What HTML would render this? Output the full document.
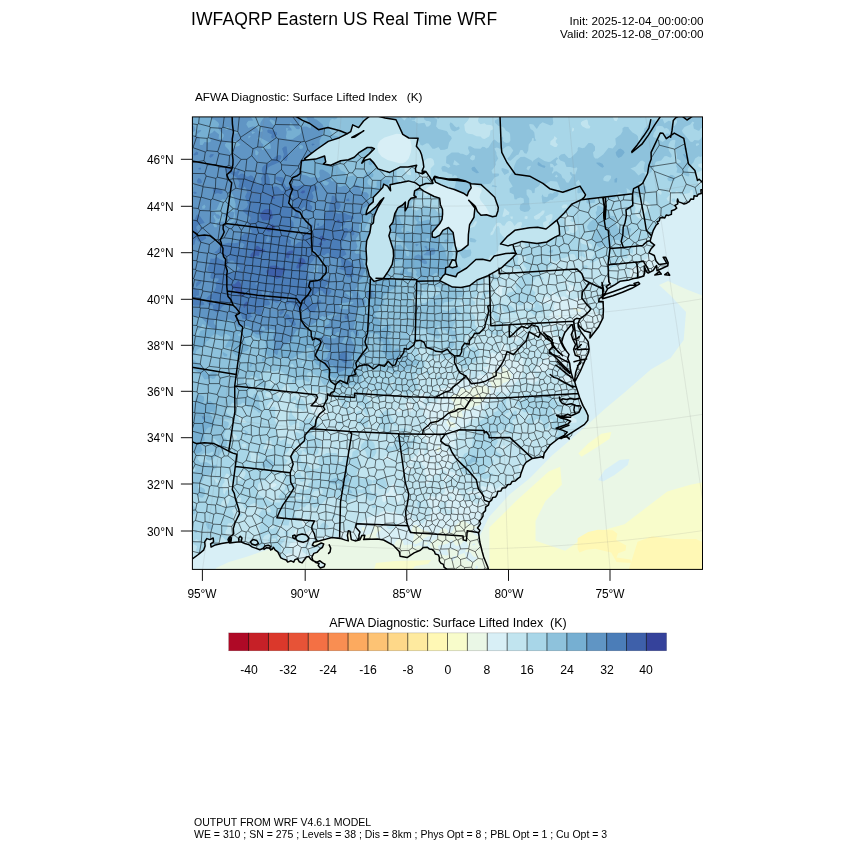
<!DOCTYPE html>
<html><head><meta charset="utf-8">
<style>
html,body{margin:0;padding:0;background:#fff;}
body{width:850px;height:850px;position:relative;overflow:hidden;font-family:"Liberation Sans",sans-serif;color:#000;}
.t{position:absolute;white-space:pre;line-height:1;}
.t,.yl,.xl,.cl{will-change:transform;}
#title{left:190.9px;top:10.5px;font-size:17.5px;letter-spacing:0.1px;}
#init{right:146.3px;top:13.6px;font-size:11.7px;text-align:right;line-height:13.3px;}
#sub{left:195.0px;top:91.1px;font-size:11.75px;}
#cbt{left:247.8px;width:400px;text-align:center;top:617px;font-size:12.45px;}
#foot{left:193.6px;top:816.1px;font-size:10.5px;line-height:12.4px;}
.yl{position:absolute;right:676.2px;font-size:11.9px;line-height:1;white-space:pre;}
.xl{position:absolute;width:60px;text-align:center;font-size:11.9px;line-height:1;top:588.9px;}
.cl{position:absolute;width:40px;text-align:center;font-size:12.2px;line-height:1;top:664.3px;}
svg{position:absolute;left:0;top:0;}
</style></head><body>
<div class="t" id="title">IWFAQRP Eastern US Real Time WRF</div>
<div class="t" id="init">Init: 2025-12-04_00:00:00
Valid: 2025-12-08_07:00:00</div>
<div class="t" id="sub">AFWA Diagnostic: Surface Lifted Index   (K)</div>
<div class="t" id="cbt">AFWA Diagnostic: Surface Lifted Index  (K)</div>
<div class="t" id="foot">OUTPUT FROM WRF V4.6.1 MODEL
WE = 310 ; SN = 275 ; Levels = 38 ; Dis = 8km ; Phys Opt = 8 ; PBL Opt = 1 ; Cu Opt = 3</div>

<div class="yl" style="top:154.8px">46°N</div>
<div class="yl" style="top:201.8px">44°N</div>
<div class="yl" style="top:248.2px">42°N</div>
<div class="yl" style="top:294.8px">40°N</div>
<div class="yl" style="top:340.8px">38°N</div>
<div class="yl" style="top:386.8px">36°N</div>
<div class="yl" style="top:433.2px">34°N</div>
<div class="yl" style="top:479.5px">32°N</div>
<div class="yl" style="top:526.5px">30°N</div>
<div class="xl" style="left:172.4px">95°W</div>
<div class="xl" style="left:275.2px">90°W</div>
<div class="xl" style="left:376.8px">85°W</div>
<div class="xl" style="left:478.5px">80°W</div>
<div class="xl" style="left:580.0px">75°W</div>
<div class="cl" style="left:228.6px">-40</div>
<div class="cl" style="left:268.4px">-32</div>
<div class="cl" style="left:308.2px">-24</div>
<div class="cl" style="left:347.9px">-16</div>
<div class="cl" style="left:387.7px">-8</div>
<div class="cl" style="left:427.5px">0</div>
<div class="cl" style="left:467.3px">8</div>
<div class="cl" style="left:507.1px">16</div>
<div class="cl" style="left:546.8px">24</div>
<div class="cl" style="left:586.6px">32</div>
<div class="cl" style="left:626.4px">40</div>
<svg width="850" height="850" viewBox="0 0 850 850">
<defs><clipPath id="fc"><rect x="192.4" y="116.9" width="510.1" height="452.5"/></clipPath></defs>
<g clip-path="url(#fc)">
<clipPath id="landc"><path d="M132.5,56.5L782.5,56.5L726.5,169.1L718.5,174.2L711.8,177.8L702.5,180.7L706.0,186.6L705.3,187.2L698.3,194.2L690.9,199.0L686.6,203.2L681.6,202.9L677.6,198.9L677.2,201.3L674.4,209.8L668.6,215.4L662.3,217.5L657.1,221.7L658.2,223.4L656.0,225.3L653.3,230.3L651.6,235.9L650.2,240.7L650.8,242.2L654.6,245.1L650.9,249.1L648.9,252.8L654.3,255.5L656.0,261.0L659.0,264.5L666.6,263.4L665.4,260.8L663.1,257.2L665.7,257.3L668.2,262.7L667.8,265.8L657.0,270.8L656.6,265.5L653.0,270.6L649.5,272.3L648.2,273.1L646.3,271.6L644.2,266.1L644.7,272.9L643.8,276.0L637.5,278.0L633.4,278.5L629.2,279.9L619.9,281.3L615.1,284.6L607.6,288.8L604.9,293.7L602.7,295.1L602.7,289.3L602.0,282.5L603.5,289.3L603.0,292.7L601.8,297.4L599.3,298.4L598.7,301.6L603.1,301.4L603.4,309.9L603.0,317.9L598.3,327.3L589.9,338.0L590.3,332.4L584.8,331.1L579.1,325.9L578.0,323.7L578.3,327.1L581.4,332.5L585.4,337.9L588.1,341.6L589.1,349.0L588.5,352.5L584.0,362.8L580.2,371.5L575.2,381.1L575.0,385.0L575.6,385.7L578.0,393.5L580.8,400.1L585.1,407.8L587.4,414.5L586.8,423.0L578.3,427.4L569.2,438.9L566.8,436.8L558.4,438.5L550.3,444.8L544.2,453.2L543.3,458.0L542.5,456.7L532.3,458.4L526.0,462.4L523.8,465.7L520.8,473.9L517.7,478.6L512.0,481.6L507.7,484.7L505.5,487.8L497.8,491.3L497.0,494.7L492.7,497.4L489.4,501.8L485.6,507.2L483.1,513.0L481.3,518.9L479.1,525.8L478.6,532.8L479.8,542.0L482.1,551.2L483.7,557.0L487.9,567.3L489.0,571.9L494.4,583.4L454.6,584.0L452.5,574.7L446.4,568.9L439.3,560.8L439.3,557.3L434.4,551.5L427.4,547.3L423.4,547.4L420.3,550.2L414.1,552.9L407.1,557.6L400.1,556.2L399.2,551.4L393.4,545.4L383.6,540.0L377.6,539.1L363.6,539.6L364.0,538.9L364.8,535.3L361.8,535.6L360.0,539.7L357.2,540.5L355.1,540.9L351.3,539.6L350.8,536.5L350.0,531.2L348.3,530.8L347.4,535.4L348.3,540.9L345.5,540.1L340.2,538.4L331.8,537.5L324.4,539.6L319.1,540.9L313.8,542.2L312.3,545.2L314.8,546.4L318.2,544.7L321.2,543.0L323.7,543.9L322.5,547.3L319.5,549.4L316.9,552.4L313.8,553.4L311.9,557.0L312.7,560.0L315.7,562.5L319.1,563.4L318.2,565.5L320.3,568.0L324.1,566.8L325.0,564.2L322.5,562.9L319.9,560.8L316.9,562.1L313.1,560.8L310.6,559.1L308.9,556.6L306.4,557.0L304.2,560.0L302.1,562.9L299.2,561.7L297.5,558.7L294.9,559.6L293.7,562.1L291.1,560.8L287.7,562.1L286.2,560.0L283.5,559.1L280.9,557.9L279.3,554.9L277.8,551.9L275.0,549.8L273.5,547.3L272.1,549.4L269.3,548.5L270.8,546.4L268.2,545.2L265.1,546.0L262.9,548.5L259.8,549.8L255.5,548.1L252.4,547.1L249.2,544.9L244.9,543.5L240.7,541.8L235.4,542.2L229.7,543.0L229.1,542.2L221.6,543.5L215.3,544.9L211.1,547.1L210.6,543.9L213.6,541.8L213.2,538.0L210.0,539.6L206.8,538.6L204.7,541.8L205.1,546.0L203.6,550.2L198.4,554.5L192.0,559.1L180.0,566.0L150.0,590.0L132.5,629.0Z"/></clipPath>
<clipPath id="lakec"><path d="M374.1,281.4L369.3,276.0L368.2,271.3L366.2,264.2L366.7,259.2L366.0,248.8L366.7,240.7L369.9,232.6L371.1,224.9L373.4,223.0L374.0,216.6L375.3,213.5L377.7,207.9L383.0,199.0L383.8,197.8L380.5,200.7L376.2,206.6L371.1,211.0L366.0,214.6L366.7,210.7L368.9,205.6L373.2,201.9L373.4,197.3L378.5,191.9L382.7,187.5L383.7,184.1L387.6,186.1L390.6,190.8L390.0,184.8L395.6,183.4L401.2,182.5L408.4,180.9L415.5,182.9L419.8,186.0L419.7,188.0L414.6,190.9L414.0,195.4L416.3,197.1L411.0,198.3L408.7,201.0L407.7,206.7L405.2,210.8L405.4,202.1L402.6,205.0L398.0,207.6L394.8,213.6L392.9,222.2L389.6,226.4L390.6,230.1L388.9,235.8L391.9,245.5L393.2,249.4L393.6,256.0L392.2,264.4L388.5,270.9L383.7,278.0L381.0,279.5L374.1,281.4Z M419.7,188.0L423.8,191.1L434.2,196.5L439.6,198.1L440.4,204.7L442.5,209.5L442.6,214.1L442.0,219.4L440.0,223.2L435.9,228.0L432.2,232.3L432.2,236.9L435.0,237.6L439.9,235.1L442.9,230.3L448.5,227.4L453.1,232.4L455.2,245.6L457.0,251.7L461.5,250.1L468.1,244.8L468.4,234.5L469.6,224.7L473.9,217.3L474.9,208.1L470.7,202.5L468.7,200.2L474.8,205.8L475.6,207.0L477.4,211.5L481.0,215.3L486.4,214.7L492.6,216.8L496.2,216.0L497.9,210.9L498.3,207.5L494.7,197.3L488.9,191.8L484.8,188.0L480.8,184.4L471.2,183.7L464.8,180.8L457.6,179.1L448.0,179.1L438.6,177.5L434.7,176.3L432.3,180.9L433.0,183.4L425.9,183.5L419.8,186.0L419.7,188.0Z M304.7,158.7L306.1,160.0L315.7,159.1L324.6,156.0L325.7,161.9L323.4,164.0L330.9,165.3L340.7,160.8L348.4,159.8L354.3,157.2L359.4,152.3L367.3,147.5L371.6,147.5L374.4,148.8L369.4,153.6L364.5,157.9L361.8,163.2L365.1,160.2L369.9,158.9L373.3,162.3L378.0,168.9L386.6,171.6L389.7,172.4L400.5,166.9L408.0,167.1L416.7,165.3L415.4,168.5L415.8,171.9L422.5,173.9L426.0,171.6L422.1,170.9L423.8,167.0L423.1,161.7L421.6,154.8L420.1,150.9L416.4,146.2L418.1,138.2L408.8,138.0L402.8,134.4L398.5,125.0L396.0,119.8L385.1,118.0L371.6,114.5L363.6,121.0L358.6,127.6L352.7,124.9L350.7,131.6L347.4,133.7L339.4,137.7L328.2,141.4L316.6,149.5L309.8,154.6L304.7,158.7Z M439.7,280.7L445.7,283.7L452.5,287.1L461.0,287.5L469.5,285.8L477.1,280.0L488.0,275.6L496.4,270.8L502.0,267.4L512.7,257.6L516.4,253.6L513.3,253.0L505.8,253.6L494.2,256.0L490.2,260.9L482.6,259.3L475.9,259.5L466.7,268.0L457.5,273.4L455.8,276.8L449.0,275.0L445.2,273.9L443.1,275.7L439.7,280.7Z M449.0,266.6L452.4,259.7L455.7,260.9L457.0,266.5L452.4,267.7L449.0,266.6Z M500.5,243.9L506.8,236.9L514.8,230.3L529.5,227.8L537.7,227.3L546.0,229.0L549.1,226.5L553.8,222.7L556.9,220.2L559.0,225.8L559.7,234.9L554.9,237.1L546.9,242.0L537.0,243.5L521.9,241.4L512.9,244.4L508.0,245.9L500.5,243.9Z M602.8,197.6L604.3,206.6L603.7,214.7L604.0,219.3L605.2,219.2L605.5,213.4L606.1,206.4L605.4,197.3L602.8,197.6Z M295.8,537.1L297.9,535.0L302.1,534.1L306.4,535.0L308.9,538.0L307.4,540.9L303.2,542.2L298.9,541.3L296.2,539.6L295.8,537.1Z M571.3,324.7L568.3,328.3L564.7,332.9L563.1,337.1L561.7,342.0L563.9,347.0L566.4,351.1L569.0,354.4L567.7,358.5L569.7,363.4L570.3,368.4L571.3,373.3L572.9,378.3L574.9,382.4L575.9,386.0L577.2,390.0L574.6,380.2L575.7,372.5L577.9,365.9L580.5,361.0L579.5,356.8L575.3,355.2L573.6,349.4L575.6,344.5L572.9,339.5L571.3,334.6L573.3,329.7L572.3,324.7Z M578.9,398.2L580.5,406.1L581.2,407.4L581.2,407.4L578.9,412.4L575.3,414.0L571.3,415.7L567.7,414.3L564.4,415.7L560.4,416.3L556.5,415.3L560.8,418.0L566.0,419.3L570.6,421.3L568.0,423.9L564.4,425.2L560.8,426.5L556.1,428.2L562.4,430.1L567.3,432.1L564.7,435.1L559.8,437.7L561.1,438.7L566.4,435.9L572.9,431.8L579.5,427.7L584.5,424.4L587.8,420.3L588.1,415.7L586.1,411.2L582.8,405.4L579.5,397.2L577.2,390.0Z M433.8,177.2L441.2,178.3L449.4,180.1L457.7,180.5L465.9,181.6L470.0,182.9L471.2,187.9L468.4,192.0L467.2,195.8L463.4,193.2L454.4,189.5L447.8,187.6L441.2,184.9L435.4,182.1L433.8,177.2Z M351.8,137.5L363.0,131.3L363.8,130.7L354.9,137.0L351.8,137.5Z" clip-rule="evenodd"/></clipPath>
<rect x="190.5" y="114.5" width="514.0" height="456.5" fill="#d8eff6"/>
<path d="M470.0,575.0L470.0,536.0L479.5,536.5L489.0,517.0L509.5,494.5L529.5,478.5L552.0,455.5L572.5,438.0L585.5,426.5L604.7,409.1L624.5,392.6L650.8,369.5L670.6,358.0L683.7,339.9L686.0,312.0L670.0,295.0L659.0,285.0L668.0,281.0L688.0,290.0L706.0,297.0L706.0,575.0Z" fill="#eaf7e6"/>
<path d="M269.0,520.0L269.0,549.0L246.0,557.0L229.0,562.0L216.0,568.0L214.0,575.0L472.0,575.0L472.0,520.0Z" fill="#eaf7e6"/>
<path d="M485.0,575.0L489.4,567.8L489.4,527.6L515.8,501.3L548.7,471.6L560.2,466.7L561.9,484.8L545.4,501.3L535.5,521.0L535.5,540.8L565.2,550.7L588.2,534.2L624.5,524.3L667.3,491.4L690.3,484.8L706.0,481.5L706.0,575.0Z" fill="#f8fccb"/>
<path d="M627.0,575.0L637.6,541.8L651.8,536.5L674.7,539.1L695.9,539.1L706.0,543.5L706.0,575.0Z" fill="#fff8b5"/>
<path d="M577.6,538.2L588.2,532.1L597.9,529.8L612.9,530.3L617.4,533.8L616.1,540.0L626.2,545.6L625.6,550.6L618.2,553.2L616.5,557.6L630.6,559.4L631.5,562.9L616.5,562.1L611.2,552.4L595.3,548.8L586.5,549.7L579.4,552.4L577.6,548.8Z" fill="#fff8b5"/>
<path d="M374.0,570.0L376.0,563.0L395.0,561.0L420.0,560.5L431.0,560.0L428.0,564.0L415.0,566.0L412.0,570.0Z" fill="#f8fccb"/>
<path d="M598.1,479.9L604.7,470.0L619.5,460.1L629.4,459.1L627.7,465.0L614.6,474.9L603.0,481.5Z" fill="#d8eff6"/>
<path d="M578.3,453.5L588.2,443.6L601.4,433.8L611.3,432.1L609.6,438.7L594.8,448.6L581.6,456.8Z" fill="#f8fccb"/>
<g clip-path="url(#landc)">
<rect x="190.5" y="114.5" width="514.0" height="456.5" fill="#f8fccb"/>
<path d="M186.5,110.5L708.5,110.5L708.5,573.9L707.9,574.5L604.2,574.5L603.8,572.5L601.2,570.5L600.5,566.4L598.5,566.4L596.5,568.9L593.8,570.5L595,574.5L536.7,574.5L536,572.5L532.5,570.6L528.5,566.1L525.9,566.5L523.5,568.5L522.2,570.5L522.8,574.5L186.5,574.5Z M476.2,394.5L475.2,396.5L476.5,397.9L478.5,397.4L478.5,395.6Z M526.6,522.5L526.1,526.5L527.2,528.5L528.5,529.6L532.5,528.4L533.9,526.5L528.5,521.9Z M698.2,528.5L694.2,532.5L693.8,534.5L694.4,536.5L693.3,540.5L697.1,542.5L698.5,544.4L703.6,536.5L704,534.5L703.2,532.5Z M576.5,536.2L572.5,537.2L571.3,538.5L572.4,544.5L571.3,546.5L571.2,550.5L569.8,552.5L571,556.5L572.5,558.9L575,560.5L576.5,564L580.2,562.5L581.8,560.5L578.6,558.5L578,556.5L582.5,555.6L584.3,548.5L586.5,549.3L587.2,548.5L587.2,546.5L582.5,541.6L581.2,538.5Z M631.8,546.5L631.6,548.5L634.5,550.1L636.5,552.8L640.2,550.5L640.5,548.2L636.5,545.4L634.5,544.7Z M694.2,548.5L691.5,550.5L692.6,554.5L694.5,556.5L698.8,554.5L699.9,552.5L700,550.5Z M395.6,562.5L395.6,566.5L396.5,568L398.5,568.3L400.5,566.5L398.8,562.5L396.5,561.4Z M410.5,563.4L410.5,565.3L412.5,565.6L413.1,564.5L412.5,562.6Z M680.5,566L676.5,568.8L675.7,570.5L676.5,571.8L678.5,572.3L683.2,570.5L683.9,568.5L683,566.5Z" fill="#eaf7e6" fill-rule="evenodd"/>
<path d="M186.5,110.5L708.5,110.5L708.5,285.4L706.5,285.6L704.7,288.5L705.9,296.5L706.5,297.9L708.5,298.8L708.5,327.7L707.6,328.5L706.5,331.7L704.5,332.9L702.5,331.9L700.5,332L698.7,334.5L700.5,336.7L704.5,335.9L708.5,337.4L708.5,341.8L706.5,341.5L705.9,346.5L706.6,350.5L708.5,351.7L708.5,406.4L705.9,408.5L706,410.5L708.5,409.9L708.5,469L704.3,474.5L706.5,476.2L708.5,476.7L708.5,487.6L704.7,492.5L706.1,498.5L705.1,500.5L702.5,500.5L700.5,499.5L699.8,496.5L696.5,495.2L692.5,495.5L691,496.5L690.3,498.5L688.5,500.6L686.5,501L680.7,498.5L678.5,495.8L676.5,496.9L674.5,499.9L668.5,502.8L666.7,506.5L662.5,507.7L660.5,507.4L656.3,504.5L654.8,502.5L655,500.5L657,498.5L656.5,497.8L652.5,498.7L651.9,494.5L650.5,493L648.5,492.6L646.5,493.1L643.7,496.5L646.5,501.4L652.4,504.5L653.3,506.5L652.5,507.7L648.5,507.6L646.9,508.5L646.6,510.5L648.5,512.5L650.5,512.1L654.5,509.8L656.5,511.6L659.4,516.5L658.3,522.5L654.5,524.1L652,526.5L650.7,530.5L648.5,530.9L647.2,530.5L646.8,526.5L644.5,523.1L642.5,521.6L641.1,522.5L641.3,526.5L636.5,527.7L634.9,530.5L638.5,537.6L642,538.5L640.5,540.4L634.5,537.8L632.5,537.9L629.4,540.5L628.5,543.6L622.5,542.3L620.5,542.8L612.5,551.8L610.5,552.9L606.5,552L604.5,548.8L602.5,547.3L600.5,548.4L601.1,550.5L600.8,556.5L596.1,560.5L594.5,564.9L593.1,564.5L592.2,562.5L593.2,560.5L592.8,558.5L594.8,554.5L596.5,546.5L594.5,542.7L591.1,540.5L593.6,536.5L593.7,530.5L592.5,528.5L590.5,528.5L587.5,530.5L585.4,530.5L583.5,528.5L583.5,526.5L582.5,525.1L578.5,522.4L576.5,523.2L574.5,527L572.5,528.2L568.5,527.9L564.5,529.1L562.6,530.5L560.5,534.9L556.5,535.5L554.5,535L548.5,530.6L546.5,528.3L545.7,526.5L547.6,522.5L542.2,516.5L540.5,511.4L538.5,510.7L534.5,513.5L533.3,510.5L530.5,509.7L528.7,510.5L531.3,512.5L530.5,513.6L528.5,514L527.5,512.5L528.3,510.5L526.5,509.9L524.5,511.4L523.9,514.5L522.5,515.9L517.7,516.5L522.5,517.8L522.5,521.2L520.5,522.1L518.5,521.3L514.5,522.4L512.5,521.6L511.2,522.5L512.5,523.1L514.5,522.6L515.8,526.5L515.7,528.5L514.5,532.3L512.5,532.8L510.5,536.6L506.5,536L504.6,534.5L502.5,531.1L500.5,530.2L499,530.5L499.4,532.5L498.5,534.2L495.7,534.5L495.3,532.5L496.5,530.5L498.5,530.3L499.3,528.5L498.5,526.4L492.5,521.8L488.5,523.6L486.5,522.9L484.5,520.5L480.5,522.5L478.5,526.4L476.5,526.4L468.5,523.8L462.5,520L460.5,520.9L454.5,526.4L453.1,530.5L450.5,532.9L448.5,533.3L447.7,532.5L447.7,530.5L445.3,528.5L442.2,528.5L440,530.5L436.5,539.2L432.7,540.5L431.6,542.5L429.2,544.5L430.5,547.3L436.5,552L438.5,552.7L439,550.5L438,546.5L438.5,545.5L442.5,545.1L448.5,543.3L450.2,540.5L452.5,539.4L454.6,544.5L456.5,546.1L461,544.5L462.5,542.6L466.5,539.6L466.7,542.5L468.8,546.5L465.2,550.5L465.4,552.5L468.5,551.6L470.5,552.5L472.5,555.6L474.5,557.2L476.7,556.5L477,558.5L475,560.5L474.5,562.4L466.8,560.5L464.5,552.8L458.5,555.3L457.7,554.5L458.6,550.5L456.5,548.7L452.5,549.7L448.5,548.1L447,550.5L448.9,554.5L446.5,555.8L440.5,554.3L434.5,555L431.7,552.5L424.5,549.8L422.5,550.5L422.5,555.2L420.5,557.1L419.6,552.5L420,550.5L422.1,548.5L421.4,546.5L418.5,545.3L414.5,547.3L412.5,544.7L410.5,544.2L404.5,545.2L403.6,544.5L402.5,540.6L400.5,538.3L396.5,540.5L395,542.5L393.3,548.5L390.4,552.5L388.5,554L384.5,555.4L378.5,555.1L376.5,554L375.7,550.5L380.5,549.1L383.3,544.5L383.1,542.5L381.6,540.5L376.3,536.5L376.1,534.5L377.1,532.5L380.6,530.5L381.1,528.5L378,526.5L376.5,524.4L373.5,526.5L373.9,530.5L372.6,532.5L370.5,534.1L366.5,534.9L362.2,538.5L361.9,540.5L362.5,542.4L366.5,541.8L370.5,546.5L364.5,552.6L363.9,554.5L364.6,556.5L364.5,558.8L362.5,560.1L360.5,560.2L358.5,561.7L353.8,568.5L354.5,570.3L358.5,573.2L370.7,560.5L372.5,559.6L374.5,561.1L378.5,567.9L382.5,569.4L383.1,570.5L382.6,574.5L345.6,574.5L343.1,572.5L343.7,568.5L343.1,566.5L332.5,564L328.5,565.4L324.5,564.2L323.9,570.5L322.7,574.5L317.9,574.5L316.5,571.7L313.4,572.5L312.6,574.5L186.5,574.5Z M700.5,303.6L699.3,306.5L698.5,307L696.5,306.7L694.5,308.3L696.5,312.6L699.3,312.5L700.5,308.3L703.8,306.5L702.5,303.9Z M650.5,306.5L650.4,308.5L651.2,310.5L654.5,311.8L656.5,311.9L657.5,310.5L657.2,308.5L654.5,305.5L652.5,305.2Z M572.6,308.5L578.5,312L580.5,312.1L581.2,310.5L580.5,309.3L576.5,309.1L574.5,307.5Z M558.4,314.5L558.8,316.5L560.5,317L561,316.5L560.5,315Z M640.1,316.5L639.2,318.5L640.5,320.2L642.5,318.7L643.9,318.5L642.5,318.3L641.7,316.5Z M687.9,318.5L684.5,320.6L682.5,319.9L681.1,320.5L681,322.5L682.1,328.5L686.5,331.7L688.5,332.1L690.5,329.1L692.5,328.5L693.4,326.5L694.5,325.9L696.5,326.7L698.5,326L699.6,320.5L698.5,319.5L694.5,319L692.5,317.6Z M638,326.5L635.4,330.5L635.1,332.5L636.5,334.2L640.5,335L642.5,333.6L643.8,328.5L643.3,326.5L642.5,325.1L640.5,325.1Z M688.5,333.3L686.5,336.8L681.3,338.5L681.1,340.5L682.5,341.9L686.5,342.3L691.9,336.5L690.5,334Z M575.6,354.5L575.6,356.5L576.5,357.3L578.5,357L578.5,353.6L576.5,352.6Z M633.4,360.5L632.6,362.5L634.5,363.5L636.5,363.4L637,362.5L636.5,360.5L634.5,360Z M501.6,368.5L502.5,370.5L501.8,372.5L498.5,372.6L494.5,371.3L492.5,372.4L491.4,378.5L488.8,382.5L490.5,383.1L492.5,387.7L494.4,388.5L498.5,387.4L500.5,386.1L502.5,383.5L508.5,381.3L511.6,376.5L511.5,374.5L506,368.5L504.5,367.3L502.5,367Z M476.1,384.5L472.5,387.2L470.5,387.8L468.5,390.5L462.5,388L461,388.5L459,392.5L456.5,394.2L452.5,395.2L451.4,396.5L450.8,398.5L451.7,400.5L454.3,402.5L454.5,404.5L453.3,408.5L448.5,410.5L447.5,412.5L450.5,414.9L451.1,416.5L455.3,418.5L456.2,420.5L456.8,418.5L456.3,416.5L460.5,417.3L462.5,417.3L463.1,416.5L461.7,412.5L462.1,410.5L468.5,410.6L470.5,407.8L480.4,404.5L481.2,402.5L485.1,398.5L486,396.5L490.5,392.5L490.3,390.5L488.8,388.5L484.5,385L480.5,385.9L478.5,384.8Z M668.5,405.8L661.8,408.5L660.9,410.5L661.8,412.5L664.5,414.5L666.5,414.3L670.5,417.3L672.5,416.9L673.7,414.5L673.2,412.5L671.5,410.5L671.2,408.5L672.2,406.5Z M694.2,416.5L694.5,419L695.6,420.5L696.5,421.3L698.5,421.6L699.1,418.5L698.5,415.5L696.5,414.8Z M434.1,420.5L433.9,422.5L434.5,423.2L436.5,423.4L437.4,422.5L437.2,420.5L436.5,420Z M448.5,419.3L446.1,422.5L448,424.5L448.5,426.6L452.5,427.8L455.7,426.5L454.5,423L450.5,421.7Z M438.4,446.5L436.3,450.5L436.5,451.5L438.5,451.9L440.8,448.5L440.5,447.4Z M689.9,448.5L686.1,450.5L688.5,451.3L690.5,453.1L692.5,452.6L693.5,450.5L692.8,448.5Z M651.4,460.5L652.3,464.5L651.7,466.5L648.4,470.5L650.5,472.1L652.8,470.5L656.5,469.4L657.2,468.5L654.9,464.5L654.5,461.3Z M636.6,466.5L631.6,470.5L631.9,472.5L634.1,474.5L636.3,482.5L639,484.5L639.5,486.5L636,490.5L636.5,491.5L638.5,492L640.5,489.4L643.5,488.5L644.9,486.5L644.6,484.5L642.6,482.5L639.9,476.5L640.5,474.1L643.3,472.5L644.4,470.5L644.4,468.5L644.2,466.5L642.5,465.8Z M652.5,473.2L649.6,476.5L648.6,478.5L650.5,479.2L652.5,478.5L653.1,476.5Z M698.4,476.5L700.5,480.5L702.5,480.3L703.5,476.5L700.5,475.5Z M614.4,482.5L610.5,484.5L610.9,488.5L608.5,492.6L614.5,493.7L617.4,492.5L618.3,488.5L617.2,482.5Z M693.8,484.5L694.5,487.7L696.5,489.7L698.5,489.9L702.5,486.6L704.5,486.2L705.4,484.5L702.5,482.6L698.5,483.6L696.5,482.9L694.5,483.2Z M620.8,490.5L618.5,494.5L620.5,497L622.5,496.5L624.5,495L626.5,495.1L628.5,496.2L630,494.5L628.5,490.5L624.5,489.5Z M614.4,498.5L613.1,502.5L610.9,504.5L610.6,508.5L602.5,515.9L596.5,515.4L594.9,516.5L594,518.5L594.5,522.4L596.5,523.1L597.9,522.5L600.5,517.5L602.5,517L604.5,517.5L608.5,520.1L616.5,519.6L622.9,522.5L624.5,525.3L626.5,525.3L627.5,524.5L628.7,522.5L624,516.5L624.3,514.5L626.5,514.6L628.5,516.2L629.8,514.5L630,512.5L633.6,508.5L634.1,502.5L632.5,500.1L626.5,503.2L624.5,502.7L622.5,499.6L618.5,500.5L616.5,498.3Z M547.7,504.5L548.5,507L550.6,506.5L551.1,504.5L550.5,503.6L548.5,503.4Z M504.5,513.8L502.6,518.5L504.5,520.7L505.9,518.5Z M564.4,514.5L562.5,516.2L562.5,516.8L564.5,517.4L566,516.5L566.9,514.5Z M490.1,516.5L489.2,518.5L490.5,520.2L492.5,519.9L495.4,516.5L494.5,515L492.5,515.1Z M550.3,516.5L550.5,518.5L552.5,518L553.6,516.5L552.5,515.7Z M412.7,526.5L411.4,530.5L411.6,532.5L414.4,534.5L412.7,540.5L413,542.5L414.5,544L416.5,544L420.5,541.9L422.5,540.5L423.8,538.5L428.5,536L430,536.5L430.5,537.4L431,536.5L428.5,531.3L424.5,530.5L420.5,528.5L416.5,525.1L414.5,524.8Z M607.7,526.5L608.5,528.6L610.7,526.5L608.5,525.7Z M361.6,528.5L362.5,530.8L364.5,531.1L365.4,530.5L365.4,528.5L364.5,527.5L362.5,526.7Z M608.5,539L607.4,542.5L608.5,543.2L609.5,540.5Z M424.1,542.5L424.5,544.7L427.4,544.5L427.4,542.5Z M302,560.5L300.5,563L297.2,564.5L298.5,567.5L300.5,566.9L305.1,562.5L304.9,560.5Z M702.5,504.3L703.8,506.5L702.5,507.4L701.2,506.5Z M686.5,509.4L688.5,509.3L692.5,515.7L698.5,516.3L700.9,518.5L700.5,519.7L687.1,528.5L688.5,532.5L683.2,538.5L682.5,541.9L680.5,542.1L676.5,540.1L674.5,539.8L673.2,540.5L675.3,542.5L674.9,544.5L670.6,546.5L670.1,550.5L670.5,554.7L666.5,556.7L665.7,560.5L664.5,561.7L662.5,561.9L660.1,560.5L658.5,558.5L652.6,546.5L652.8,544.5L655.6,540.5L654.4,536.5L652.1,532.5L658,526.5L660,522.5L662.5,521.7L667.2,516.5L670.5,514.9L671.5,516.5L671.5,520.5L674.5,520.7L678.5,518.4L680.5,518.7L684.5,521L687.7,518.5L688.3,516.5L685.4,512.5L684.8,510.5Z M665.7,524.5L666.5,526.6L668,524.5L666.5,522.5Z M474.5,528.3L476.5,527.5L476.8,528.5L480.5,530.9L481.7,532.5L482.6,536.5L487.8,542.5L488.8,546.5L490.5,548.2L493.4,548.5L494.5,550.5L490.5,552.4L488.5,549.2L485.2,546.5L480.5,545.4L478.5,543.2L478.4,536.5L474.3,534.5L472.9,532.5L472.7,530.5Z M472.5,544.1L474.5,543.4L475.8,544.5L472.5,545.4Z M538.5,544.4L540.9,546.5L541.2,548.5L540.5,548.9L537.1,546.5Z M682.5,542.7L684.5,542.6L686.5,544L687,546.5L686.5,547.3L682.5,548.5L680.5,551.2L678.5,552.2L676.5,552.1L674.9,550.5L676.7,548.5L680.5,547.7Z M524.5,548.9L526,552.5L528.5,555.3L531,560.5L530.5,560.9L528.5,561.2L524.3,558.5L521.3,554.5L524.2,550.5Z M549.3,550.5L556.5,548.8L559.9,552.5L560.5,554.5L558.5,555.4L556.5,555.7L554.5,554.5L552.5,551.7L550.2,554.5L554.5,561.8L556.5,562.5L552.5,562.7L550.5,565.8L541.6,564.5L539,560.5L536.4,558.5L535.1,556.5L536.1,554.5L542.5,555.8L544.5,555.3Z M452.5,556.8L456.5,555.8L457.2,556.5L452.5,561.4L451.6,560.5L451.5,558.5Z M564.5,555.5L566.8,556.5L566.5,558.8L564.1,558.5L563.2,556.5Z M614.5,555.2L616.5,555.8L617,556.5L616.5,558.1L614.5,557.7L613.3,556.5Z M618.5,560L620.6,562.5L620.5,564.8L618.5,563.8Z M632.5,560.9L638.5,561.7L639.4,562.5L640.1,566.5L642.5,568.5L646.5,569.2L647.2,570.5L646.1,574.5L617.9,574.5L617.8,572.5L620.7,570.5L621.5,566.5L622.5,565.5L628.5,565.6Z M566.5,564.5L568.9,566.5L570.8,570.5L574.5,572.4L575.6,574.5L555.6,574.5L556.5,572.3L560.5,573.1L561.8,568.5L566,566.5Z M476.5,565.5L478.1,566.5L476.8,570.5L476.8,572.5L478.5,573.9L480.7,574.5L472.1,574.5L472.6,572.5L475.3,568.5L475.6,566.5Z M496.5,568.8L498.5,568.5L500.5,572.8L504.5,570.2L506.5,569.9L507.3,570.5L507,572.5L506,574.5L496.9,574.5L495.8,570.5Z M690.5,572L692.5,572.1L695.5,574.5L689.4,574.5Z" fill="#d8eff6" fill-rule="evenodd"/>
<path d="M186.5,110.5L708.5,110.5L708.5,177.8L707.1,178.5L706.9,180.5L708.5,181.5L708.5,212.3L707.4,214.5L708.5,217.2L708.5,230.1L706.5,229.3L705.8,230.5L706.5,233.5L708.5,236.1L708.5,277L706.5,275.9L704.1,272.5L703.8,268.5L701.9,264.5L702.1,262.5L701.4,260.5L699.2,258.5L697.7,254.5L692.5,251.3L688.5,250.2L686.5,250.8L685,252.5L684.5,256.6L680.5,255.4L676.5,256.4L674.5,255.9L670.9,252.5L668.5,252.3L669.4,254.5L671.6,256.5L672.1,258.5L668.5,263.6L660.5,264.8L658.1,260.5L653,256.5L652.2,254.5L652.5,251.9L650.5,250.1L648.5,251.8L648.2,256.5L647,258.5L643,260.5L641.5,262.5L642.5,265.8L644.5,267.3L644.5,269L642.5,269.4L640.9,266.5L638.5,266.1L636.5,266.2L630.5,268.5L629.6,274.5L630.4,278.5L633.8,280.5L636,284.5L635.7,286.5L630.3,288.5L631.3,290.5L633.7,292.5L633.8,294.5L632.5,295.5L630.5,295.4L627.7,292.5L620.5,289.8L616.5,286.7L611.7,286.5L610.4,284.5L613.2,282.5L608.5,277.7L606.5,277.9L604.3,280.5L606.5,282.9L608.4,288.5L607.2,290.5L604.5,292.5L604.4,294.5L606.5,296.3L608.7,296.5L606.5,296.6L605.2,298.5L605.4,304.5L604.5,305L602.5,304.1L600.5,304.3L599,306.5L602.5,309.1L604.8,312.5L600.5,314.8L598.5,314.4L594.5,310.6L588.4,308.5L589.3,304.5L584.5,303.2L581.4,298.5L578.5,297.4L570.5,300.5L564.5,296.3L558.5,297.2L554.9,294.5L552.5,290.9L552,292.5L552.4,294.5L550.5,298.4L548.5,298.3L547.5,296.5L546.5,296.3L542.9,298.5L542.2,300.5L544.5,302.4L546.5,302.6L548.5,304L550.5,302.9L552.5,300.6L555,300.5L555.7,302.5L553.1,306.5L554.2,308.5L554.2,310.5L549.4,314.5L549.2,316.5L550,318.5L553.4,320.5L548.7,326.5L546.5,327.1L542.5,326.1L539.9,328.5L534.5,331.1L529.8,332.5L529.3,334.5L532.5,337.4L536.5,338L538.5,337.4L542,340.5L548.5,341L550.2,342.5L546.5,345.8L545.4,348.5L548.5,349.5L550.5,349.2L552.5,347.7L554.5,347.6L557.9,350.5L558.4,352.5L556.5,355.5L554.5,356.4L548.5,356.1L545.4,358.5L544.3,360.5L539.5,362.5L535.9,368.5L535.5,370.5L536.5,371.6L540.5,371.5L552.1,368.5L553.8,366.5L548,362.5L548.4,360.5L550.5,360L556.5,361.2L558.5,360.3L560.5,361.7L563.6,366.5L560.7,370.5L562.5,371.5L567.8,370.5L568.5,369.4L568.5,368L565.5,364.5L570.5,363.3L577.2,364.5L578.3,366.5L578.2,368.5L576.5,371.4L572.5,370.6L570.5,370.9L566.5,376.1L562.5,377.2L561.7,378.5L561.5,380.5L562.5,381.7L566.5,382.4L568.5,383.5L572.5,383.6L578.5,381.6L579.6,380.5L579.4,374.5L580.5,373.8L584.5,374.1L586.5,373.3L588.6,370.5L591.5,368.5L592.9,366.5L594.3,360.5L596.1,358.5L602.5,355.4L604.5,358.8L606.5,358.9L608.6,358.5L610,356.5L610.5,353.9L612.5,353L616.2,354.5L616.1,356.5L611.2,360.5L610.5,365.8L608.5,365L606.9,366.5L607.8,368.5L609.9,370.5L610.8,374.5L610.4,376.5L608.7,378.5L609,380.5L611.2,384.5L609.4,388.5L611.4,392.5L610.5,394.3L606.1,396.5L606.5,397.3L608.5,397.8L610.3,396.5L610.5,395.5L612.5,394.6L618.5,392.5L620.5,393.5L623.6,396.5L624.5,401.6L626.7,402.5L627.7,406.5L632.5,411.1L636.3,406.5L636.1,404.5L633.9,400.5L633.8,398.5L635.1,396.5L632.7,392.5L632.5,389.4L630.5,389.5L626.5,387.1L624.5,387.7L622.5,390.6L620.5,391.6L619.7,390.5L619.6,386.5L621.3,382.5L619.9,376.5L620.5,372.3L622.5,371.5L625.9,372.5L625.1,374.5L625.4,376.5L626.5,377.7L628.5,377.2L630.5,374.9L632.5,374.6L636.5,375.7L644.5,373.4L648.5,374.6L650.5,374L651.6,372.5L652.6,368.5L650.5,369.1L648.2,368.5L650.5,366.4L650.8,364.5L650.1,362.5L653.8,358.5L656.5,357.9L660.5,361.5L662.5,362.5L665.2,362.5L668,358.5L668.5,356.5L668,354.5L665.2,352.5L664.5,351L664.5,350.3L666.5,348.8L668.5,349.9L670.5,352.3L676.9,354.5L678.5,356.2L680.7,356.5L681.1,358.5L680.5,359.1L678.5,356.8L676.5,356.9L674.4,360.5L673.8,362.5L674.5,368.5L675.8,370.5L681.7,372.5L683.9,374.5L684.4,376.5L686.7,378.5L686.4,382.5L684.5,383.8L682.5,383.3L680.5,378.9L678.5,379L671.7,382.5L672.3,386.5L670.5,388.1L667.6,384.5L668.2,382.5L667,380.5L664.5,380.1L656.5,376L656,378.5L653.6,382.5L654,384.5L652.5,385.7L648.5,385.2L646.7,386.5L647.9,388.5L646.5,393.7L642.5,397.1L639.3,398.5L639.3,400.5L640.5,401.5L646.5,403.5L647.6,404.5L646.5,407.2L645,408.5L645.1,410.5L648.5,411.3L649.6,412.5L649.5,414.5L646.2,416.5L646.9,422.5L644.6,430.5L645.2,434.5L644.5,435.4L640.5,434.5L642.5,431.6L644.3,430.5L640.5,426.4L638.5,426.2L636.2,430.5L632.5,432.6L631.1,434.5L627.9,440.5L626.5,445.2L622.5,442.7L620.3,442.5L619.2,446.5L620.5,448.9L623.3,450.5L623.9,452.5L623.1,454.5L620.1,456.5L619.9,458.5L623.2,464.5L622.1,468.5L622.8,472.5L622.5,473.4L620.5,474.4L612.5,473L610.5,474.5L610.2,476.5L602.5,478.5L600.5,480.4L596.5,479.9L590.5,475.9L590,474.5L590.5,473.5L592.5,472.3L596.5,476.7L598.5,477.2L600.5,476.6L600.6,474.5L597.8,470.5L598.9,466.5L598.8,464.5L597.6,462.5L597.6,460.5L604.5,456.5L603.7,452.5L606.2,448.5L605.8,446.5L604.5,445.9L604,444.5L606.5,442.6L608.5,439.3L610.5,438.4L612.2,436.5L612.2,432.5L609.8,428.5L604.5,425.4L600.5,425L598.6,428.5L599,434.5L596.5,437.4L594.5,437.6L593.9,436.5L590.5,435.6L586.5,436.4L585.8,434.5L582.1,432.5L580.5,430L579.2,430.5L578.8,432.5L579.3,436.5L580.5,438.3L584.4,440.5L586.5,444.5L586.1,446.5L584.5,449.6L580.5,450.9L575.2,458.5L570.5,461L568.9,460.5L567.8,456.5L568.2,452.5L566.5,450.9L563.6,452.5L564.3,456.5L560.5,457.2L556.5,456.7L554.5,455.6L550.5,451.4L548.5,451.3L544.5,453L542.5,452.2L540.8,458.5L538.5,462.5L542.5,462.4L543.7,464.5L539.6,468.5L540.2,470.5L539.4,474.5L540.4,478.5L537.1,480.5L536.5,482.6L534.5,483.2L532.5,481.9L530.5,481.6L524.5,483.4L520.5,487.5L516.5,488.5L512.5,487.4L508.5,485L504.5,486.7L500.5,485.8L497.1,488.5L494.5,489.2L492.5,485.6L490.5,484.2L486.5,487.2L482.5,485.9L481.1,486.5L480.7,488.5L484.5,490.6L485.3,492.5L484.5,493.7L482.5,493.5L480.5,490.9L478.5,490.1L472.5,491.8L470.5,490.9L467.2,492.5L468.8,494.5L470.5,495.4L472.5,495.3L474.5,493.8L476.5,493.9L480.5,498.1L480.5,501.2L476.5,504.3L474.5,502.6L470.5,501L466.5,501.2L465,500.5L458.5,490.2L456.5,488.6L450.5,490.2L447.9,488.5L445,484.5L444.5,482.7L443.9,486.5L445.1,490.5L444.5,492.6L442.5,494.2L438.5,494.4L436.5,497L430.5,496.1L428,496.5L427.5,500.5L430.6,506.5L433.2,508.5L433.1,510.5L430.3,512.5L430.5,516.5L428.9,518.5L425.2,520.5L422.5,524.3L418.5,521.5L411.7,518.5L410.5,516.5L410.5,512.3L408.5,511.7L404.5,515.6L402.5,516.3L398.5,514.8L394.5,511.3L390.5,512.6L386.5,510.7L384.5,510.5L380.5,512.8L378.5,515L368.5,517L364.7,520.5L360.6,522.5L356.5,527.2L352.6,528.5L352.2,530.5L350.5,533L342.5,530.1L339.2,530.5L338,536.5L338.7,538.5L338.5,540.5L336.5,541.9L332.5,541.5L331.9,542.5L332.2,546.5L328.5,548.5L326.5,550.7L324.5,551L320.5,547.9L318.5,547.7L317.9,550.5L318.8,552.5L318.5,554.5L316.5,554L314.5,552.2L312.5,553L311.3,554.5L308.5,555.2L306.5,554.6L302.5,551.7L301.9,550.5L302.5,546.8L305.6,544.5L306.5,541.8L308.5,541.6L310,542.5L310.5,544.5L307.5,546.5L307.6,548.5L308.5,549.7L310.5,549.8L311,546.5L312.8,544.5L312.4,540.5L315,536.5L313,532.5L313.5,530.5L312.5,529.7L308.5,531.3L306.7,532.5L304.5,536.3L302.5,537.4L297.9,534.5L297.9,530.5L296.5,529.9L295.3,530.5L294.4,532.5L294.5,534.5L296.8,536.5L296.2,540.5L294.5,542.1L290.5,543.2L288.5,546.5L293.3,550.5L292.5,553.9L288.5,553.3L286.5,554L284.5,561.8L278.5,561.7L276.7,562.5L275.1,570.5L272.1,572.5L271.3,574.5L251.7,574.5L251.2,572.5L249.4,570.5L252.5,568.2L252.9,566.5L254.5,564.9L258.5,563.3L258.8,562.5L258.3,560.5L256.5,559.2L254.5,559.1L250.5,559.9L248.5,565.2L246.5,563.9L244.5,563.8L239.9,566.5L237.6,568.5L237.4,570.5L233.8,574.5L186.5,574.5L186.5,565.3L188.1,564.5L188.6,560.5L190.6,558.5L190.7,556.5L188.5,556.2L186.5,557.4Z M563.6,282.5L568.5,285.1L569,286.5L568.5,288.5L565.9,292.5L566.5,294.4L568.5,295.2L575.3,288.5L575.3,286.5L568.9,284.5L568.2,282.5L566.5,281.4L564.5,281.4Z M497.9,286.5L497.7,288.5L495.6,292.5L500.5,296L502.1,294.5L501.9,288.5L504.2,286.5L502.5,285.4Z M519.1,324.5L520.5,327.9L524.5,332.3L526.5,331.7L527.8,326.5L526.5,324.4L524.5,322.6Z M517.1,330.5L518,332.5L517.6,334.5L514.5,334.7L512.5,333.9L511.6,334.5L512.5,338.5L514.5,341.5L516.5,341.1L518.4,338.5L519.5,334.5L521.3,332.5L518.5,330.1Z M502.5,342.8L499.6,352.5L498.5,354.2L496.5,354.6L492.5,352.1L490.5,353.8L490.1,356.5L485.4,360.5L485.8,362.5L488.5,364L488.5,365.2L486.5,366.9L484.5,367.2L482.5,365.3L482.1,366.5L482.9,368.5L484.5,369.1L488.1,372.5L486.5,374.7L484.5,375.3L481.2,374.5L480.5,371.7L478.5,372.1L478.5,373L480,374.5L474.5,380.1L472.5,380.2L470.5,378.5L471,374.5L470.5,373.7L468.5,373.6L467.1,376.5L462.5,381L458.5,380.1L454.5,381L452.8,380.5L451.8,378.5L450.5,378.2L449.9,380.5L450.5,382.5L448.5,384.2L448,386.5L446.5,387.7L442.5,388.7L438.5,387.4L437.5,388.5L437.7,390.5L439.9,392.5L437.7,398.5L437.2,402.5L434.9,402.5L432.5,401.4L430.3,402.5L430.5,404.8L428.5,405.6L424.5,406.2L423,402.5L423.3,400.5L425.3,398.5L425.7,396.5L424.7,392.5L420.1,394.5L419.5,398.5L417.5,400.5L417.2,402.5L420.5,406.2L422.5,406.8L424.3,408.5L422.9,412.5L426.5,416.5L427.6,422.5L427,424.5L425.2,426.5L424.5,431.9L420.8,436.5L422.5,438.7L426.5,438.9L426.9,444.5L428.8,448.5L428.8,450.5L424.5,457.2L424,454.5L424.7,450.5L422.5,449.1L420.5,449.3L419,450.5L417.8,454.5L414.5,456L412.5,458.7L410.5,458.5L409,460.5L410.5,463.1L412.5,462.9L414.5,459.9L416.5,460.8L420.5,461.1L422,462.5L421.7,464.5L424.7,466.5L425.4,468.5L424.1,472.5L427.3,476.5L427.5,478.5L424.8,482.5L426.5,483.7L428.5,483.6L431,478.5L434.5,475.2L438.5,474.2L440.1,472.5L440.5,470.3L442.5,469.2L447,472.5L446.5,475.8L442.7,476.5L442.8,478.5L444.5,482.5L446.5,480.5L448.5,476.5L452.5,474.7L454.5,478.3L456.5,476.9L456.5,473.5L447.8,470.5L452.5,461.7L454.2,460.5L454.4,458.5L453.4,454.5L450.1,452.5L447.4,448.5L447.4,446.5L448.5,445L450.5,445L452.5,447.8L454.5,448.3L456,446.5L454.9,440.5L453.7,438.5L456.5,438.1L458.7,436.5L458.5,430L460.5,428.2L461.7,428.5L462.7,430.5L463.7,426.5L468.5,423.7L470.5,419.6L474.5,418.8L480.5,415.4L482.2,410.5L484.2,408.5L485.4,404.5L489.3,402.5L490.5,399.5L494.5,400L495.8,398.5L496.8,396.5L495.5,392.5L498.5,391.8L504.5,394L506.5,393.8L508.7,392.5L509.7,388.5L512.5,385.6L518.5,380L520.5,379.5L522,376.5L522.3,372.5L524.1,370.5L524.6,368.5L523.3,364.5L523.1,358.5L522.5,357.8L520.5,358L518.5,361.1L516.5,361.7L515.1,360.5L512.3,354.5L514.5,350L517,352.5L518.5,352.8L520.1,350.5L514.5,346.7L508.5,351L506.6,350.5L506.4,346.5L505.4,344.5Z M529.9,372.5L528.5,373.9L526.5,378.5L529.1,382.5L534.5,384.5L534.4,382.5L538.3,380.5L537.9,378.5L535.7,376.5L534.5,372.8Z M605.1,384.5L601.2,386.5L601,388.5L602.5,390L604.5,390.7L607.5,388.5L607.5,386.5Z M558.5,387.5L558.5,389.9L560.5,390.5L562.4,388.5L560.5,386.6Z M590.5,395.8L588.2,398.5L589.1,400.5L590.5,401.6L592.5,401.4L593.4,400.5L593.7,398.5L592.6,396.5Z M312.1,398.5L312.9,402.5L310.5,403L310.1,404.5L310.2,406.5L312.5,411.7L316.5,413.6L318.5,417.4L320.5,417.8L322.5,417.2L326.5,414.6L327.7,412.5L326.1,410.5L324.8,406.5L321.8,402.5L322.5,398.2L320.5,396.7L318.5,397.8L314.5,397.6Z M408.1,400.5L406.2,402.5L404.3,406.5L406.5,407.9L408.5,411.3L410.5,411.7L412.5,410.4L413.8,406.5L410,400.5Z M619.5,404.5L620.5,407.5L624.5,410.7L626.5,410.9L624.1,404.5L622.5,402.9L620.5,403Z M396.9,408.5L396.2,410.5L398.5,412.3L401.7,410.5L401.7,408.5L400.5,408L398.5,407.4Z M608.5,407.7L600.2,414.5L600.2,416.5L601.4,418.5L602.5,419.2L608.5,419L608,414.5L608.5,413.6L609.6,414.5L609.3,416.5L612.5,419.1L612.5,421.2L610.1,422.5L610.8,424.5L614.5,429.4L616.5,429L618.5,427.5L622.5,427.6L628.5,426.3L629,426.5L627.8,430.5L628.5,431L629.9,430.5L633.2,424.5L633.2,422.5L630.5,421.7L629,420.5L628.2,418.5L628.3,416.5L630.5,412.3L628.5,411.9L627.2,412.5L626.4,414.5L624.5,416.3L622.5,417.6L620.5,417.5L616.1,414.5L614.5,412.6L612.5,412.1L611.1,410.5L610.5,408.5Z M528.8,440.5L530.5,443L532.5,442.4L532.5,440.2L530.5,439.6Z M502,446.5L502.5,448.5L504.5,448.7L505.9,446.5L504.5,444.9Z M553.5,446.5L554.8,448.5L556.5,449.1L557.4,448.5L557.4,446.5L556.5,445.1L554.5,445.4Z M384.7,456.5L384.5,458.6L390.7,460.5L390.6,458.5L389.3,456.5L386.5,456Z M410.5,465L404.5,467.7L403.9,468.5L403.4,470.5L404.5,472.4L406.5,472L412.7,468.5L412.5,465.8Z M518.8,466.5L519.2,468.5L520.5,469.4L524.5,469.5L525.7,468.5L524.2,466.5L520.5,464.9Z M512.5,474.5L513.5,476.5L514.5,477.9L515.9,474.5L514.5,473.8Z M270.2,484.5L269.2,486.5L270.5,487.6L272.5,487.6L275.4,486.5L276.8,484.5L274.5,483.1Z M392,484.5L388.5,492.5L382.5,494.9L381.9,496.5L382.5,501L384.2,502.5L386.4,500.5L388.5,495.9L390.5,494.4L394.5,496.9L395.7,498.5L396.5,502.3L398.5,502.5L400.1,500.5L400.9,498.5L400.5,495.4L393.9,492.5L393.4,490.5L395.9,488.5L395,484.5L394.5,483.8Z M302.1,518.5L301.6,520.5L302.5,524.5L303.8,526.5L304.5,526.6L305.7,524.5L304.8,518.5L304.5,517.8Z M312.8,520.5L314.5,523.4L316.5,525L317.7,522.5L316.5,520.5L314.5,519Z M324.5,535.6L318.5,540L318.5,541L320.5,542.3L322.5,541.6L325.7,536.5Z M255.9,550.5L256.5,551.7L258.5,553.1L258.5,550.2L256.5,549.4Z M231.9,554.5L232.5,556.9L234.5,557.7L235.7,556.5L234.5,554.1L232.5,553.8Z M252.8,570.5L254.5,571.7L255.9,570.5L254.5,568.7Z M674.5,262.4L676.5,260.9L678.5,261.3L679.1,262.5L676.5,264.6Z M654.5,271.9L656.5,272.5L658.5,276.6L661,278.5L661.9,280.5L661.6,284.5L664.5,287L666.5,290.6L668.5,290.7L670.5,289.6L672.5,285.8L676.5,283.3L680.8,284.5L681.6,286.5L679,288.5L681.5,292.5L680.5,294.7L677.5,296.5L676.5,298.1L674.5,298.6L670.5,298.3L668.5,300.1L666.5,299.2L664.5,292.2L660.5,294.1L658.5,292.8L656.5,290L654.5,289.5L650.5,289.2L648.3,292.5L646.5,293.7L642.5,295.5L641.3,294.5L640.5,289.3L637.6,284.5L638.2,282.5L638.5,282.1L642.5,284.1L644.5,284.2L651.5,276.5L652.5,273.1Z M636.5,274.4L638.5,274.2L639,276.5L638.5,277.7L636.5,279.1L634.9,276.5Z M616.5,298.2L618.5,297.6L620.5,298.2L622.4,302.5L622.5,304.9L620.5,306.6L616.5,305.2L614.5,305.1L612.5,307.3L609.7,306.5L614,302.5Z M662.5,306.4L664.5,305.3L666.8,306.5L665.4,308.5L665.2,310.5L666.5,313.3L670.5,311.6L674.5,312.9L676.3,314.5L677.1,320.5L676.5,321.6L673.5,322.5L673.3,324.5L675,326.5L672.5,327.8L668.5,327.4L667.7,328.5L667.8,330.5L666.5,332L664.6,336.5L660.5,335.4L656.5,337.2L654.5,337.3L653.1,334.5L653,330.5L652,328.5L652.5,326.8L654.5,325.9L658.5,327.8L660.5,326.8L663,324.5L665.7,318.5L665,314.5L661.8,312.5L661.1,310.5L661,308.5Z M622.5,314.2L623.5,316.5L622.5,317L620.5,316.6L621.4,314.5Z M568.5,316.4L570.5,315.1L572.2,316.5L571.4,318.5L570.5,319.1L568.5,318.5Z M554.5,325.2L556.5,324.8L562.5,328.9L563.7,330.5L563.4,334.5L564.5,335.4L568.5,335.6L569.7,336.5L570.4,340.5L568.5,344.7L567.2,342.5L562.5,341.7L560.6,340.5L560.3,338.5L558.5,337L552.7,334.5L552.8,326.5Z M582.5,327.9L584.6,328.5L584.7,330.5L582.5,332.3L581.5,334.5L578.5,336.1L576.6,334.5L576.5,330.5L578.5,330.2Z M604.5,327.5L606.2,328.5L604.5,330.9L603.8,328.5Z M612.5,338.3L615,342.5L614.5,343.6L612.5,344.6L610.5,344L609.5,342.5L610.5,338.8Z M620.5,337.9L624.5,338.3L623.1,342.5L620.3,342.5L618.5,340.5L619.4,338.5Z M578.5,343.8L580.1,344.5L579.1,346.5L576.5,346.8Z M634.4,350.5L640.5,347.2L646.5,350.2L650.5,348.9L651.1,354.5L650.5,355.3L648.5,355.4L646.5,353.8L644.5,353.3L640.5,354.4L636,352.5Z M694.5,349L700.5,348.2L702.7,350.5L701.9,356.5L698.7,360.5L698.7,362.5L700.5,364.3L704.5,364.2L708.5,367.8L708.5,387.8L706.5,387.4L703.8,384.5L704.2,380.5L703.3,378.5L700.8,376.5L700.5,372.5L698.5,367.2L696.5,366.4L694.5,367.6L688.5,373.6L686.2,372.5L686,368.5L684.3,366.5L683.8,364.5L684.5,363.7L688.5,361.8L692.5,358.7L694.9,358.5L692.5,357.8L691.5,354.5L692.2,352.5Z M604.5,349.5L606.2,350.5L606,352.5L604.5,354.2L603.1,352.5L602.6,350.5Z M632.5,368.3L634.5,368.3L636.5,369.6L637,370.5L636.5,372.1L634.5,372.2Z M662.5,389.9L664.5,390.1L669.8,392.5L667.1,394.5L673,398.5L672.3,400.5L670.5,402.2L668.5,402.1L665.3,400.5L663.4,398.5L664.5,396.9L666.5,396.5L660.5,395.7L659.5,394.5L659.2,392.5L660.5,390.9Z M676.5,393.8L678.9,394.5L680.5,397.4L684.5,395.6L686.5,395.8L687.2,396.5L688.8,402.5L687.8,404.5L686.5,411.7L684.5,411.1L680.5,411.3L680,410.5L680.5,406.5L678.4,402.5L679,398.5L675.4,396.5L675.4,394.5Z M678.5,413.3L680.5,413.4L688.5,421.4L689.3,424.5L688.5,427.3L682.5,428.3L676.9,426.5L677.2,424.5L680.6,420.5L677.1,416.5Z M686.5,413.9L688.5,414.2L689.9,416.5L688.5,417.8L686.1,416.5Z M654.5,422L656.5,422.2L656.5,423L652.5,428.5L652.2,426.5Z M666.5,424.2L668.8,424.5L670.5,426.7L672.5,427L674.5,426L675.9,426.5L673.2,430.5L670.2,432.5L669.7,434.5L670.5,435.5L672.5,436.5L680.7,436.5L680.6,438.5L679.1,440.5L678.5,446.5L681.8,452.5L681.4,454.5L680.5,455.2L678.5,455.4L676.9,454.5L676.7,450.5L674.5,448.5L668.5,446.3L666.9,444.5L666.4,440.5L665.1,438.5L662.5,438.1L661.5,440.5L662.5,444.2L663.1,444.5L662.4,446.5L668.5,446.9L671.1,454.5L669.7,458.5L670.3,462.5L672.5,463.8L675.6,464.5L676.5,465.8L676.6,466.5L674.5,468.9L672.5,468.4L671.5,466.5L668.5,463.7L663.5,462.5L660.5,457.6L656.2,456.5L653.9,452.5L650.5,449.3L646.5,449.2L641.5,446.5L642.5,444.4L644.5,445.5L646.5,445.4L647.5,444.5L649.2,442.5L649.6,440.5L649.1,438.5L651.9,436.5L654.5,433L656.5,434.1L660.5,433.1L662.2,430.5L662.1,426.5Z M432.5,427.5L436.5,429.6L437,430.5L436,432.5L432.1,432.5Z M598.5,444.3L600.5,446.2L602.5,447L603.3,448.5L603.1,450.5L602.5,450.8L600.5,449.6L598.5,447.1L598,446.5Z M584.5,451.9L586.5,451.3L588.9,452.5L588.5,454.5L586.5,456.5L584.5,457.3L582.7,456.5L581.6,454.5Z M638.5,452.2L640.5,454.9L638.5,455.9L637.3,458.5L634,460.5L630.5,463.9L628.5,463.8L626.6,460.5L630.5,458.5L632.5,456.1L636.5,455.5L638.1,454.5Z M706.5,452.2L708.5,451.9L708.5,456.1L706.5,455.4L705.9,454.5Z M432.5,456L432.5,458.9L430.5,458.8L430.7,456.5Z M436.5,462.3L438.9,462.5L439.3,464.5L438.5,466L436.4,464.5Z M700.5,463.5L702,464.5L701.4,466.5L700.5,466.8L699.1,464.5Z M541.8,472.5L544.5,471.9L545.4,474.5L544.5,475.1L543.2,474.5Z M552.5,477.1L555.5,484.5L554.5,485.4L550.5,485.9L550,488.5L546.5,492.4L544.5,492.1L543.2,488.5L539.8,484.5L544.5,481.6L548.5,480.4Z M586.5,478.3L588.5,478L596.5,484.2L598.7,488.5L594.5,491.5L592.5,490.8L589,492.5L589.3,494.5L590.5,495.6L594.5,492.8L595.6,494.5L595.5,496.5L594.5,497.7L592.5,499.7L590.5,500.4L588.5,495.9L582,492.5L583.9,486.5L586.5,484.5Z M626.5,476.6L629.4,480.5L629.8,482.5L628.5,483.8L626.3,482.5Z M662.5,488.5L664.1,490.5L662.5,492.8L660.1,490.5L660.5,489.1Z M552.5,490.4L560.5,492.9L562,494.5L560.9,496.5L559.4,496.5L556.5,493.2L554.5,496.5L554.5,498.6L552.5,499.8L545.7,496.5L545.2,494.5L546.5,492.6L548.5,493.3L550.5,492.8Z M508.5,492.6L509.5,494.5L509.2,496.5L508.5,498.5L506.5,498.8L506.5,496.4Z M450.5,495.7L452.4,498.5L450.5,500.1L448.2,500.5L448.5,497.4Z M502.5,499.8L503.7,500.5L502.5,504.8L501,504.5L500.2,502.5L500.6,500.5Z M440.5,502.5L442.5,501.4L446.5,500.9L447.4,502.5L446.4,506.5L446.8,508.5L448.5,510.1L452.5,509.2L454.1,510.5L453.5,512.5L448.5,515.7L438.5,511.2L437.7,510.5L437.9,508.5Z M457.6,504.5L460.5,502.9L461.2,504.5L458.5,505.2Z M576.5,511.1L580.5,511.1L582.3,512.5L582.9,514.5L582.5,516.7L578.5,518.3L575.6,514.5L575.2,512.5Z M386.5,526.4L396.5,521.5L397.1,522.5L395.5,526.5L394.5,527.5L390.5,529.6L387.7,528.5Z M672.5,528.8L674.5,528.9L678.3,532.5L677.7,534.5L676.5,535.2L672.7,534.5L670.7,532.5Z M336.5,549.9L338.2,550.5L338.5,552.5L336.5,554.3L334.1,552.5L334.5,551Z M314.5,555.4L316.4,556.5L314.5,558.9L313.6,558.5L313.2,556.5Z M325.9,556.5L328.5,555.5L329.3,556.5L328.5,557.8L326.5,557.4Z M282.5,565.3L284.5,565.8L284.8,566.5L283.8,568.5L282.5,569.2L281,568.5L280.9,566.5Z M246.5,568.3L246.5,570.5L244.5,571.1L243.5,570.5L244.5,569Z" fill="#c1e4ef" fill-rule="evenodd"/>
<path d="M186.5,110.5L447.5,110.5L450.5,113.1L453.3,112.5L454.3,110.5L456.6,110.5L457.1,112.5L462.5,115.3L468.5,114L469.7,112.5L470.2,110.5L590.4,110.5L594.5,113.4L598.5,114L600.5,116L604.5,113.6L608.5,114.7L610.5,114.5L612.5,116.5L614.5,120.7L616.5,121.2L618,118.5L618,116.5L616.5,114.3L612.5,114.4L611.8,110.5L623.8,110.5L624.5,111.3L626.5,111.8L627.1,110.5L654.7,110.5L660.5,113.4L666.5,111.6L667.2,110.5L708.5,110.5L708.5,163.1L704.5,163.7L700.5,163.4L698.1,164.5L698.5,166.5L702.4,168.5L701.8,170.5L696.5,173.1L695,176.5L697.6,182.5L700.6,186.5L699.8,188.5L700,190.5L702.5,191.6L704.5,191.5L705.4,192.5L703.9,196.5L706.5,197.2L708.5,196.5L708.5,200.7L704.5,203.4L700.5,201.7L696.5,202.3L694.4,200.5L693.8,198.5L692.5,189.8L690.5,190.2L689.9,192.5L688.5,193.3L680.5,194.4L678.5,191.9L676.5,191L674.5,193.2L672.5,193.5L671,192.5L671.3,190.5L668.5,189.4L667.6,190.5L670.2,194.5L666.5,198.5L667.6,200.5L670.6,202.5L672.5,205.8L674.8,206.5L672.5,207.7L670.5,210.5L674.5,213.1L674.8,214.5L672.8,216.5L670.5,221.2L666.5,218.8L665.6,220.5L664.5,224.5L666.5,224.8L667.7,226.5L667.6,228.5L662.9,230.5L663.1,234.5L661.7,238.5L659.1,240.5L657,240.5L654.7,238.5L649.7,236.5L646.5,238.8L640.5,241L636.5,245.5L632.5,245L631.5,246.5L633.2,250.5L632.5,254L628.5,252L627.2,254.5L627.7,256.5L627.1,258.5L622.5,257.3L618.5,261.8L617.9,264.5L616.5,266.4L612.5,266.9L608.5,270.5L606.5,268.5L610.2,266.5L610.5,263.8L606.5,259.2L602.5,257.5L600.5,257.5L598.5,259.5L592.5,262.4L589.3,262.5L594.2,254.5L594.5,252.5L592.5,251.4L586.5,251.1L584.5,251.6L583.3,252.5L585.1,254.5L585.7,256.5L584.5,258.1L582.5,256.3L580.5,255.9L578.5,259.2L576.5,258.9L574.5,254.5L572.5,253.9L570.5,254.2L568.5,256.2L564.5,257.9L560.2,258.5L556.5,261.8L554.5,261.6L552.5,260.4L550.5,257L548.5,258.8L548.9,260.5L551.5,262.5L552.3,264.5L544.5,270.4L543.5,272.5L540.8,274.5L540.9,276.5L543.9,278.5L542.5,279.9L536.1,276.5L535.4,278.5L530,286.5L532.5,290.1L535.6,292.5L534.5,294.5L535.1,298.5L538.5,302.5L539.3,304.5L542.4,306.5L543,308.5L542.5,314.1L538.5,311.2L537.4,312.5L536.5,315.5L534.5,315.4L530.5,311.7L525.5,310.5L525.2,308.5L526.5,307.8L528.5,309.2L534.5,307.4L535.2,306.5L533.8,302.5L532.5,301.4L528.5,302.3L524.5,302.1L522.5,304.9L520.5,305.6L518.5,305.4L514.5,303.5L512.5,300.4L508.5,299.8L506.8,296.5L506.6,294.5L508.5,292.7L515.7,290.5L516.6,288.5L515.3,286.5L515.8,284.5L518.5,282.2L518.2,276.5L522.5,276.1L524,274.5L523.6,272.5L526.6,268.5L524.5,266.5L522.5,262.5L525.2,260.5L526.2,258.5L525.1,256.5L520.5,256.3L518.5,254.1L517.3,254.5L518.5,258.5L517.3,262.5L519.5,266.5L521.4,268.5L520.5,269.3L516.5,268.9L512.5,266.6L506.5,268.6L502.7,262.5L509.8,254.5L512.5,248.1L514.5,250.6L518.5,249.6L520.5,250.2L524.8,248.5L525.8,246.5L524.6,244.5L524.5,242.5L528.5,237.3L531.3,236.5L530.6,234.5L533.3,230.5L526.9,228.5L526.5,226.5L524.5,226.3L523.6,228.5L522.5,229L520.8,226.5L522,224.5L521.9,222.5L520.5,221.8L517.8,222.5L514.5,226L512.4,222.5L510.5,221.1L508.5,220.9L506.5,222.4L504.5,225.8L502.5,225.4L500.5,223L498.5,222.6L496.5,223.3L493,228.5L492.7,230.5L490.5,232.9L490.5,235.4L493,234.5L496.5,226.5L498.5,226L499.7,228.5L499.9,232.5L502.5,235.9L506.2,238.5L506.1,240.5L499.6,244.5L498.5,246.5L498.3,250.5L494.5,255.1L490.5,255.2L488.5,258.7L482.8,260.5L482.5,261.3L482.5,262.8L485.1,264.5L485.9,266.5L485.4,268.5L479.8,274.5L479.4,276.5L480.5,277L482.5,276.5L484.5,277.3L484.5,280.5L482.5,285.3L477.9,286.5L476.9,288.5L478.7,292.5L477.7,294.5L474.5,297.5L472.1,298.5L472.8,300.5L474.5,301.3L475.1,302.5L474.9,304.5L470.5,305.8L469.5,308.5L470.1,310.5L474.9,316.5L475.3,318.5L474.6,324.5L476.5,326.8L478.9,332.5L478.9,334.5L472.5,333.9L470.5,334.5L470.5,336.9L469.5,336.5L470.4,334.5L468.5,334.3L466.5,335.5L464.7,338.5L464.6,340.5L466.5,341.6L468.3,344.5L468.5,346.6L465.5,350.5L466.5,351.5L468.7,350.5L472.5,346.5L474.5,347L475.2,348.5L478.5,350.6L479.8,352.5L476.5,361.2L474.5,362.6L470.5,363.7L469.6,364.5L468.5,367.8L466.5,368.8L462.5,368.5L456.5,359.4L452.5,360.6L450.5,358.2L448.5,357.5L444.5,358.9L441.3,358.5L439.9,354.5L440.5,352.4L438.5,351.1L435.5,354.5L437.3,358.5L436.5,359.1L432.5,356.3L430.5,356.7L428.5,358.7L428.1,356.5L431.1,350.5L430.6,348.5L428.5,349L424.5,348L422.5,349L418.5,349.6L417.6,350.5L417.3,352.5L418.5,355.1L425.5,362.5L421.9,372.5L420.5,373.6L416.4,374.5L414.5,376.5L416,378.5L418.6,386.5L417.8,388.5L408.8,394.5L406.5,394.8L396.5,390.2L390.9,394.5L386.5,394.1L382.5,396.6L380.5,396.6L378.5,399L376.1,398.5L376.3,394.5L374.5,394.1L370.5,388.9L368.2,388.5L366.4,390.5L366,396.5L368.2,400.5L370.9,402.5L370.6,404.5L368.4,406.5L367.8,408.5L368.5,412.5L368.1,414.5L366.5,415.5L363.2,410.5L362.5,405.7L358.5,405.4L354.5,398L352.5,399L350.5,401.9L348.2,402.5L346.9,404.5L347,408.5L348.5,410.3L350.5,411.1L351.3,412.5L348.5,413.7L345.5,408.5L342.4,406.5L341.3,402.5L338.5,398.7L334.5,397.5L332.5,394.1L328.5,391.9L324.5,392.1L320.5,391.3L314.5,392.7L312.5,389.5L308.5,390.9L304.5,387.7L302.5,388.8L300.5,391.1L298.5,391.7L294.5,391.5L292.5,392.6L290.5,391.5L290.1,388.5L286.5,383L280.5,391.2L276.5,390.4L275.2,392.5L281.1,400.5L280.5,401.5L278.5,402L272.5,400.6L269.4,402.5L266.5,406.5L268.5,408L274.5,406.5L275.6,408.5L275,412.5L275.5,416.5L274.6,420.5L277.6,424.5L275.9,430.5L279.8,440.5L280.5,440.9L285.7,438.5L286.5,432.5L287.4,436.5L286.5,442.9L288.5,443.9L292.5,444.5L294.7,446.5L294.5,448L290.5,447.2L289.2,448.5L288.5,450.7L284.8,454.5L284.5,458.5L287.8,460.5L283,468.5L279.6,472.5L280.5,474.2L282.5,474.5L286.5,472.7L290.5,476.7L300.5,471.4L300.7,474.5L301.7,476.5L304.5,477L306.3,478.5L305.4,480.5L302.5,481.7L300.5,481.8L298.5,478.4L296.5,478.9L294.7,480.5L294.6,482.5L296.3,484.5L296.6,486.5L294.5,489.2L292.5,489.9L292.3,488.5L290.5,487.3L289.6,488.5L290.5,490.3L292.5,490.8L292.9,492.5L294.5,494.3L298.5,492.7L300.5,489.1L304.5,490.2L309.1,488.5L307.9,484.5L310.5,482.3L311.3,480.5L307.2,476.5L304.5,471.3L301.4,470.5L300.5,467.5L296.5,463.4L294.5,459.2L289.4,458.5L290.5,455.8L292.5,454.4L297.2,454.5L296.5,450.3L302.5,450.5L307,446.5L304.5,442.5L300.5,443.4L296.5,442.2L295.2,440.5L296.6,436.5L294.2,432.5L296.5,431.9L300.5,433.7L301.9,432.5L298.7,430.5L299.6,426.5L299.2,422.5L312.5,416.8L312.8,422.5L314.5,423.3L318.5,423.2L319.5,426.5L318.8,428.5L313.7,430.5L311.9,432.5L311.5,434.5L319.3,438.5L321.8,442.5L322.1,444.5L321.1,446.5L318.5,447.7L318.4,452.5L316.6,454.5L314.5,455.6L310.5,454.1L308.5,456.2L304.5,451.4L302.5,450.5L300.5,456.5L300.9,460.5L302.5,462.3L306.5,462.7L310.5,468.4L312.5,469.2L314.5,469L318.5,468.2L319.7,466.5L318,460.5L320.5,455.6L324.5,454.6L326.5,453.1L336.5,453.1L338.2,456.5L338.1,458.5L337.1,460.5L338.5,461.9L340.5,462.1L342.5,460.9L342.6,458.5L344.5,456.5L346.5,456.3L350.5,457.6L352.1,456.5L352.5,452L354.5,450.4L358.5,449.5L360.1,450.5L358,454.5L357.5,458.5L360.5,462L360.6,464.5L359.3,468.5L356.9,472.5L356.5,474.5L357.1,476.5L358.5,477.7L362.5,478.9L366.5,478L368.5,478.4L372,480.5L372.4,482.5L370,486.5L369.7,490.5L372.5,493.2L376.5,493.1L377.1,494.5L376.8,496.5L372.5,500.6L370.5,501.3L366.5,498.1L364.5,494.1L362.5,493.1L358.5,493.3L356.5,497.6L355.4,498.5L350.5,499.2L348.5,501.4L346.5,501.9L342.5,499.4L337.2,498.5L334.5,495.8L328.5,497.6L324.5,500.7L320.5,505.5L316.5,507L314.5,508.6L310.5,504.8L308.5,504.1L306.5,504.9L304.5,507.5L300.5,506.2L299.8,508.5L296.5,510.2L294.6,512.5L294.5,514.5L297,518.5L296.6,520.5L290.5,519.7L289.6,520.5L288.5,525.5L282.5,525.2L280.5,524L277.6,526.5L277.8,528.5L279.5,532.5L276.8,538.5L278.5,539.5L284.5,538.4L284.9,540.5L281,544.5L281.3,550.5L280.2,552.5L278.5,553.7L276.5,553.1L274.5,551.3L271.5,550.5L270.5,543.7L268,540.5L270.2,536.5L269.9,534.5L268.5,533.7L264.5,535.8L262.7,538.5L262.7,540.5L263.7,542.5L267.1,546.5L267.5,548.5L266.6,550.5L264.5,551.1L262.7,550.5L260.7,546.5L257.2,544.5L260.4,536.5L259.2,534.5L259,532.5L260.3,530.5L260,528.5L258.5,526.4L261,524.5L261.6,522.5L259.3,518.5L258.7,514.5L261.7,510.5L261.6,508.5L258.5,507L256.5,503.4L254.5,503.1L250.5,504.5L249.2,506.5L249.2,508.5L246.5,509L244.5,507.6L242.5,504.2L240.5,502.8L238.6,504.5L238.7,506.5L240.2,508.5L239.4,510.5L238.5,510.7L234.5,508.3L231.9,510.5L234,514.5L232.9,516.5L233.9,522.5L232.5,523.3L228.5,523.3L227.3,524.5L227.4,528.5L225.9,530.5L225.4,532.5L225.7,534.5L232,538.5L231.8,540.5L230.5,541L225.9,540.5L222.5,536.8L220.5,537.8L217.9,540.5L216,548.5L216.5,550.1L218.5,550.3L220.5,548.9L221,550.5L220.5,552.5L219.1,554.5L212.5,559L210.5,561.2L208.5,561.3L206.8,560.5L206.5,559.1L202.5,558.3L198.5,554.3L195.9,550.5L197.1,546.5L196.5,545.8L192.5,543.8L186.5,542.5Z M470.5,115.3L467.9,120.5L464.2,124.5L465,130.5L466.5,132.8L468.5,133.7L472.5,134.3L476.5,136.2L480.5,136.6L482.5,138.5L484.5,139L489.1,136.5L490,134.5L490.4,130.5L492.5,129.7L493.3,128.5L492.5,126.1L490.5,125L486.5,124.8L484.5,123.2L480.5,124.2L478.7,122.5L477.9,120.5L479.1,116.5L478.5,115L476.5,114.5Z M586.5,119.6L582.5,120.9L580.9,122.5L580.9,124.5L582.6,126.5L586.5,128.6L589.5,128.5L590.4,126.5L588.3,124.5L587.7,120.5Z M572.5,127.6L571.9,130.5L572.5,131.8L573.8,130.5L574.1,128.5Z M554.5,136.1L553.7,138.5L550.5,141.3L550.1,144.5L554.5,147L556.5,147.1L557.9,144.5L555.9,142.5L555.7,140.5L557.3,138.5Z M403.5,158.5L403.7,160.5L404.5,161.2L406.6,158.5L404.5,157.3Z M427.3,158.5L424.5,160.5L423.1,162.5L424.4,164.5L424.5,166.5L422.5,168.9L419.9,174.5L421.1,178.5L422.5,179L428.5,177.6L430,176.5L430.6,174.5L430.6,168.5L434.4,164.5L433.7,160.5L432.5,158.8L430.5,158Z M406.5,165.8L404.4,168.5L404.7,170.5L407.4,174.5L410.5,175.2L411.1,174.5L410.8,172.5L408.5,165.7Z M430.3,182.5L425.5,186.5L424.7,190.5L423.3,192.5L424.5,196.1L426.5,196.5L428.5,193.3L436.5,194.3L438.5,193.5L439.2,192.5L439.6,190.5L438.5,187.3L436.5,187.4L432.5,189.4L431.7,188.5L432.5,184.4L434.5,183.9L436.5,184.5L437.1,182.5L432.5,181.7Z M657.5,190.5L658.5,192.9L660.5,194.8L661.2,194.5L661.8,192.5L660.5,190.5L658.5,189.8Z M635.7,202.5L634.4,204.5L635.7,208.5L634.6,212.5L635.1,214.5L638.5,218.2L641.2,218.5L643.9,216.5L643.8,214.5L650.6,206.5L650.5,204.5L647.6,202.5L646.5,201L642.5,202.1Z M563.6,204.5L561.5,206.5L562.3,208.5L566.5,207.7L567.4,206.5L567.2,204.5Z M504.5,208.1L502.5,215.6L502.5,216.8L504.5,216.7L506.5,215.1L508.5,214.9L509.5,212.5Z M542.4,210.5L540.5,212.6L533.8,216.5L534.5,219L536.5,219.7L539.6,218.5L540.6,216.5L543.3,214.5L544.4,212.5L544.7,210.5Z M628.5,209.6L626.6,212.5L626.9,214.5L628.5,215.7L630.3,214.5L630.3,212.5L629.9,210.5Z M550.5,213.9L545.3,216.5L546.7,220.5L543.1,222.5L543,224.5L544.1,228.5L543.5,232.5L544.5,233.9L546.5,232.9L547.2,230.5L549.2,228.5L550,226.5L548.7,224.5L548.9,222.5L551.3,220.5L552.5,217.1L552.5,214.5Z M566.5,212.5L562.9,216.5L562.1,218.5L564.6,220.5L565.1,224.5L566.5,226.5L568.5,226.9L569.4,228.5L568.5,231.1L566.5,231.4L565.9,232.5L566.2,234.5L569.2,234.5L570.5,232.3L572.5,233.2L574.5,232.8L576.9,230.5L577.6,228.5L575.3,222.5L574.5,221.7L572.5,222.1L569.9,220.5L571.9,218.5L568.5,213.8Z M510.2,216.5L510.8,218.5L512.5,219.3L512.8,216.5Z M524.8,216.5L524.5,218.6L526.5,219.2L527.5,218.5L527.7,216.5L526.5,216Z M476.2,220.5L474.5,222L472.5,225.4L467,226.5L466.3,228.5L468.5,228.6L474.7,226.5L476.9,222.5Z M582.1,238.5L580.1,240.5L580.6,242.5L582.5,243.9L586.5,244.7L590.5,248.2L592.5,247.3L591.6,244.5L588.5,243.1L586.5,239.9L584.5,238.6Z M610.3,254.5L612.2,256.5L614.5,258.4L615.3,256.5L614.5,255.6L612.5,254.4Z M472.6,268.5L472.5,270.7L474.5,272.9L475.5,270.5L474.8,268.5Z M459.6,302.5L462.5,307L464.5,306.5L465.1,304.5L464.5,303.9L462.4,302.5L460.5,302Z M378.6,378.5L377.4,380.5L378.5,380.9L380.5,379.9L381.4,378.5Z M270.5,381.4L269.8,384.5L270.5,385.9L275.3,382.5L274.5,381.2L272.5,380.5Z M390.7,382.5L389.6,384.5L390.5,387.2L392.5,386.5L393.5,382.5L392.5,381.6Z M266.3,392.5L265.1,394.5L265.8,396.5L270.5,397.8L272.5,397.3L272.5,394.5L268.5,392.1Z M238.1,416.5L239.2,420.5L240.5,422.1L244.5,422.9L246.9,422.5L242.5,418L238.5,415.7Z M231.7,434.5L232.5,439.4L234.5,439.5L236.8,438.5L237,436.5L234.5,434L232.5,433.6Z M266.3,440.5L266.3,444.5L263.8,446.5L263.1,448.5L264.5,449.5L272.6,448.5L271.1,440.5Z M241.5,444.5L242.5,447.4L244.5,447.6L246.5,446.5L246.2,444.5L244.5,443.3Z M250.1,452.5L250.8,458.5L250.1,460.5L251.5,462.5L254.5,462.4L259.2,458.5L259.5,456.5L258.5,455.4L255.9,454.5L254.5,452.2L252.5,451.3L250.5,451.8Z M240.2,472.5L236.6,478.5L237.2,480.5L238.5,481.4L243.2,478.5L245.4,474.5L245.6,472.5L244.5,470.8Z M226.5,473.3L223.6,478.5L224.8,480.5L224.3,482.5L222.5,484.5L222.1,486.5L223.3,488.5L223.2,492.5L224.5,494.8L226,490.5L232.5,489.4L233.6,488.5L233.6,486.5L232.5,483.3L230.1,480.5L229.1,474.5Z M272.5,473.6L268.5,477.6L266.9,480.5L262.5,480.7L259.7,482.5L258.1,484.5L257,492.5L260.5,496.2L266.5,498.8L271.3,502.5L280.5,502.6L280.8,500.5L278.4,496.5L282.5,491L284.5,490L285,488.5L285.7,484.5L284.4,482.5L284.5,477.2L282.5,474.5L276.5,474.6Z M213.7,478.5L216.5,482.9L218.5,482.4L218.8,480.5L216,478.5L214.5,477.9Z M357.2,488.5L358.5,489.5L362.5,489.4L363.5,488.5L362.5,487.7L360.5,487.5Z M285.5,490.5L285,492.5L286.4,494.5L288.5,493.8L289.9,490.5Z M318.4,490.5L314.5,490.8L311.5,494.5L314.5,499.8L319.7,496.5L322.8,492.5L322.5,490.1L320.5,488.9Z M230.3,494.5L226.5,497.2L224.5,499.8L222.5,500.7L221.5,502.5L220.5,507.5L226.5,505.9L228.9,502.5L229.6,498.5L230.5,497.3L232.9,496.5L233.5,494.5L232.5,493.8Z M302.5,495.4L298.5,497.5L294.5,496.7L293.1,498.5L294.5,499.6L300.5,499.2L304.5,500L305.8,498.5L304.5,496.4Z M236.2,498.5L236.5,501L238.5,502.2L240.5,502L241.3,498.5L240.5,497.8L238.5,497.3Z M264.1,506.5L263.4,508.5L265,510.5L268.5,512.4L270.8,512.5L271.2,510.5L268.5,506.3L266.5,505.5Z M278.4,516.5L280.5,519.9L282.5,520.3L283.7,518.5L282.5,516.2L280.5,515.3Z M271.4,524.5L268.7,526.5L269,528.5L272.5,528.9L275.7,526.5L273.2,524.5Z M212.4,536.5L209.9,538.5L209.6,540.5L210.5,541.6L212.7,538.5Z M271.9,538.5L271.5,540.5L272.5,541.7L274.5,541.7L276.2,540.5L275.9,538.5Z M193.8,540.5L196.5,541.6L198.5,541.2L198.9,540.5L196.5,539.2Z M672.5,198.5L674.9,198.5L675.6,200.5L674.5,201.9L672.5,201.8L671.4,200.5Z M678,208.5L680.5,207.6L682.5,208.8L683.3,210.5L682.5,212L680.5,212L678.5,210.5Z M638.5,210.4L640.5,211.1L641.8,212.5L640.5,214.1L638.5,213.8L637.8,212.5Z M698.5,211.8L699.4,212.5L699.8,214.5L698.5,215.2L697.8,214.5L697.7,212.5Z M676.5,220.5L678.5,218.5L680,220.5L678.5,221.9Z M524.5,229L526.5,229.2L526.8,230.5L526.5,233.5L524.5,235.1L522.3,234.5Z M582.5,265.6L586.5,265.3L587.7,266.5L586.5,270.5L582.5,269.8L581.7,268.5L581.8,266.5Z M491.2,274.5L494.5,274.5L498.5,277.3L500.5,277.2L500.8,280.5L493.7,280.5L490.6,276.5Z M484.5,289.2L486.5,291L490.3,292.5L486.5,294.6L484.5,298.8L481.7,300.5L480.5,302.6L479.5,300.5L481.2,298.5Z M486.5,301.7L488.8,302.5L488.5,304.3L486.5,303.5Z M494.5,304.4L500.5,303.2L510.5,305.5L513.9,308.5L516.3,312.5L514.5,313.3L504.5,312L503,310.5L502,306.5L500.5,304.9L498.1,306.5L496.3,310.5L496.5,312.9L502.5,321.1L507,322.5L500.2,326.5L503.4,330.5L503.6,332.5L498.5,335L496.5,335.1L490.5,333.7L488,330.5L489.1,328.5L494.5,324.7L496.5,325.3L498.5,325.2L499,324.5L495.3,320.5L492.1,312.5L491.9,308.5Z M493.3,330.5L494.5,332.7L496.1,330.5L494.5,328.5Z M484.5,316.1L486.5,315.3L488.5,316.5L488.5,318.5L486.5,319.3Z M428.5,370.4L429.4,370.5L430.2,372.5L428.5,374.3L426.5,374.5L426,372.5Z M556.5,374.4L556.8,376.5L554.5,376.7L554.5,376Z M437.4,376.5L441,376.5L440.4,378.5L438.5,380.6L437,378.5Z M526.5,394.3L536.5,396.2L542.5,393.2L546.5,395.7L548.5,395.2L550.5,395.6L554.5,397.5L555.3,400.5L558.5,402.3L562,406.5L563,408.5L562.8,410.5L560.5,412.8L556.5,409.5L552.5,408.9L551.7,410.5L552.5,412.5L554.5,414.3L554.9,416.5L556.5,418.3L560.5,418.3L562.5,419.1L567.5,418.5L568.4,420.5L565.4,422.5L562.7,426.5L566.5,432.5L569.6,434.5L566.5,436.8L562.5,435.7L558.5,439.1L556.5,439.5L555.3,438.5L555.7,436.5L558.3,434.5L558.6,432.5L556.5,430.2L552.5,430.1L551.7,428.5L552.2,426.5L550.9,424.5L553.3,420.5L552.5,419.5L550.5,419.2L548.1,420.5L548.1,422.5L549.4,424.5L548.7,426.5L546.5,428.9L544.5,428.4L542.8,426.5L542.9,422.5L541.2,420.5L538.5,419.1L536.5,419L534.5,420.5L532.5,424.8L530.5,424.5L526.8,422.5L526.3,420.5L530.5,417.5L531.5,414.5L529.7,412.5L524.5,412.3L521.8,410.5L519.3,406.5L516.5,404.5L516.6,402.5L520.5,400.8L523.6,400.5L523.6,396.5L524.5,395.1Z M294.5,396L296.3,396.5L296.5,400.3L298.5,398.9L300.5,398.6L302.5,399.3L304.5,402.1L306.4,406.5L304.5,410.8L302.5,410.7L300.5,408.9L296.5,408.1L294.8,406.5L296.4,400.5L294.5,399.9L290.5,403.4L289.8,402.5L288.8,400.5Z M501.6,398.5L504.5,397L506.7,398.5L505.6,404.5L509,410.5L508.8,412.5L506.5,412.9L505,414.5L505.4,416.5L506.5,417.6L508.5,418L510.5,414.1L513.2,412.5L514.5,410.6L516.5,410.8L517.2,414.5L516.5,417.4L515.6,418.5L511.7,420.5L512.7,422.5L513.3,426.5L514.8,428.5L513.7,432.5L512.5,433.5L508.5,433.6L506.5,434.6L504.5,432.7L504.5,432.2L508.5,431.9L510.5,426.8L511.2,426.5L508.5,424.1L508.2,426.5L504.5,430L502.5,429.9L498.5,431.2L494.9,436.5L497.9,440.5L497.5,442.5L495,446.5L494.9,448.5L497.6,452.5L501.4,454.5L501.9,456.5L500.5,458.1L498.5,458.2L495,456.5L494.5,455.2L492.5,454.8L490.5,455.7L490.5,457.1L493.9,460.5L493.5,462.5L490.5,465.3L486.5,467.6L484.4,472.5L486.5,474.3L490.5,472.9L492.5,472.9L492.9,474.5L487.2,478.5L484.5,479.4L480.5,476.5L475.9,476.5L476.1,474.5L477.2,472.5L476.5,470.3L474.5,470.6L472.5,472.5L472.1,474.5L470.5,475.4L466.5,475.1L462.9,472.5L460.5,469.7L459.5,468.5L459.3,466.5L461.4,458.5L464.5,453.8L467.3,452.5L469.4,450.5L471.8,446.5L473.1,438.5L472.2,436.5L473.2,432.5L474.5,430.9L478.5,429L478.9,428.5L477.6,426.5L478.7,422.5L480.6,420.5L484.4,418.5L486.5,414.5L488.5,415.1L490.5,418.5L492.8,416.5L493.8,412.5L498.2,410.5L496.9,406.5L497.5,404.5L501.2,402.5Z M290.5,408.7L291.7,410.5L292.3,414.5L296,418.5L297.8,422.5L290.5,426.1L289.3,424.5L288.3,418.5Z M386.5,409.7L389.1,410.5L390.5,416.5L392.2,418.5L392.8,420.5L397,424.5L396.5,425.6L394.5,425.5L392.5,423.3L390.5,423.4L389.6,424.5L389.1,428.5L392.5,432.5L392.5,434.6L390.5,433.3L388.3,434.5L385.9,434.5L384,432.5L383.8,430.5L382.5,429.1L379.9,428.5L378.8,426.5L380.6,420.5L379,416.5L380.2,414.5Z M356.5,412.2L358.5,410.9L360.5,410.9L361.5,412.5L359.6,414.5L356.5,415.4L355.8,414.5Z M366.5,417.4L368.6,418.5L367.8,426.5L366.5,427.3L358.5,424.4L357.3,420.5L358.5,418.6L364.5,418.7Z M338.5,421.2L340.5,421L342.3,422.5L340.5,424.2L338.5,424L337.5,422.5Z M399.8,428.5L406.8,428.5L406.7,430.5L405.5,432.5L409.6,436.5L409,438.5L406.6,440.5L408.5,441.9L410.5,441.5L412.5,438.9L414.5,438L416.5,440.7L414.8,442.5L412.5,443.6L409,450.5L406.5,453.1L403.2,452.5L400.5,449.7L394.5,450.2L389.2,452.5L386.5,452L385.2,450.5L386.5,446.9L388.5,445.7L392.5,447.1L394.6,442.5L394.9,438.5L396.5,437.2L402.9,434.5L402,432.5L399.6,430.5Z M574.5,437.5L578.2,444.5L577.7,446.5L574.5,449.3L570.5,446.4L566.5,446.5L570.4,442.5L573.6,440.5Z M366.5,439.6L368.5,439.2L370.5,439.8L373.6,442.5L374.6,444.5L375,448.5L376.4,450.5L376.4,452.5L374.5,456.1L370.5,459.3L368.5,459.3L367.8,458.5L365.2,450.5L360.6,448.5L361.5,444.5Z M334.5,446.5L336.5,447.5L336.5,449.2L334.5,449.4L334,448.5Z M518.5,454.2L520.5,452.6L522.6,454.5L520.5,456.6L518.5,455.1Z M372.8,480.5L382.5,477.4L384.4,478.5L387.3,484.5L386.5,487.2L384.5,488.8L380.5,489.1L378.9,488.5L377.4,484.5L372.6,482.5Z M418.5,501.4L420.5,501.7L421.2,502.5L420.5,508.8L418.5,508L417.2,504.5L417.4,502.5Z M372.5,504.3L375.6,504.5L376.5,506.7L374.5,508.2L372.5,508L371.6,506.5Z M240.5,514L242.5,513.9L242.8,514.5L241.3,516.5L238.5,517.1L237.1,516.5Z M334.5,513.6L335.7,514.5L335.2,516.5L332.5,518.1L332.1,516.5Z M324.5,522.1L328.9,526.5L324.5,529.6L320.5,529.2L319.5,528.5L320.5,525.1L322.5,522.9Z M286.5,530.4L288.5,532.5L288.4,534.5L286.5,536.4L284.3,532.5L284.5,531.7Z M250.5,550L251.2,550.5L250.5,553.4L249.2,554.5L247.2,554.5Z" fill="#a8d6e8" fill-rule="evenodd"/>
<path d="M186.5,110.5L397.3,110.5L398.2,114.5L404.5,120.6L406.5,118L408.5,116.9L410.5,118.7L411.1,116.5L414.5,113.3L415,110.5L432.4,110.5L436.6,114.5L434.2,116.5L434.5,117.9L436.5,118.8L437.2,120.5L436.1,126.5L438.5,129L446.5,131.1L447.9,132.5L448.5,134.5L451.1,136.5L451.8,138.5L449.1,142.5L447.8,148.5L444.5,149.8L440.5,149.9L438.5,147L434.5,148.8L432.5,148.8L428.5,143.4L426.5,143.3L422.5,145.4L420.5,145.1L419.7,142.5L418.5,141.1L414.5,140.6L410.6,142.5L409.5,146.5L408.5,147.7L404.6,150.5L399.5,152.5L396.1,160.5L390.5,162L386.5,161.8L384.6,162.5L382.7,164.5L383,166.5L384.5,166.6L386.5,165.3L388.5,165.1L390.5,167.1L396.5,168.3L396.7,178.5L397.3,180.5L399.1,182.5L400.5,183.7L404.5,184.7L406.5,187.5L414.5,187.8L417.7,190.5L418.3,192.5L417.9,194.5L414.5,198L411.8,202.5L411.5,206.5L412.5,209.6L416.5,210.7L424.5,206.1L426.5,205.7L430.5,208.3L434.5,208.7L438.5,213.3L440.5,213.2L444.5,210.9L448.1,214.5L449,216.5L447.7,220.5L447.8,222.5L454.2,224.5L455.4,230.5L455.4,238.5L451.2,250.5L453.8,254.5L452.5,255.8L451.5,258.5L453.8,262.5L453.7,264.5L454.5,266L458.9,266.5L461.2,268.5L460.3,270.5L452.5,279.4L448.6,280.5L447.7,282.5L448.5,283.7L452.5,283.7L454.5,288.3L462.5,290.8L463.9,292.5L464,294.5L463.2,296.5L458.5,297.5L450.5,301.8L444.5,302.3L442.5,304.8L441.3,308.5L442.5,309.8L448.5,311.4L452.5,308L456.5,308.1L458.5,311.4L460.7,312.5L460.8,314.5L458.5,316.2L456.5,313L452,314.5L451.2,318.5L452.5,319.7L456.5,317L456.9,318.5L452,328.5L452.5,330.7L456.8,330.5L455.2,332.5L455.5,334.5L457.6,336.5L456.5,338.5L452.5,340L450,334.5L447,332.5L445.8,330.5L444.5,330L442.5,330.5L438.5,325.6L437.1,326.5L437.2,328.5L437.7,330.5L440.2,334.5L440.4,336.5L438.5,339L436.5,338.6L434.1,336.5L429.2,334.5L426.5,329L418.5,329.7L414.5,331.6L410.1,332.5L409.6,336.5L412.4,340.5L412,344.5L411.7,346.5L407.8,350.5L407.4,352.5L411.4,360.5L414.5,359.8L416.4,360.5L418.4,362.5L419.1,364.5L418.5,365.2L414.5,364.7L408.5,370.6L406.5,370.8L404.5,369.4L400.5,371.3L398.6,370.5L396.5,367.5L394.5,367.5L392.9,368.5L394.5,369.2L397.6,372.5L397.6,374.5L396.5,374.7L390.5,370.1L382.5,371.2L376.5,369.4L372.5,369.8L370.5,368.6L368.5,368.4L368.3,370.5L366.5,372.2L362.5,368.9L361.9,370.5L362.6,374.5L360.5,383.3L354.5,385.8L348.5,385L344.5,386.7L338.5,385.3L335.7,382.5L332.5,381.8L324.5,385.2L322.5,383.2L318.6,376.5L314.1,374.5L310.5,371.7L308.2,372.5L306.8,374.5L307,376.5L309.5,378.5L310.1,380.5L308.5,381.9L302.5,379.5L295.7,380.5L294.5,382.6L292.5,382.7L291.9,380.5L294.4,378.5L292.5,377.1L290.5,378.3L288.5,377.6L284.5,373.5L278.5,370L274.5,371.6L272.5,371.5L270.5,370.1L268.5,369.6L260,374.5L259.7,376.5L260.5,377.8L264.5,381.1L266.5,384.4L265.9,386.5L264.5,386.9L258.5,386L257.9,384.5L259.4,382.5L259.3,380.5L257.6,378.5L252.5,375.8L250.7,376.5L248.5,378.9L246.5,378L244.5,378.5L243.7,380.5L244.2,382.5L248.5,383.2L250.2,384.5L250.8,386.5L250.3,388.5L247.1,392.5L247.1,394.5L250.5,397.6L252.5,397L254.5,393.8L256.5,393.6L258.5,396L259.5,398.5L259.7,400.5L258.9,402.5L260.7,410.5L260.5,412.7L258.5,412.8L256.5,410.6L254.5,409.8L253,408.5L252.5,405.9L248.5,407.2L246.8,406.5L244.5,403.2L242.5,402.4L240.5,404.5L238.5,405L232.5,402.6L230.8,404.5L230.3,406.5L226.5,409.5L225.9,410.5L226.5,413.2L231.3,416.5L230.5,419.6L224.5,418.4L223.8,420.5L228.5,422.2L229,424.5L223.7,434.5L224.5,437.8L226.5,438.5L227.4,442.5L227.1,444.5L225.1,448.5L221.1,452.5L218.5,456.6L214.5,456.9L212.5,459.4L210.5,460.3L208.5,460.4L206.5,459.5L206,458.5L206.5,455.4L212.5,454.8L213.5,452.5L212.5,451.4L208.5,453.7L204.5,453.3L202.5,453.9L198.7,456.5L197.2,458.5L200.5,462.7L206.5,462L212.5,465.7L216.5,464.4L217.7,466.5L213.2,470.5L212.5,472.6L210.5,474.2L208.5,475.3L204.5,475.9L202.5,481L198.5,484.4L198,486.5L198.5,488.9L200.5,486.7L204,488.5L205.2,490.5L204.5,495.3L202.5,497.7L200.5,497.4L194.5,493.7L192.5,493.8L191.9,494.5L191.9,496.5L193.1,498.5L192.6,500.5L191.1,502.5L195.3,508.5L195.9,510.5L195.4,512.5L194.5,514.6L190.5,514.6L186.5,516.7Z M420.1,114.5L415.3,118.5L414.5,120.1L412.5,119.8L411.3,120.5L414.5,120.7L416,122.5L418.5,123.6L424.5,122.7L426.5,126.7L428.5,126.4L430.5,124.8L431,122.5L430.5,121.7L428.5,120.9L426.5,121.1L424.5,119.7L422.5,114Z M366.8,120.5L363.1,126.5L362.6,128.5L363.1,132.5L364.5,133.7L366.5,133.8L370.5,131.7L372.5,132L374.5,130.2L378.8,128.5L378.4,126.5L375.2,124.5L377,120.5L376.5,119.6L374.5,118.7L368.5,119.3Z M352.3,128.5L355.7,130.5L355.7,134.5L354,138.5L353.9,142.5L352.5,144.8L350.5,140.9L348.5,140.4L346.4,146.5L347.1,152.5L350.5,155.6L354.5,153L356.5,149.3L357.6,148.5L357.6,144.5L359.5,142.5L359.5,140.5L357.7,138.5L358,136.5L361.3,134.5L361.9,132.5L360.4,130.5L356.5,128.4L354.5,127.7Z M365.9,140.5L368.5,142.3L370.5,140.5L368.5,138.6Z M382.8,172.5L384.5,175.6L386.5,176.4L389.6,174.5L388.5,173.1L384.5,171.5Z M428.3,286.5L426.5,289.8L424.5,290.3L422.5,288.3L420.5,288.4L422.9,294.5L422.5,295.5L420.5,295.6L418.5,294.2L416.5,295.3L414.5,297.9L412.5,297.6L411.1,298.5L412.5,301.6L418.5,304.7L422.5,303.2L424.5,303.2L428.5,301.1L430.5,297.8L432.5,296.5L436.5,295.2L441.2,292.5L439.8,288.5L438.5,286.9L434.5,286.8L430.5,285.4Z M302.5,361.7L301.3,364.5L302.5,364.6L305.2,362.5Z M290.6,364.5L290.5,366.5L292.5,367.3L294.5,366.5L292.5,363.9Z M233.9,380.5L235,382.5L238.5,383.1L239,382.5L236.5,379.9L234.5,379.9Z M212.4,438.5L216.3,444.5L218.5,445.2L219.7,444.5L214.5,438.5Z M189.9,468.5L190.5,470.6L194.5,471.2L195.4,470.5L195.4,468.5L194.5,467.4L192.5,466.8Z M400.9,110.5L404.5,110.5L406.7,110.5L405.8,112.5L404.5,113.5L402.5,113Z M497.6,110.5L547.3,110.5L547.1,112.5L548.5,113.6L552.5,113.7L553.4,114.5L552.7,118.5L553.3,122.5L552.8,124.5L550.5,125.5L542.5,122.3L539.6,124.5L537.2,128.5L536.5,128.7L533.3,124.5L530.5,123.9L529,124.5L530.5,129.1L532.9,130.5L534.3,132.5L535,138.5L536.2,140.5L534.5,141L533.5,140.5L534.1,138.5L532.5,138L532,138.5L531.8,140.5L528.7,144.5L528.2,150.5L526.5,153.7L524.5,153.3L522.5,149.9L520.5,150L518.5,154.4L516.5,155.2L510.5,160.7L508.5,160.2L507.2,158.5L509.5,156.5L513.3,150.5L510.5,146.7L508.5,146L506.5,146.6L502.5,149.3L500.5,149.3L498.5,147.9L496.5,147.6L494.4,148.5L496.4,152.5L496.4,154.5L498.2,158.5L495.6,162.5L495.9,164.5L494.5,167.2L491.5,170.5L492.5,173.4L498.5,173.6L499.2,174.5L498.5,176.1L494.5,177.4L490.5,183.4L488.5,184.1L479.8,184.5L476.8,186.5L476.7,190.5L475.6,192.5L475.1,196.5L470.5,200.5L467.4,206.5L469.4,208.5L473,214.5L470.5,216.8L468.5,217.1L460.5,213.9L459.6,214.5L458.5,218.4L456.5,219.6L454.5,215.5L451.6,212.5L450.5,210.1L448.5,208.9L446.5,209L445.9,206.5L449,200.5L450.5,199L453,198.5L454.5,197.4L458.5,192.5L454.9,190.5L454.3,188.5L456.3,180.5L457.9,178.5L456.5,175.7L454.5,174.9L452.5,177L452.3,174.5L448.5,173.6L446.5,172.1L442.5,171.4L441.3,168.5L441.9,166.5L444.5,165.8L448.5,167.9L450.4,166.5L449.2,164.5L446.5,163.4L446,162.5L446.4,156.5L451.7,152.5L458.5,152.5L460.5,153.8L462.5,153.7L466.5,155.4L468.3,154.5L469.7,152.5L468,148.5L468.5,146.2L470.5,146.3L474.6,148.5L480.5,148.7L482.5,146.8L484.5,147L486.5,148.6L488.5,147.6L492.5,141.1L494.5,139.5L498.5,142.8L499.8,142.5L502,140.5L500.5,139.8L499.8,138.5L502.5,136.4L503.2,138.5L502.7,140.5L504.5,142.3L506.5,142.9L509.1,142.5L510.4,140.5L510.1,134.5L509.3,132.5L505.7,130.5L504.5,128.3L502.5,126.7L498.5,126.1L494.9,122.5L494.9,120.5L498.4,118.5L499.2,116.5L498.6,112.5Z M470.8,156.5L470,158.5L470.5,159.3L472.5,160.6L474.5,159.4L475.2,156.5L474.5,155.6L472.5,154.9Z M454.5,160L453,164.5L456.5,165.4L459.8,164.5Z M632,110.5L635.2,110.5L638.5,112.2L640.5,112L641.4,110.5L646.5,110.5L643,114.5L643.1,116.5L640.5,117.5L635.1,114.5Z M674.9,116.5L677,110.5L708.5,110.5L708.5,151.4L704.5,151.3L702.5,156.1L700.5,157L698.5,156.2L695.1,158.5L693.4,162.5L687.9,168.5L687.6,170.5L689.6,174.5L688.8,176.5L686.5,176.1L682.5,173.8L676.4,172.5L677.4,168.5L676.3,166.5L676.5,163.6L680.9,162.5L680.5,160.5L676.6,158.5L676.8,154.5L674.5,146.5L675.5,140.5L674.5,139.8L672.5,140L670.5,140.9L668.5,144.5L668.8,150.5L671.4,154.5L671.7,156.5L670.5,157.7L666.5,156.1L664.5,156.2L661.2,160.5L656.5,161.4L655.4,162.5L654.4,166.5L651,172.5L648.5,172.8L644.5,171.8L643.7,168.5L645,162.5L642.5,160.5L640.5,161L635.7,166.5L630.4,168.5L634.5,171L638.5,175.4L642.5,172.8L644.5,173.3L645,174.5L645.1,176.5L643.8,180.5L638.2,182.5L640.5,185.1L646.1,186.5L646.3,192.5L644.5,193.3L638.5,191.8L637.2,192.5L640.5,196L640.5,196.7L638.5,197.4L636.8,196.5L636.5,195.1L632.5,194.1L630.7,192.5L630,190.5L626.5,187.9L627.1,192.5L626.5,193.8L624.5,194.2L618.5,192.2L614.5,198.7L606.5,199.5L600.5,197.5L596.5,198.5L595,200.5L594.5,203L592.5,202.8L588.5,204L586.4,202.5L586.9,194.5L582.5,192.4L580.5,192.4L578.5,193.5L577.3,192.5L577.6,188.5L576.5,186.7L574.5,185.9L573.6,186.5L573.3,188.5L571.3,190.5L566.5,193.1L564.5,191.4L560.5,190L557.5,182.5L556.5,181.5L550.5,181.1L544.5,184.4L542.5,182.5L540.5,181.9L539.8,184.5L538.5,186.2L535,188.5L534.5,192.9L532.5,193.2L531.4,190.5L530.5,190.1L528.5,189.3L526.5,189.7L526.6,194.5L529.2,198.5L529.3,204.5L530.6,208.5L528.5,211.3L524.5,212.1L520.5,210.5L519.6,208.5L520.3,204.5L524,202.5L523.6,198.5L520.5,197.6L517.2,198.5L516.5,199.4L514.5,199.3L513.7,194.5L509.7,192.5L509.6,188.5L512.8,186.5L509.1,180.5L508.6,178.5L509.1,176.5L513.3,170.5L514.5,165.2L516.6,160.5L520.5,157L524.5,156.8L526.5,157.7L531.6,160.5L532.5,162L533.4,160.5L538.5,157.3L544.5,161L548.5,161.9L550.5,161.7L556.5,157.2L558.2,158.5L556.1,160.5L555.8,162.5L557.6,164.5L554.5,166.6L552.5,164.1L550.5,163.5L550,164.5L550.5,167.6L552.5,167.1L553.4,168.5L553.1,170.5L551.8,172.5L552.5,173.8L554.5,171.6L556.5,171.3L561.2,174.5L562.5,178L564.5,178.9L566.5,182.4L568.5,182.8L572.1,176.5L570.3,174.5L569.8,172.5L570.5,172L571.8,172.5L572.5,174.1L575.3,174.5L577.4,168.5L576.5,167.3L574.5,168.3L570.5,167L566.5,167.1L564.5,161.9L560.4,160.5L558.8,158.5L558.9,156.5L561,154.5L564.5,153.7L568.5,158.1L570.5,158.1L576.4,152.5L577.7,150.5L577.6,148.5L578.5,147.1L582.5,148.2L584.5,147.8L588.5,142.9L590.5,143.1L592.5,143.6L595,146.5L595,150.5L593,152.5L593.7,156.5L595.1,158.5L597.8,158.5L603.2,154.5L608.5,147.8L612.7,148.5L616,144.5L615.3,138.5L620.7,134.5L622.5,131.5L622.5,128.2L624.5,126.8L628.5,127.1L628.9,128.5L632.5,132.6L636.5,134.8L638,136.5L638.5,142.1L640.5,139.7L640.8,136.5L643.4,132.5L644.4,128.5L647,126.5L648.5,123.5L652.5,120L654.5,120L656.5,121.4L658.5,119.9L662.5,118.7L664.5,123.6L668.5,120.7L670.5,121.1L672.5,125.3L674.5,126.3L677,122.5L677,120.5L675.3,118.5Z M692.5,121.4L690.3,124.5L684.5,127.1L681.9,130.5L682.7,132.5L690.5,141.7L692.5,142.1L694.5,140.1L698.5,140.4L700.5,139.1L702.5,136L708.5,134.5L706.5,133.1L704.3,130.5L703.8,128.5L702.5,127.8L700.5,128.5L699.5,130.5L698.5,130.8L694.5,129.1L693.8,128.5L693.1,124.5L694.3,122.5Z M656.4,126.5L655.7,130.5L654,132.5L652.9,136.5L654.5,137.7L656.5,137.7L662.5,141.9L664.7,140.5L665.2,134.5L666.5,133.6L668.5,133.6L670.5,134.7L670.2,132.5L668.5,129.2L666.5,128.1L664.5,128.4L662.5,126.2L658.5,125.7Z M695.8,144.5L696.5,146.2L699.3,144.5L698.5,143.2L696.5,143.6Z M527.6,166.5L526.5,169L528.5,170.5L530.9,166.5L530.5,165.7Z M554.7,176.5L556.5,177.6L557.9,176.5L556.5,174.6Z M604.5,176.5L603.3,178.5L603.4,180.5L606.5,181.6L608.5,181.5L610.8,178.5L611.2,176.5L610.5,175.5L608.5,175.2L606.5,175.3Z M578.5,179.7L575.9,182.5L576.5,185.3L578.5,185.8L580.5,185.3L580.9,184.5L579.1,180.5Z M438.5,115.7L440.4,116.5L438.5,118.7L437.3,118.5L437.1,116.5Z M450.5,122.3L452.5,123.4L454.5,126.1L456.5,127.4L459,126.5L459.7,128.5L458.5,129.8L454.5,131.5L452,130.5L450.5,128.5L449.5,124.5Z M502.5,167.9L508.5,169.9L509,172.5L504.5,175.1L501.6,170.5L501.5,168.5Z M670.5,174.8L672.5,174.9L674.5,176.2L675.3,178.5L674.4,180.5L670.5,181.4L668,180.5L667.2,178.5Z M492.5,184.9L496.5,186L497,186.5L496.5,187.2L491.6,186.5Z M486.5,189.5L488.5,189.5L489.7,190.5L490.3,192.5L488.5,195.3L486.5,195.7L484.7,192.5L485.3,190.5Z M554.5,191.7L558.5,192.1L558.5,194.5L557.3,196.5L554.5,197.8L552.5,200L550.5,199.8L544.5,203.6L542.5,203.2L541.6,196.5L542.5,194.3L543.6,196.5L546.5,197.2L547.8,196.5L548.5,194L550.5,193.2L552.5,193.7Z M478.5,200.4L480.5,198.8L482.5,200.5L483.1,202.5L481,204.5L479.2,204.5L478.2,202.5Z M598.5,205.5L608.5,210.4L610,212.5L610.5,216.1L612.5,215.7L615.1,216.5L615.4,218.5L614.5,220L612.2,220.5L614.5,221.3L618.5,228.8L622.5,229.1L626.5,227L631.2,228.5L631,230.5L628.5,235.2L626.5,235.3L622.5,242.8L620.5,242L618.5,239.8L612.5,240.2L611.7,244.5L608.5,248.1L604.5,245.6L602.5,245.8L600.5,247.9L598.5,247.1L596.5,245L596.2,242.5L594.5,241L592.2,240.5L592.2,238.5L595.2,232.5L595.5,230.5L594.5,230L592.5,232L590.5,231.9L587.5,228.5L587.1,226.5L589.4,222.5L592.5,220L595.8,218.5L596.6,216.5L595.6,212.5L596.9,210.5L597,206.5Z M596.5,226L595.6,228.5L596.5,229.9L599.4,228.5L599.2,226.5L598.5,226Z M470.5,237.7L474.5,238.8L476.6,240.5L475.2,242.5L470.5,241.9L469.5,240.5L469.6,238.5Z M542.5,237.8L543.7,238.5L543.7,240.5L538.5,247.5L538.5,244.5L539.8,240.5L541.1,238.5Z M462.5,247.9L466.5,250.1L470.5,249.2L471.4,252.5L470.5,256L464.5,258.4L462.5,257.9L459,252.5L459.4,250.5Z M549.3,250.5L552.5,249.5L553.2,250.5L552.5,252.8L548.7,252.5Z M460.5,282.6L463.5,284.5L464.5,286.5L462.5,288.7L460.5,287.8L458.7,284.5Z M414.5,338L416.9,340.5L414.5,342.1L412.6,340.5L413.3,338.5Z M448.5,341.3L452.5,341.1L453.7,342.5L454.6,344.5L452.5,347.8L448.5,347.7L447.1,346.5Z M242.5,430.2L244.5,429.8L248.4,432.5L244.5,436.7L245.1,432.5L244.5,431.1L242.5,430.9Z M234.5,449.2L235.7,450.5L235.5,452.5L234.5,453.3L233.5,450.5Z M472.5,455.1L474.5,455L478.7,462.5L474.5,461.8L472.5,462.3L467.8,466.5L466.5,468.9L466,466.5L467.2,462.5L468.4,460.5L470.5,459.3Z M266.5,458.3L270.5,459.5L273.7,462.5L274.6,464.5L273.4,466.5L268.5,468.1L262.5,466.5L261.4,464.5L263.5,462.5L264.5,459.6Z M346.5,472.2L350.4,480.5L347.6,482.5L346.8,484.5L346.4,488.5L340.5,490.1L337.8,488.5L340,484.5L338.5,483.3L334.5,484.4L328.5,482.4L327.9,480.5L328.5,480.1L330.5,480L334.5,478.2L336.5,477.8L340.5,479.7L342.5,479.2L344.5,472.6Z M348.5,488.6L351.2,490.5L352.5,492.8L350.5,493.2L349,492.5L347.6,490.5Z M206.5,522.6L212.5,525.2L213.1,526.5L212.5,529L210.5,530.3L207.7,528.5L205.8,524.5Z M194.5,530.3L197.1,530.5L197.1,532.5L196.5,533L194.5,532.6Z" fill="#8ec2dc" fill-rule="evenodd"/>
<path d="M186.5,110.5L342.5,110.5L344,114.5L342.9,116.5L338.5,115.9L336.5,118.8L334.5,119.4L332.5,118.8L330.5,119.8L329.4,122.5L329,124.5L329.7,130.5L331.6,132.5L331.9,134.5L332.5,135.3L340.5,136.8L341.7,138.5L341.9,140.5L339.6,144.5L330.5,153.8L327.1,160.5L328.5,161.9L334.5,162.4L336.5,163.8L340.9,170.5L345.6,172.5L345.7,176.5L346.5,177.2L352.5,175.6L354.5,175.8L357.8,178.5L362.5,178.6L366.5,172.6L368.5,171.5L372.5,172.3L373.5,174.5L373.2,176.5L368.5,179.3L367.6,180.5L367.4,182.5L368.4,184.5L372.5,187.2L374.5,187.5L376.7,186.5L376.5,182.4L377.5,180.5L378.5,180.1L388.5,179.8L390.4,180.5L388.5,183.8L387.9,186.5L390.5,190.5L389.6,192.5L386.5,194.7L384.5,197.3L382.5,198.2L380.5,196.3L377.7,196.5L376,202.5L378.5,206.7L380.5,208.4L381.7,206.5L382.5,203L384.5,202.1L386.5,202.5L386.4,204.5L382.4,212.5L384.5,213.2L386.8,212.5L387.1,210.5L388.8,208.5L390.2,204.5L392.5,205.4L393.7,210.5L395.8,214.5L399.4,216.5L400.9,222.5L404.4,226.5L401.6,228.5L401.3,230.5L404.5,235.1L406.5,231.1L408.5,230.9L410.5,232.4L412.5,232.5L414.4,230.5L414.5,227L417.7,222.5L414.7,218.5L414.8,216.5L416.5,215.2L418.5,215.1L419.6,216.5L418.5,220.5L420.5,221.7L428.5,219.6L430,220.5L432.5,224.4L434.5,225L436.5,224.7L438.5,221.8L440.5,221.5L441.4,222.5L437.6,226.5L436.5,229L434.5,230.5L434.7,232.5L436.7,234.5L438.5,240.4L444.6,248.5L447.5,260.5L447.5,262.5L446,266.5L447.2,272.5L442.5,276L440.5,276.4L436.5,272.8L434.5,273.5L432.5,275.8L428.5,277.1L421.5,282.5L418.5,283.3L416.4,282.5L416.8,280.5L418.5,278.9L420.6,278.5L417.1,276.5L415.8,274.5L416.9,272.5L416.1,270.5L412.5,268L410.5,267.6L408,268.5L407.2,270.5L408.5,272.2L410.5,271.9L411.8,272.5L413.5,274.5L412.5,276.5L410.5,277.5L408.5,277.3L406,274.5L404.5,274.1L402.5,276L400.5,276.5L399.8,272.5L403.4,268.5L402.4,264.5L403.8,262.5L403.4,260.5L400.5,259.8L391.8,262.5L390.5,260.5L390.4,256.5L393.9,252.5L394.4,250.5L393.9,248.5L392.5,246.6L390.5,247.3L386.5,250.9L379.4,248.5L379.2,244.5L380.5,243.3L382.5,237.7L383.8,236.5L383.6,234.5L386.5,232.6L388.1,234.5L387.6,236.5L392.5,246.1L400.5,244.6L405.2,250.5L406.5,255.8L408.5,256.6L409.4,254.5L409.5,252.5L408.6,250.5L403.1,242.5L402.5,240.2L398.5,237.6L392.5,231.6L388.5,230.1L387.4,228.5L386.5,220L386,220.5L386.4,224.5L384.5,225.5L382.5,224.6L380.5,221.8L377.4,220.5L374.5,217.4L370.5,217.3L364.9,228.5L365.4,230.5L366.5,231.3L370.5,231.1L372.5,229.9L373.2,230.5L373.1,232.5L371.2,236.5L366.5,238.5L365.9,240.5L366.3,242.5L368.5,244L370.5,243.5L374.8,240.5L376.1,242.5L376.5,247.9L378.5,249.4L380.5,253.8L382.1,254.5L383,258.5L384.5,260.5L383.7,262.5L379.4,266.5L378.4,268.5L381,274.5L380.3,278.5L386.5,277.5L395,280.5L397.2,282.5L396.5,287L384.9,294.5L383.2,296.5L382.6,298.5L384.3,300.5L383,304.5L379.7,306.5L378.3,310.5L375.9,312.5L374.8,314.5L381.1,322.5L379.5,326.5L379.6,328.5L380.5,329.9L385.6,326.5L386.5,324.5L391.1,326.5L390.5,328.6L388,330.5L390.5,331.6L391.1,334.5L387,336.5L389.3,340.5L391.5,346.5L391.9,350.5L391.2,352.5L391.8,354.5L392.9,354.5L393.1,350.5L396.5,348.5L398.8,348.5L400,354.5L399.7,356.5L397,358.5L397.1,360.5L392.5,361.8L390.5,361.6L388.8,360.5L385,354.5L382.8,352.5L382.5,348.5L383.8,344.5L382.5,341.6L380.5,341.6L378.4,340.5L377.9,338.5L379.5,336.5L378.2,334.5L370.5,332.8L369.3,336.5L366.1,340.5L366.5,345.1L365.2,346.5L361.2,348.5L360.8,350.5L362.5,352L365.6,352.5L367,354.5L364.9,356.5L360.5,357.4L359.6,358.5L355.4,368.5L355.1,370.5L356.3,372.5L355.5,376.5L352.5,377.4L348.5,376.2L346.5,376.4L342.5,378.2L338.5,377.2L334.5,378.1L330.5,376.2L328.5,373.5L323.6,372.5L322.4,368.5L320.5,366.7L316.5,364.4L312.5,359.4L308.5,357.9L307.3,356.5L308.5,353.8L312.8,352.5L312.8,350.5L310.5,348L306.5,348.1L305.7,350.5L304.5,351.6L300.5,354L298.5,354.3L292.5,358.7L286.5,358.8L282.5,356.6L276.5,359L272.5,357.2L268.5,357.2L264.9,352.5L264.5,350.5L266.1,344.5L264.5,340.4L262.5,338.7L256.5,338.2L252.5,335.4L250.5,335L248.5,337.7L244.5,337.7L244.1,338.5L246.5,345L248.2,346.5L249.1,348.5L247.3,350.5L242.5,352.7L240.5,355.8L238.5,356.7L236.5,356.1L232.7,352.5L232.5,347.2L230.5,346.7L226.5,348L225,346.5L229.9,338.5L230.1,336.5L226.5,334L224.5,333.9L222.5,336.7L220.5,336.4L217.6,334.5L214.5,334L210.5,337.3L208.5,340.2L206.5,341.2L204.5,346.6L202.5,347.6L200.5,347.4L196.3,350.5L195.2,354.5L192.5,355.6L191.9,356.5L192.1,358.5L196.5,362.2L200.5,363.3L202.5,367.3L205.6,370.5L206.5,373.4L208.5,374.4L214.5,370.2L216.5,371.2L216.8,374.5L214.8,378.5L212.5,378.9L210.5,377.7L208.5,378.9L204.5,379.4L201.4,374.5L194.5,369.8L192.5,369.9L190.5,371.3L186.5,369.4L186.5,365.7L187.9,364.5L186.5,363.6L186.5,355.7L191,352.5L190.5,350.7L186.5,352Z M375.5,212.5L375.1,214.5L376.5,216.3L378.5,215.7L379.4,214.5L378.5,213.3L377.4,212.5Z M387.9,214.5L390.5,215.3L391.2,214.5L390.5,212.7L388.5,212.7Z M426.3,238.5L426.1,240.5L428.5,241L428.5,238.3Z M368.1,308.5L366.5,311.6L364.2,312.5L364.5,312.9L366.5,313.1L370.6,310.5L370.5,307.9Z M202.5,324.1L200.4,328.5L198.5,330.1L196.5,330.6L195.2,332.5L196.5,335.2L198.5,335.6L200.5,330.7L204.5,329.7L205.3,328.5L204.5,324.9Z M237.6,334.5L238.5,335.8L240.4,336.5L242.7,336.5L242.8,334.5L240.5,333.2Z M362.5,115.6L363.3,116.5L362.5,119.3L361.1,116.5Z M392.5,132.3L394.5,132L394.9,132.5L395.4,134.5L394.5,135.5L389.8,138.5L386.5,138.6L386.5,134.4L388.5,133.1L390.5,133.7Z M376.5,148.5L381.4,148.5L383.6,150.5L383.7,152.5L382.6,154.5L376.5,154.3L375.2,152.5Z M684.5,147.2L687,148.5L686.5,149.4L684.5,149.8L683.3,148.5Z M618.5,149.2L620.5,148.6L623.5,150.5L624.7,152.5L621.7,156.5L618.5,158L616.5,155.8L615.6,152.5Z M684.5,153.7L688.5,157.3L688.5,159.6L686.5,159.8L682.8,154.5Z M370.5,156.4L373.5,156.5L374.7,158.5L373.9,162.5L370.5,165.4L368.9,164.5L368.5,162.5Z M538.5,161.9L542.5,165.2L544.5,165.5L545.5,166.5L544.5,167.9L538.5,165.8L537.5,164.5L537.8,162.5Z M596.5,162.4L599.3,162.5L602.5,163.8L604,166.5L602.5,167.7L600.5,166.8L596.5,163.4Z M472.5,167.1L474.5,166.7L478.9,172.5L478.5,173.1L476.5,173.2L472.1,170.5L471.4,168.5Z M616.5,177.7L617.3,178.5L616.8,182.5L614.5,182.6L614.5,179.2Z M392.5,198.3L394.5,197.5L395.8,200.5L398.4,202.5L396.6,204.5L393.2,202.5L392.3,200.5Z M444,240.5L446.5,239L448.7,240.5L446.1,242.5L444.5,241.7Z M434.5,301.8L436.6,302.5L436.5,304.1L434.5,304.2L433.8,302.5Z M222.5,351.7L227.5,354.5L226.7,356.5L224.3,356.5L222.9,354.5Z M262.5,357.5L264.5,357.6L265.1,358.5L264.5,361.5L262.5,361.6L261.8,360.5Z M250.5,361.9L252.7,364.5L250.5,367.4L249.7,366.5Z M186.5,394.3L189.1,394.5L189,396.5L186.5,398.1Z M196.5,395.3L200.5,395L203.9,396.5L204.3,400.5L202.7,402.5L204.5,404.1L206.5,402L210.5,401L216.4,406.5L215.3,408.5L214.7,410.5L215.2,412.5L214.5,413.3L212.5,411.6L210.5,411.8L210,412.5L210.1,414.5L211.9,416.5L212.1,418.5L214.3,422.5L214.1,424.5L212.5,426.8L208.5,427.6L206.5,429.2L203.8,434.5L204.8,440.5L202.5,441.5L201.3,444.5L201.2,446.5L202.3,450.5L200.1,452.5L196.5,453.8L192.8,450.5L189.7,446.5L186.5,445.2L186.5,401.7L189.6,402.5L190.5,404.1L192.5,404.4L194.5,401.9Z" fill="#76afd2" fill-rule="evenodd"/>
<path d="M188.5,111.7L189,110.5L234.1,110.5L238.5,111.4L242.4,114.5L244.5,117.3L248.5,115.3L250.5,116.4L253.2,120.5L248.5,120.7L247,122.5L246.3,124.5L248.5,128.1L252.3,126.5L254.5,126.6L257.5,128.5L258.1,130.5L260.5,132.1L262.5,131.6L262.6,130.5L260.1,124.5L260.6,122.5L263.1,118.5L264.5,117.4L268.5,117.9L272.1,110.5L303.1,110.5L304.5,111.7L305.3,110.5L309.8,110.5L308.3,112.5L308.5,113.8L312.5,114.6L314.5,118.9L316.5,119.6L322.6,124.5L323.4,126.5L323.5,130.5L322.5,134.5L319.6,140.5L319.7,146.5L316.7,150.5L316.9,156.5L315.4,160.5L312.5,160.1L311.2,158.5L310.5,154.3L308.5,155.2L302.7,162.5L300.1,168.5L301.7,174.5L306.5,175.6L310.5,177.7L314.5,177L318.5,178.3L320.1,176.5L319.2,172.5L319.7,170.5L320.5,169.5L322.5,169.5L327.9,172.5L330.1,174.5L331,180.5L332.5,181.6L334.5,181.2L336.3,182.5L338.5,186.8L340.5,187.1L344.5,185.4L346.5,185.9L348.5,189L350.5,190.3L352.5,189L352.6,186.5L354.5,184.9L356.5,184.5L359.4,186.5L361.1,190.5L362.5,191.9L366.5,192.2L368.5,194.2L368.8,196.5L367.6,198.5L367.7,200.5L370,202.5L369.5,204.5L362.7,208.5L362.4,210.5L363.8,214.5L362,218.5L361.9,220.5L359.2,224.5L359,234.5L356.1,238.5L355.6,240.5L357.5,246.5L354.5,252.5L356.5,253.9L358.5,253.5L360.7,254.5L365.5,270.5L363.1,274.5L362.5,277.2L357.3,282.5L357.5,286.5L355.7,288.5L355.1,290.5L358.5,292.7L360.5,297.5L364.5,299.2L365.6,300.5L365.6,302.5L364.5,305L362.5,306.1L356.4,306.5L357.2,310.5L354.9,318.5L354.7,320.5L355.5,322.5L353.7,326.5L353.9,328.5L354.5,329.7L356.9,330.5L358.5,331.9L358.9,334.5L358.5,335.7L356.5,336.8L352.5,331.1L350.5,332.5L351.5,340.5L354,344.5L355.6,350.5L355.4,352.5L351.5,356.5L351.3,360.5L353.1,364.5L350.5,367.7L338.5,372.7L336.5,372.5L335.6,368.5L332.5,365.2L330.5,365.6L328.5,367.3L326.5,367.2L324.1,364.5L323.3,362.5L323.5,360.5L324.5,358.9L326.5,358L327.6,356.5L327.5,354.5L329.8,350.5L325.2,348.5L325,344.5L320.5,344.4L316.5,338.5L324.5,335.2L328.5,337.9L334.5,338.6L340,334.5L339.7,332.5L338.5,331.8L336.5,332.5L334.5,335.4L332.5,335.3L331.3,334.5L331,332.5L331.7,330.5L330.5,329L326.5,330.1L324.1,328.5L323.8,326.5L328.5,324.2L329.7,322.5L328.9,320.5L332.5,317.1L336.5,314.8L336.5,313.1L328.5,315.5L326.5,317L324.5,317.3L322.5,315.8L320.5,317.2L316.5,321.7L310.5,325.4L308.5,325.2L304.5,329.2L300.5,328.9L296.4,330.5L292.8,336.5L292.5,340.5L287.8,342.5L286.5,344.5L284.5,344.5L281.3,348.5L278.3,350.5L277.6,354.5L276.5,355L273.5,352.5L273.2,350.5L274.4,346.5L273,336.5L275.6,330.5L270.5,329L266.5,330.6L264.5,330.6L261.1,334.5L256.5,334.5L250.8,330.5L250.6,328.5L248.5,326.5L244.5,325.9L238.5,327.1L237.4,326.5L235.1,322.5L230.5,319.5L224.5,320L220.5,321.1L216.5,319.8L214.5,320.1L213.8,322.5L214.5,324.5L216.5,325.6L217.2,328.5L216.5,329.3L214.5,329.5L208.5,326.2L206.3,322.5L200.5,316.8L194.5,316.9L192.8,314.5L190.5,314L186.5,315.8L186.5,192.4L188.5,191.6L193.7,186.5L193.7,184.5L192.5,181L190.5,182.6L188.1,186.5L186.5,187.3L186.5,138.6L191.2,138.5L196.2,134.5L196.1,132.5L197.5,130.5L200.5,130L201.2,130.5L200.5,131.4L196.7,134.5L199.9,138.5L199.7,144.5L200.5,145.1L202.5,144.9L204.5,142L208.5,142.4L210.5,141.8L210.9,140.5L208.7,134.5L212.5,132.5L214.3,130.5L219.1,134.5L218.5,138.6L220.5,139.2L222.5,138.7L223.7,136.5L223.8,134.5L220.5,131.5L218.5,128.5L218.3,126.5L219.1,124.5L218.3,122.5L214.5,119.6L212.5,119.6L210.5,116L208.5,114.4L202.5,115.1L198.5,114L196.5,114.5L194.5,116.1L191.7,116.5L190.5,117.4L189.6,120.5L186.5,125.6L186.5,112.6Z M299.5,116.5L299,118.5L299.9,120.5L299.4,124.5L300,128.5L298.5,129.3L296.5,129.1L290.5,122.3L289.3,126.5L291.2,128.5L291.8,130.5L287,130.5L288.6,128.5L286.5,127.9L285.9,128.5L286.7,132.5L286,136.5L286.5,139.2L292.5,139.2L299.8,134.5L301,132.5L301.1,128.5L303,126.5L306.5,126.5L310.5,128.5L311.1,126.5L306.5,117.5L300.5,115.6Z M269.5,120.5L272.7,124.5L274.5,125.3L275.9,124.5L275.6,122.5L273.9,120.5L270.5,119.2Z M224,128.5L226.5,129.9L229.4,128.5L228.5,127.2L226.5,126.9Z M236,130.5L233.9,132.5L234.5,133.4L236.5,133.6L238.3,132.5L237.6,130.5Z M251.4,132.5L252.5,134.1L255.2,132.5L252.5,131.2Z M248.5,135.8L248.5,138.7L250.6,136.5L250.5,135.7Z M257.4,138.5L260.3,140.5L261,142.5L263.4,144.5L263.2,146.5L261.3,148.5L262.5,149.9L266,148.5L268.5,149.1L271,148.5L270.4,144.5L269.2,142.5L258.5,136.7Z M226.5,142.5L224.8,144.5L225.4,146.5L228.5,149.4L230.5,153.3L232.5,155L234.5,154.9L233.1,152.5L233.5,148.5L234.5,146.8L238.5,146.2L240.5,144.5L236.5,141.3L234.5,140.9L230.5,142.3Z M299,146.5L299.5,148.5L300.5,149L302.7,148.5L303.1,146.5L302.5,145.5L300.5,144.7Z M255.2,150.5L255.3,154.5L256.5,155.6L257.9,154.5L258.7,152.5L256.5,149.9Z M322.2,180.5L322.1,182.5L324.5,185.3L326.5,185.5L328.1,184.5L329,182.5L324.5,180Z M230.5,192.3L228.5,193.1L227,198.5L224.5,199.8L222.5,199.3L220.6,200.5L216.5,209.5L211.4,210.5L212.5,211.4L214.5,211.5L216.5,214.2L218.5,214.6L220.4,216.5L219.5,218.5L218.5,219.1L216.5,217.9L214.5,214.6L213.3,216.5L215.5,220.5L215.1,222.5L213,224.5L214.5,227.3L216.5,227.2L217,226.5L216.5,223.2L218.5,221.9L224.5,221.4L226.5,222.5L228.5,225.4L230.3,224.5L231.7,222.5L234.5,221.3L235.5,216.5L234.6,212.5L235.7,204.5L233.7,196.5L232.5,194.4Z M204.5,204.5L202,206.5L202.5,208.9L204.8,208.5L205.6,206.5Z M322.5,260L319.1,264.5L320.5,265.1L322.7,264.5L323.9,262.5L323.3,260.5Z M314,266.5L315.3,268.5L313.6,270.5L313.5,272.5L314.5,273.5L318.2,272.5L317.3,268.5L318.7,266.5L318.5,265.7L316.5,264.5L314.5,265.2Z M345.1,292.5L350.5,297.2L352.3,296.5L352.5,294.1L350.5,292.2L346.5,291.5Z M352.5,301.8L340.5,303.2L339,304.5L340.5,309.1L348.5,309.3L348.9,306.5L350.2,304.5L352.5,303.6L353.5,302.5Z M267.7,324.5L268.5,325.9L270.5,325.4L270.9,324.5L270.5,323.8L268.5,323.6Z M262.1,326.5L261,328.5L262.5,330.4L264.5,330.2L265.1,328.5L264.5,327.5L263.4,326.5Z M345.1,336.5L341.9,342.5L344.5,344.4L347,342.5L348.3,338.5L346.5,335.9Z M190.5,126.5L192.5,125.3L194.4,126.5L195.6,130.5L192.4,132.5L190.5,134.7L189.3,128.5Z M228.5,212.5L232.5,211.6L234.1,212.5L233.7,216.5L232.8,218.5L230.5,220.4L228.5,220.8L227.9,220.5L229.4,218.5L228.5,215.3L226.5,215.1L224.5,217L223.6,216.5L223.7,214.5L226.5,214Z M416.5,243.7L418.9,244.5L416.5,246.4L415.1,244.5Z M424.5,245.9L426.5,245.8L427.4,248.5L432.5,248.1L434.5,248.6L435.3,250.5L435.2,252.5L434.1,254.5L430.5,255.5L424.5,255.2L423.5,254.5L426.2,252.5L426.8,250.5L426.2,248.5L424.5,247.3Z M418.5,254.2L420.5,255.4L422.5,255.5L423.3,258.5L426.5,261L427.2,262.5L426.5,264.1L424.5,264.2L418.9,260.5L418.5,258.7L414.5,259.3L414,258.5L414.5,256.1Z M365.9,292.5L370.5,289.4L372.5,289.5L373.4,290.5L373.4,292.5L375.3,294.5L375.8,296.5L368.5,297.8L366.5,296.5Z M188.8,318.5L192.5,317.6L193.5,318.5L192.5,321.9L190.5,322.4L188,320.5Z M188.5,330.9L190.5,331L191.6,332.5L191.6,334.5L190.5,335.6L188.5,335.6L187.6,334.5L187.6,332.5Z M202.5,415.9L204.5,416.5L205.2,418.5L204.5,420.2L202.2,418.5L201.6,416.5Z" fill="#6095c4" fill-rule="evenodd"/>
<path d="M268.5,129.5L273.2,130.5L276.9,132.5L277.1,134.5L273.5,138.5L271.7,138.5L271.2,136.5L272,134.5L267.6,132.5L267.2,130.5Z M312.5,143.5L314.5,143.9L314.5,144.5L312.5,145.8L311.4,144.5Z M284.5,146.5L286.6,146.5L287.9,156.5L286.5,161.1L283.9,160.5L282.7,158.5L283.9,154.5L282.1,148.5Z M186.5,147.2L189.1,154.5L192,156.5L190.5,158.7L188.5,160.2L186.5,160.6Z M196.5,151.4L198.1,152.5L198.1,154.5L194.5,155.5L193.2,154.5Z M210.5,154.3L212.5,153.9L214,154.5L212.5,156.6L210.5,157.7L209.1,156.5Z M274.5,157.2L278.5,154.9L280.5,155.2L281.4,156.5L281,158.5L278.7,162.5L270.5,165.9L268.5,167.3L267.1,170.5L266.9,172.5L269.6,178.5L270,184.5L270.9,186.5L272.5,187.1L276.5,186.2L278.5,187.3L281.3,190.5L282.5,191L283.5,190.5L283.9,188.5L281.1,186.5L280.8,182.5L277.2,180.5L275.5,178.5L276.5,176.6L282.5,177.3L284.1,178.5L284.4,180.5L283.4,182.5L286.5,187.2L292.5,185.3L296.5,186.6L302.5,185L308.5,185.9L314.5,184.8L317,186.5L317.6,188.5L316.5,190.5L314.5,190.6L311.9,192.5L313.5,196.5L312.4,200.5L310.4,202.5L310,204.5L312.3,206.5L312.2,208.5L310.5,211.4L308.5,212L306.5,210.7L304.5,206.6L299.6,210.5L298.3,214.5L299.6,216.5L298.5,218.1L296.5,218.9L294.3,218.5L293.3,216.5L295,214.5L295.4,212.5L293.9,210.5L292.5,209.9L292.1,210.5L292.3,214.5L290.4,218.5L293.4,222.5L293.7,226.5L292.1,228.5L292.4,230.5L291.6,232.5L288.3,236.5L288.7,238.5L291.1,240.5L290.6,244.5L292.5,245.8L294.5,245.6L298.5,242.3L302.5,241.3L302.5,239.9L300.3,238.5L303.2,234.5L304.5,230.7L308.5,233.4L310.5,232.9L316.5,227.7L322.5,225.6L324.5,222.5L324,216.5L324.5,213.3L329,210.5L329.5,204.5L331.4,200.5L331.7,196.5L332.5,195.5L334.5,196L340.7,204.5L340.5,206.5L338.5,210.3L336.5,209.1L334.5,209.9L334.9,212.5L338.5,213.7L344.5,212.8L347.3,214.5L353.6,216.5L353.8,218.5L352.5,219.6L348.5,219.5L345.6,220.5L344.5,224.7L341.2,226.5L340.1,228.5L340.5,229.3L342.5,229.8L344.5,228.1L346.5,228.1L348.5,230L350.5,229L352.5,225.6L353.2,230.5L354.5,232.5L354.3,234.5L352.5,235.7L351.4,234.5L350.5,231.1L348.5,230.9L346.2,236.5L341.7,242.5L340.7,246.5L344.5,249.9L346.5,254.5L342.4,256.5L342.9,258.5L348.5,260.5L353.7,264.5L353.8,266.5L352.5,268.5L352.5,270.5L353.8,274.5L353.3,276.5L348.5,277.6L346.4,276.5L345.4,274.5L346.4,272.5L344.5,270.6L338.3,268.5L340.5,267.4L341.7,264.5L340.8,258.5L338.5,257.9L330.5,258.1L329.8,254.5L328.5,253.1L326.5,253.6L324.5,255.2L320.5,255.5L318.5,254.5L315.3,250.5L312.5,249L310.5,249.9L310.5,252.1L315.6,254.5L316.4,256.5L314.5,257.7L313.1,260.5L307.7,266.5L306.7,268.5L306.2,270.5L308.2,274.5L308.6,278.5L305.9,280.5L305.1,282.5L306.5,283L308.2,282.5L310.5,279.8L314.5,281.3L320.5,279L324.5,279.2L328.5,278.3L330,280.5L328.5,283.5L325.2,286.5L325.4,288.5L328.5,288.3L331.4,290.5L331.2,292.5L328.5,295.3L326.5,295.4L323.1,292.5L322.5,290.9L320.5,290.5L318.5,291L314.5,295L310.4,296.5L309.5,298.5L310.1,300.5L312.5,303.4L314.5,304.3L316.5,302.9L318.5,300L321.1,300.5L321.3,302.5L317.9,304.5L314.5,312.8L308.5,312L304.5,308.6L302.5,309.1L300.5,311.3L298.5,311.8L297.1,310.5L295.7,306.5L290.5,302.4L286.5,305.1L285.7,302.5L286.5,301.1L288.5,300.2L290.5,296.1L288.5,295.7L286.9,296.5L284.5,300.1L280.5,300.5L278.5,302.5L276.5,302.8L272.5,301.1L268,296.5L270.1,292.5L268.5,290.1L266.5,292.4L262.5,290.9L261.1,292.5L262.4,294.5L264.5,295.1L265.9,296.5L269.9,302.5L269.8,304.5L268.5,305.5L264.5,305.8L263.6,306.5L260.5,315.8L258.5,315.8L254.5,311.3L251.2,312.5L250.5,315.2L252.7,316.5L250.5,317.3L248.5,319.4L242.5,318.8L240.4,312.5L236,306.5L236.3,304.5L234.5,303L232.5,302.8L226.5,303.3L222.3,306.5L218.5,312L216.5,312.4L213.7,310.5L212.5,305.1L210.5,305.4L208.5,304.5L206,300.5L206.5,298.5L208.5,296.1L212.5,293.5L214.7,290.5L216.2,286.5L215.7,282.5L218.4,280.5L218.7,278.5L214.5,278.1L212.5,279.2L210.5,278L210.5,275.8L211.7,272.5L207.5,270.5L207.3,268.5L209.9,262.5L210.5,258.6L214.5,258.8L216.5,256.8L220.5,259.6L222.5,260L224.5,261.9L226.5,259.8L228.9,258.5L228.5,256.5L224.5,258.9L222.5,254.5L218.5,252.8L216.5,253.7L214.2,252.5L217.2,250.5L221.3,244.5L228.5,242.8L234.5,243.2L238.2,242.5L240.5,237.2L244.5,233.5L246.5,233.1L250.5,233.8L251.7,232.5L251.4,230.5L248.5,226.8L247.9,224.5L248.5,221.1L250.6,218.5L250,216.5L248.5,216.2L242.2,210.5L246.5,207.7L248.1,204.5L245,196.5L247,192.5L246.2,188.5L244.5,186.5L242.5,189.3L240.5,189.1L238.3,186.5L239.6,182.5L236.5,177.4L230.5,173.6L228.5,174L226.5,172L225,168.5L226.5,167.4L230.5,166.9L232.5,170.7L234.5,172.1L236.5,171.6L238.7,168.5L239.9,170.5L238,174.5L238.5,175.4L240.5,173.7L242.5,173.6L245,174.5L246.5,176.8L248.5,176.6L250.5,175.2L252.5,176L255.5,180.5L256.5,184.1L258.5,184.4L260.5,183.8L261.8,182.5L260.9,178.5L263.2,174.5L261.7,170.5L262.5,167L264.5,165L270.2,162.5Z M290.4,196.5L292.5,198.3L293.7,196.5L292.5,195.2L290.5,195.6Z M290.5,199.7L288.2,204.5L288.5,206.5L290.5,206.6L294.3,202.5Z M268.5,234.6L265.8,240.5L266.5,242L268.5,241.7L269.7,240.5L269.4,236.5Z M240,242.5L238.2,246.5L240.3,248.5L242.5,248.6L244.6,244.5L242.5,242.8Z M286,242.5L286.5,244.7L289.1,244.5L286.5,241.8Z M230.5,260.5L227.5,264.5L227.6,268.5L227,270.5L227.7,272.5L232.5,273.2L240.2,268.5L237.7,266.5L233.1,260.5Z M256.2,282.5L255.2,284.5L256.5,284.8L258.3,282.5Z M209.8,300.5L212.3,302.5L212.9,304.5L215,304.5L215.9,302.5L214.6,300.5L212.5,299.3L210.5,299.1Z M198.5,168.1L200.5,167.5L201.1,168.5L200.5,169.8L198.5,169.3Z M198.5,178.1L200.5,179L201.5,180.5L202,182.5L200.5,183.5L198.5,183.6L197.3,182.5L197,180.5Z M214.5,187.7L220.5,189.2L222.5,191.1L222.5,193.3L220.5,194.1L218.5,193.2L216.5,193.3L214.5,194.4L212.9,190.5L213,188.5Z M194.5,191.6L196.5,192.2L196.5,193.4L194.5,193.9L193.1,192.5Z M348.5,198.3L349.7,200.5L348.5,201.3L345.6,200.5L346.5,199.2Z M198.5,214.2L204.5,222.5L204.5,223L198.8,224.5L196.4,226.5L196.3,228.5L197.7,230.5L197.8,236.5L198.5,237.4L200.5,237.1L204.5,235.1L206,236.5L206.1,238.5L200.5,241.9L198.5,241.5L196.5,238.9L195.3,240.5L194.5,244.4L192.5,245.2L190.5,247.5L190,246.5L190.5,241.8L188.5,240.8L186.5,241.1L186.5,235.4L189.2,234.5L190.4,232.5L189.8,226.5L190.5,224.5L195.1,218.5L196.5,214.9Z M312.5,224.5L313.3,226.5L312.5,228.3L310.5,228.9L308,228.5L310.5,225Z M318.5,222.8L319.1,224.5L318.5,226.4L316.7,224.5Z M200.5,226.8L202.5,228.5L200.5,229.7L199.6,228.5Z M196.5,282.4L198.5,280.8L200.5,280.5L201.4,282.5L196.5,286.9L195.9,286.5L195.8,284.5Z M186.5,288.2L188.5,290.4L192.5,291.4L193.4,288.5L194.5,287.3L195.4,288.5L198.5,289.9L199,290.5L199,294.5L198.5,295.7L196.5,295.8L195.9,296.5L196.5,297.4L200.5,296.2L201.5,300.5L203.6,302.5L204.4,304.5L202.5,305.2L194.5,305.8L189.3,302.5L188.5,299.9L186.5,298.8L186.5,293.3L187.8,292.5L186.5,291.1Z M282.5,309.1L284.4,310.5L283.7,312.5L280.5,315.4L279.3,312.5Z M286.5,313.9L288.5,314.5L290.5,317.8L292.5,318.4L294.5,320.8L296.1,324.5L294.5,326L292.5,325.6L288.5,320.2L285.2,318.5L284.9,316.5L285.6,314.5Z M344.5,316.1L346.5,315.1L348.5,316L349.1,316.5L348.7,318.5L346.5,319.1L344.9,318.5Z M342.5,352.3L344.5,351.9L346.5,353.1L347.3,358.5L346.5,362.9L344.5,362.9L342.5,361.7L339.7,358.5L339,356.5L339.7,354.5Z" fill="#4b7db8" fill-rule="evenodd"/>
<path d="M302.5,190.4L304.7,190.5L304.9,192.5L302.5,193.6L300.4,192.5Z M272.5,195.8L274.1,196.5L274.9,198.5L274.5,199L272.1,198.5L271.4,196.5Z M264.5,209.6L268.5,208.9L270.5,209.4L271.4,210.5L272.8,216.5L272.1,218.5L268.5,220.2L262.5,220.4L260.4,216.5L260.3,214.5L262.5,211.2Z M336.5,220.3L338.5,219.4L340.1,220.5L338.5,222.6Z M272.5,223.7L275,226.5L275.3,228.5L270.5,231.3L268.5,231.4L266.7,230.5L265.4,228.5L265.1,226.5L268.5,226.8Z M320.5,235.9L322.5,235.6L326,240.5L324.5,241.3L320.5,239.8L318.9,238.5Z M320.5,242.1L321.6,242.5L322.6,244.5L320.5,245.7L318.3,244.5Z M256.5,245.5L259,246.5L260.8,248.5L264.5,249.2L265.5,250.5L262.8,252.5L259.2,252.5L259.5,254.5L258.5,256.2L256.5,255.6L254.5,256.2L252.5,258L250.5,257.7L250.4,254.5L254.3,250.5Z M292.5,250.3L293.3,252.5L289.9,254.5L288.8,258.5L286.5,258L285.8,256.5L286.5,252.6L288.5,251.3Z M298.7,258.5L302.5,257.8L304.5,259.6L305.8,262.5L298.5,268.6L296.5,268.5L296.5,266.2L298.6,262.5Z M270.5,265.7L276.5,265.6L280.5,268.3L284.5,267.2L285.1,268.5L284.7,270.5L280.5,277.7L276.5,278.9L272.5,275.9L270.5,276L268,274.5L266.5,272.5L266.5,270.5L270.1,268.5L269,266.5Z M238.5,280.5L241.2,284.5L241.4,286.5L240.3,288.5L244,292.5L244.3,294.5L242.5,296.4L238.5,294.3L234.5,289.5L232.2,288.5L231.5,286.5L232.5,284.3L234.5,284.3Z M246.5,301.6L248.5,302.5L244.5,308.1L243.2,306.5L244.5,303.5Z" fill="#3e60aa" fill-rule="evenodd"/>
</g>
<g clip-path="url(#lakec)">
<rect x="190.5" y="114.5" width="514.0" height="456.5" fill="#d8eff6"/>
<path d="M186.5,110.5L708.5,110.5L708.5,293.6L666.5,285.3L639.5,282.1L624.5,281.7L612.5,282.2L588.5,285.7L573.5,289.7L558.5,295.1L503.4,320.5L495.5,325.7L491.7,329.5L488.1,335.5L485.5,344.5L484.8,353.5L485.4,362.5L487.7,374.5L490.7,383.5L494.9,392.5L500.7,401.5L507.5,409.3L513.5,414.6L522.5,420.3L534.5,424.9L543.5,426.5L555.5,426.2L570.5,422.9L576.6,422.5L576.6,419.5L573.5,417.8L573.1,416.5L572.9,413.5L573.8,410.5L576.5,407.2L579.5,406.4L582.5,407L587.3,410.5L589.7,413.5L608.2,440.5L614.9,452.5L619.9,464.5L624.3,479.5L627.3,494.5L629.4,512.5L630.3,530.5L629.6,572.5L186.5,572.5Z M396.5,133.7L384.5,137.4L380.1,140.5L378.1,143.5L377.3,146.5L378.5,152.5L381.5,156.5L387.5,160.1L399.5,163.3L402.5,163.2L405.5,162L408.7,158.5L410.8,152.5L411.7,146.5L410.4,140.5L408.2,137.5L402.5,134.2Z M439.3,182.5L435.5,183.4L429.5,186.2L426.5,188.5L421.7,194.5L419.6,200.5L419.4,206.5L421,212.5L422.5,215.5L427.5,221.5L438.5,230.6L445.9,239.5L453.5,245.5L459.5,248.2L468.5,249.6L474.5,248.7L480.5,245.7L483.9,242.5L487.8,236.5L489.9,230.5L490.9,224.5L490.6,218.5L489,212.5L485.6,206.5L480.6,200.5L479.6,197.5L480.1,194.5L481.6,191.5L481.4,188.5L473.9,185.5L465.5,184L447.5,182.1Z" fill="#c1e4ef" fill-rule="evenodd"/>
<path d="M186.5,110.5L247.7,110.5L245.7,125.5L247.1,140.5L251.9,155.5L258.5,167.3L265.9,176.5L275.8,185.5L285.5,192.2L309.5,205.8L313.5,209.5L315.6,212.5L318.2,221.5L321.5,251.5L329.2,281.5L330.7,290.5L330.9,299.5L329.9,308.5L323.9,329.5L280.4,437.5L230.8,572.5L186.5,572.5Z" fill="#a8d6e8" fill-rule="evenodd"/>
</g>
<mask id="usm" maskUnits="userSpaceOnUse" x="192.5" y="116.5" width="510.0" height="452.5"><path d="M132.5,56.5L266.4,102.1L271.6,109.3L283.2,114.7L292.4,114.2L302.5,120.4L309.8,123.5L318.5,129.7L327.9,127.5L340.0,130.8L347.4,133.7L350.5,133.5L364.7,128.0L378.0,137.9L393.1,147.8L416.0,161.1L418.3,163.5L419.8,168.5L422.1,172.3L422.1,172.3L426.0,171.6L429.9,177.4L433.0,183.2L439.4,187.8L455.4,199.2L458.7,217.5L461.4,238.0L457.0,251.7L455.7,260.9L452.4,264.3L449.0,266.6L449.0,266.6L445.7,267.7L445.2,273.9L445.7,275.7L452.5,281.8L457.6,281.8L476.1,269.7L497.8,262.3L514.2,254.8L515.5,252.5L515.5,252.5L514.0,248.6L512.9,244.4L510.3,240.1L518.3,235.7L549.6,233.8L554.6,222.7L556.9,220.2L564.5,212.7L571.9,204.1L581.3,199.8L632.6,193.8L633.6,188.6L638.4,186.3L642.6,183.4L647.6,173.5L648.9,165.2L651.2,159.1L651.1,152.4L660.2,133.1L663.0,133.3L666.3,138.6L674.3,133.1L683.8,138.3L688.4,163.7L694.9,170.5L697.5,180.5L699.2,179.2L704.9,184.9L706.0,186.6L705.3,187.2L698.3,194.2L690.9,199.0L686.6,203.2L681.6,202.9L677.6,198.9L677.2,201.3L674.4,209.8L668.6,215.4L662.3,217.5L657.1,221.7L658.2,223.4L656.0,225.3L653.3,230.3L651.6,235.9L650.2,240.7L650.8,242.2L654.6,245.1L650.9,249.1L648.9,252.8L654.3,255.5L656.0,261.0L659.0,264.5L666.6,263.4L665.4,260.8L663.1,257.2L665.7,257.3L668.2,262.7L667.8,265.8L657.0,270.8L656.6,265.5L653.0,270.6L649.5,272.3L648.2,273.1L646.3,271.6L644.2,266.1L644.7,272.9L643.8,276.0L637.5,278.0L633.4,278.5L629.2,279.9L619.9,281.3L615.1,284.6L607.6,288.8L604.9,293.7L602.7,295.1L602.7,289.3L602.0,282.5L603.5,289.3L603.0,292.7L601.8,297.4L599.3,298.4L598.7,301.6L603.1,301.4L603.4,309.9L603.0,317.9L598.3,327.3L589.9,338.0L590.3,332.4L584.8,331.1L579.1,325.9L578.0,323.7L578.3,327.1L581.4,332.5L585.4,337.9L588.1,341.6L589.1,349.0L588.5,352.5L584.0,362.8L580.2,371.5L575.2,381.1L575.0,385.0L575.6,385.7L578.0,393.5L580.8,400.1L585.1,407.8L587.4,414.5L586.8,423.0L578.3,427.4L569.2,438.9L566.8,436.8L558.4,438.5L550.3,444.8L544.2,453.2L543.3,458.0L542.5,456.7L532.3,458.4L526.0,462.4L523.8,465.7L520.8,473.9L517.7,478.6L512.0,481.6L507.7,484.7L505.5,487.8L497.8,491.3L497.0,494.7L492.7,497.4L489.4,501.8L485.6,507.2L483.1,513.0L481.3,518.9L479.1,525.8L478.6,532.8L479.8,542.0L482.1,551.2L483.7,557.0L487.9,567.3L489.0,571.9L494.4,583.4L454.6,584.0L452.5,574.7L446.4,568.9L439.3,560.8L439.3,557.3L434.4,551.5L427.4,547.3L423.4,547.4L420.3,550.2L414.1,552.9L407.1,557.6L400.1,556.2L399.2,551.4L393.4,545.4L383.6,540.0L377.6,539.1L363.6,539.6L364.0,538.9L364.8,535.3L361.8,535.6L360.0,539.7L357.2,540.5L355.1,540.9L351.3,539.6L350.8,536.5L350.0,531.2L348.3,530.8L347.4,535.4L348.3,540.9L345.5,540.1L340.2,538.4L331.8,537.5L324.4,539.6L319.1,540.9L313.8,542.2L312.3,545.2L314.8,546.4L318.2,544.7L321.2,543.0L323.7,543.9L322.5,547.3L319.5,549.4L316.9,552.4L313.8,553.4L311.9,557.0L312.7,560.0L315.7,562.5L319.1,563.4L318.2,565.5L320.3,568.0L324.1,566.8L325.0,564.2L322.5,562.9L319.9,560.8L316.9,562.1L313.1,560.8L310.6,559.1L308.9,556.6L306.4,557.0L304.2,560.0L302.1,562.9L299.2,561.7L297.5,558.7L294.9,559.6L293.7,562.1L291.1,560.8L287.7,562.1L286.2,560.0L283.5,559.1L280.9,557.9L279.3,554.9L277.8,551.9L275.0,549.8L273.5,547.3L272.1,549.4L269.3,548.5L270.8,546.4L268.2,545.2L265.1,546.0L262.9,548.5L259.8,549.8L255.5,548.1L252.4,547.1L249.2,544.9L244.9,543.5L240.7,541.8L235.4,542.2L229.7,543.0L229.1,542.2L221.6,543.5L215.3,544.9L211.1,547.1L210.6,543.9L213.6,541.8L213.2,538.0L210.0,539.6L206.8,538.6L204.7,541.8L205.1,546.0L203.6,550.2L198.4,554.5L192.0,559.1L180.0,566.0L150.0,590.0L132.5,629.0Z" fill="#fff"/><path d="M374.1,281.4L369.3,276.0L368.2,271.3L366.2,264.2L366.7,259.2L366.0,248.8L366.7,240.7L369.9,232.6L371.1,224.9L373.4,223.0L374.0,216.6L375.3,213.5L377.7,207.9L383.0,199.0L383.8,197.8L380.5,200.7L376.2,206.6L371.1,211.0L366.0,214.6L366.7,210.7L368.9,205.6L373.2,201.9L373.4,197.3L378.5,191.9L382.7,187.5L383.7,184.1L387.6,186.1L390.6,190.8L390.0,184.8L395.6,183.4L401.2,182.5L408.4,180.9L415.5,182.9L419.8,186.0L419.7,188.0L414.6,190.9L414.0,195.4L416.3,197.1L411.0,198.3L408.7,201.0L407.7,206.7L405.2,210.8L405.4,202.1L402.6,205.0L398.0,207.6L394.8,213.6L392.9,222.2L389.6,226.4L390.6,230.1L388.9,235.8L391.9,245.5L393.2,249.4L393.6,256.0L392.2,264.4L388.5,270.9L383.7,278.0L381.0,279.5L374.1,281.4Z M419.7,188.0L423.8,191.1L434.2,196.5L439.6,198.1L440.4,204.7L442.5,209.5L442.6,214.1L442.0,219.4L440.0,223.2L435.9,228.0L432.2,232.3L432.2,236.9L435.0,237.6L439.9,235.1L442.9,230.3L448.5,227.4L453.1,232.4L455.2,245.6L457.0,251.7L461.5,250.1L468.1,244.8L468.4,234.5L469.6,224.7L473.9,217.3L474.9,208.1L470.7,202.5L468.7,200.2L474.8,205.8L475.6,207.0L477.4,211.5L481.0,215.3L486.4,214.7L492.6,216.8L496.2,216.0L497.9,210.9L498.3,207.5L494.7,197.3L488.9,191.8L484.8,188.0L480.8,184.4L471.2,183.7L464.8,180.8L457.6,179.1L448.0,179.1L438.6,177.5L434.7,176.3L432.3,180.9L433.0,183.4L425.9,183.5L419.8,186.0L419.7,188.0Z M304.7,158.7L306.1,160.0L315.7,159.1L324.6,156.0L325.7,161.9L323.4,164.0L330.9,165.3L340.7,160.8L348.4,159.8L354.3,157.2L359.4,152.3L367.3,147.5L371.6,147.5L374.4,148.8L369.4,153.6L364.5,157.9L361.8,163.2L365.1,160.2L369.9,158.9L373.3,162.3L378.0,168.9L386.6,171.6L389.7,172.4L400.5,166.9L408.0,167.1L416.7,165.3L415.4,168.5L415.8,171.9L422.5,173.9L426.0,171.6L422.1,170.9L423.8,167.0L423.1,161.7L421.6,154.8L420.1,150.9L416.4,146.2L418.1,138.2L408.8,138.0L402.8,134.4L398.5,125.0L396.0,119.8L385.1,118.0L371.6,114.5L363.6,121.0L358.6,127.6L352.7,124.9L350.7,131.6L347.4,133.7L339.4,137.7L328.2,141.4L316.6,149.5L309.8,154.6L304.7,158.7Z M439.7,280.7L445.7,283.7L452.5,287.1L461.0,287.5L469.5,285.8L477.1,280.0L488.0,275.6L496.4,270.8L502.0,267.4L512.7,257.6L516.4,253.6L513.3,253.0L505.8,253.6L494.2,256.0L490.2,260.9L482.6,259.3L475.9,259.5L466.7,268.0L457.5,273.4L455.8,276.8L449.0,275.0L445.2,273.9L443.1,275.7L439.7,280.7Z M449.0,266.6L452.4,259.7L455.7,260.9L457.0,266.5L452.4,267.7L449.0,266.6Z M500.5,243.9L506.8,236.9L514.8,230.3L529.5,227.8L537.7,227.3L546.0,229.0L549.1,226.5L553.8,222.7L556.9,220.2L559.0,225.8L559.7,234.9L554.9,237.1L546.9,242.0L537.0,243.5L521.9,241.4L512.9,244.4L508.0,245.9L500.5,243.9Z M602.8,197.6L604.3,206.6L603.7,214.7L604.0,219.3L605.2,219.2L605.5,213.4L606.1,206.4L605.4,197.3L602.8,197.6Z M295.8,537.1L297.9,535.0L302.1,534.1L306.4,535.0L308.9,538.0L307.4,540.9L303.2,542.2L298.9,541.3L296.2,539.6L295.8,537.1Z M571.3,324.7L568.3,328.3L564.7,332.9L563.1,337.1L561.7,342.0L563.9,347.0L566.4,351.1L569.0,354.4L567.7,358.5L569.7,363.4L570.3,368.4L571.3,373.3L572.9,378.3L574.9,382.4L575.9,386.0L577.2,390.0L574.6,380.2L575.7,372.5L577.9,365.9L580.5,361.0L579.5,356.8L575.3,355.2L573.6,349.4L575.6,344.5L572.9,339.5L571.3,334.6L573.3,329.7L572.3,324.7Z M578.9,398.2L580.5,406.1L581.2,407.4L581.2,407.4L578.9,412.4L575.3,414.0L571.3,415.7L567.7,414.3L564.4,415.7L560.4,416.3L556.5,415.3L560.8,418.0L566.0,419.3L570.6,421.3L568.0,423.9L564.4,425.2L560.8,426.5L556.1,428.2L562.4,430.1L567.3,432.1L564.7,435.1L559.8,437.7L561.1,438.7L566.4,435.9L572.9,431.8L579.5,427.7L584.5,424.4L587.8,420.3L588.1,415.7L586.1,411.2L582.8,405.4L579.5,397.2L577.2,390.0Z" fill="#000"/></mask>
<g mask="url(#usm)"><path d="M710.4,173.7L695.1,187.4L698.1,199.4M648.9,161.8L659.3,145.1L658.5,140L651.6,133.7M674.7,149.2L712.5,129L682.8,169.3L676,162.7L650.5,166.7L654.4,171.4L673.7,178.6L682.1,174.7L683.2,172L682.8,169.3M674.7,149.2L659.3,145.1M189.2,381.2L198.2,382.8L200.7,372.9L191.5,372.5M420.4,268L412.4,268.4L412.1,277.2L412.2,277.4L416.9,279.7L421.2,276.1L420.4,268L421.5,266.9L421.2,260L412.2,259L411.9,259.3L411.9,267.9L412.4,268.4M205.1,337.1L214.5,338.6L215.8,329.3L206.4,328.3L206.2,328.4L205.1,337.1L204.8,337.4L195.4,336.1L195,335.6L197.6,326.6L206.2,328.4M215.8,329.3L215.8,329.3L224.5,330.2L223.3,339.9L214.9,339L214.5,338.6M212.6,114.4L209.6,126.6L210.2,127.6L221.6,128.3L222.9,127.2L224.3,116.3M221.1,141.3L208.1,137.6L210.2,127.6M221.1,141.3L221.4,141L221.6,128.3M412.7,225.5L413.1,225.2L413.3,216.2L405,216L404.6,224.2L412.7,225.5L412.4,233.1L412.7,233.4L421.1,234.1L422.3,232.9L421.5,225L413.1,225.2M199.8,112L198.6,123.7L209.6,126.6M333.5,165.6L340.1,163.5L340.3,151.7L330.2,156.2L333.5,165.6L332.9,166.5L315.1,162.7L310.8,152.7L329.4,155.5L330.2,156.2M329.5,448L330.5,455.6L338.2,456L338.7,449.1L330.5,447.3L329.5,448L322.5,447.9L322.5,448L321.6,455.8L322.9,457.1L323.7,464.2L329.2,464.8L330.8,463.9L330.2,456L322.9,457.1M586.7,285.5L584.1,290.3L590,290.6L592.3,283.2L586.7,285.5L582.8,280.1L584,277.9L592.1,278.3L593.2,279.4L593.7,281.7L592.3,283.2M689.7,201.7L686.8,201.1L677.1,207.2L670.1,203.4L670.5,192.9L682.4,192.7L686.3,184.1L695.1,187.4M686.8,201.1L682.4,192.7M481,269.5L482.9,261.7M481,269.5L477.5,269.5L473.7,253.6M549.9,310L543.8,310.6L542.5,303.9L551.3,299.7L552.9,301.5L549.9,310L553.1,311.4L554.1,317.5L548.3,319.9L544.6,317.9L540.5,322.5L542.7,326.9L550,325L548.3,319.9M548,284.3L549.8,274.2L554.4,274L556.3,275.5L557.3,283.3L555.9,285L548,284.3L546.4,285.3L547.4,293.1L550.9,295.4L551.3,299.7M557.5,266.7L554.4,274M557.5,266.7L556.7,264.6L550.6,262.5L547,265.3L547,272.1L549.8,274.2M200.7,299.1L199.8,307.3L200.4,308L208.8,308.4L210.3,301.1L200.7,299.1L200.5,298.6L191.5,297.4M207.7,318.7L199.4,317L200.4,308M207.7,318.7L209.4,309.2L208.8,308.4M191.7,307.1L199.8,307.3M200.5,298.6L202.9,291L211.3,292.3L210.6,300.8L210.3,301.1M195,335.6L186.6,333.9M195.4,336.1L194,344.9L184.7,343.4M204.8,337.4L203.9,345.7L202.8,346.7L194.2,345.2L194,344.9M190.9,362.9L200.2,364L201.6,355.4L192.2,353.8L194.2,345.2M202.8,346.7L202.1,355L201.6,355.4M248.9,211L248.7,211.2L247.3,222.2L250.4,223.9L255.8,223.4L258,221.5L258.2,213.6L248.9,211L250.4,202L260.1,202.7L260.8,203.4L269.7,204.2L269.3,213.8L258.8,213.1L260.8,203.4M240.4,139L240.6,137.3L237.8,131.6L222.9,127.2M240.4,139L235.7,142.6L221.4,141M237.8,131.6L239.4,115.9M456.6,242.2L478.1,243.4M456.6,242.2L456.1,242.7L456.3,250.7L474.9,250.4M430.3,251L430.5,259.2L439,259.6L439.3,259.3L439.3,251.7L438.2,250.6L430.3,251L429.5,250.3L429.7,242.3L421.2,241.5L420.8,241.9L421.6,251L421.8,251.2L429.5,250.3M227.5,312.3L218.8,310.3L218.2,310.7L216.4,319.6L216.5,319.7L226.1,321.3L226.3,321.1L227.5,312.3L229.1,311.2L230,302.9L220,301.7L219.5,302.1L218.8,310.3M229.1,311.2L236.4,313.4L236.9,319.9L234.5,322.8L226.3,321.1M224.5,330.2L224.5,330.1L226.1,321.3M215.8,329.3L216.5,319.7M209.4,309.2L218.2,310.7M210.6,300.8L219.5,302.1M207.7,318.7L207.9,318.8L216.4,319.6M207.9,318.8L206.4,328.3M203.9,345.7L212.7,347.9L211.2,356.6L202.1,355M214.9,339L213,347.6L212.7,347.9M197.3,124.6L195.8,136.5L183.2,133.6M197.3,124.6L186.3,122.8M196.4,137.5L207.2,138.4L208.1,137.6M196.4,137.5L195.8,136.5M198.6,123.7L197.3,124.6M413.3,216.2L413.4,216.1L413.7,207.3L413.5,207L404.8,207.6L404.9,215.8L405,216M456.3,233.9L456.6,242.2M456.3,233.9L447.8,234.1L447.7,242.7L456.1,242.7M448.1,190.3L448,199L455.9,199.6M439,198.5L438.8,198.7L439.1,207.6L447,207.4L447.7,199.2L439,198.5L439.2,190.9L430.5,189.9L431.1,182.3L439.3,182.3L439.2,190.9L439.2,190.9L448,190.2M447.7,199.2L448,199M447,207.4L447.9,208.3L456,207.2L456.2,199.8M456.4,216.3L456.4,207.6L456,207.2M456.4,216.3L448.1,216.2L448,216.1L447.9,208.3M456.4,225.4L448.2,225L448.1,216.2M456.4,225.4L457,224.8L456.7,216.5L456.4,216.3M456.4,207.6L479.7,208.8M456.7,216.5L479.1,214.2M537.3,265L541.8,263.2L541.3,254.9L533.6,256.2L532.2,264.2L537.3,265L540.2,274.5L547,272.1M547,265.3L541.8,263.2M539.5,275.3L540.2,274.5M539.5,275.3L532.7,276.4L529.1,273.4L531.7,264.5L532.2,264.2M550.6,262.5L550.5,255.8L541.4,254.7L541.3,254.9M531.7,264.5L523.8,261.5L519.5,265.5L524,274.3L529.1,273.4M203.8,433.4L203,434L200.4,443.3L205.4,446.3L211.8,444.1L212.4,435.4L210.7,433.8L203.8,433.4L202.8,423.5L194.1,423.4L193.8,422.7L195.2,413L204.3,413.5L204.5,421.8L202.8,423.5M332.9,166.5L331.7,175.9L330.9,177.3L319.6,182.2L317.6,182L314.8,174.6L315.1,162.7M292.9,200.5L298.6,197.5L297.6,190.7L289.9,189.2L285.7,191L284.7,193.5L292.9,200.5L292.3,207.5L298.3,207.9L302.4,199.7L298.6,197.5M304.4,141.3L301,142L280.5,162.3L281.6,164.8L298.5,165.9L307.7,149.4L305.4,141.9L304.4,141.3L301.2,126.7L309.9,112.3M305.4,141.9L323.8,134.9L325.4,121.7M374.9,467.2L375.8,460L379,458.9L383.3,460L385.5,466.8L383.7,469.7L376.9,470L374.9,467.2L367.4,468.4L364.7,466.6L367.9,458.4L360.1,454.5L357.5,457.1L361.1,467.5L364.7,466.6M404.8,417.5L408.4,415.7L407.9,409.3L402.8,410.6L402.2,416.5L404.8,417.5L405.3,424.5L398.4,424.9L395.7,422.3L397.4,416.9L402.2,416.5M405.3,424.5L405.3,424.5L411,425.2L412.2,426.6L419.7,424.9L420.3,423.4L417.3,417.2L415.9,416.4L413.1,417.4L411,425.2M429.5,541L423.5,540.6L422.5,549.7M429.5,541L432.3,543.3L434.1,549L429.3,553.4M435.3,568.2L443.9,565.8L446.1,568.6L454,568.3L451.6,558.4L449.6,558.1L444.8,560L443.9,565.8M511.9,442L511.6,442.4L511.7,442.8L519.8,448.7L524.2,445L523.3,441.2L520.8,438.5L511.9,442L512.7,433.3L504.8,430.7L500.9,434.3L501,436.7L492,440.7L490.3,432.1L497.5,431.9L500.9,434.3M408.4,415.7L413.1,417.4M424,422.3L420.3,423.4M424,422.3L429.6,427.4L429.4,428.2L424.1,430.8L421.8,430.1L419.7,424.9M435.1,403.1L432,410.8L437.2,412.4L441,409.9L440.6,404L435.1,403.1L435,403L428.2,402.3L426.4,404.2L425.9,408.8L430.4,411.2L429.8,417.9L429.5,418.2L426.7,418.7L423.2,415.7L424.9,409.3L425.9,408.8M429.4,428.2L434.7,434.3L436.7,434.6L437.4,425.1L436,424L431.8,424.4L429.6,427.4M547.2,338L551.8,338.3L552.2,342.4L551.6,343.1L545.1,345.3L544.4,344.9L543.4,341.4L547.2,338L543.9,332.1L550.8,331.5L550.9,331.6L552.6,336.7L551.8,338.3M588.8,343.3L587.6,343.7L583.7,341.9L585.8,334.2M583.4,319.6L585.8,322.1L587.3,328.4L583.8,331.5M583.4,319.6L580.4,322.3L582.8,331.5L581.1,332.1L574.8,330.1L574.3,324.4L574.7,323.6L580.4,322.3M559,344.2L561.4,342.4L561.4,338.2L558.4,336L552.6,336.7M559,344.2L552.2,342.4M609.8,284.7L608.4,276.9L617.6,279.2L617.9,283.7M609.8,284.7L611.2,286L617.7,284.2M629.6,236.9L627.1,226.1L631.6,223.1L637.2,224.4L638.8,228.4L629.6,236.9L629.3,238.3L627.9,238.6L619.4,232.9L620.1,224.8L617.6,222.4L616.8,222.5L609.3,217.7L597.8,223.5L598.1,224.5L608.6,228.2L616.8,222.5M674.7,149.2L676,162.7M648.9,161.8L649.8,166.2L650.5,166.7M710.4,173.7L683.2,172M686.3,184.1L682.1,174.7M673.7,178.6L669.4,191.2L670.5,192.9M654.4,171.4L658.6,189.3L669.4,191.2M671,220.9L660.8,215.6L661.2,207.9L670.1,203.4M649.8,166.2L642.9,172.9M580.4,271.4L584,277.9M580.4,271.4L583.1,268.1L591.9,269.2L592.1,278.3M583.1,268.1L582.8,261.8L587.1,259.4L592.8,260L592.6,268.6L591.9,269.2M593.7,250.3L595,251.8L596.4,257.4L592.8,260M593.7,250.3L588.5,249.2L585.9,251L587.1,259.4M578.5,259L582.8,261.8M578.5,259L578.6,250.9L585.9,251M601.7,285.5L609.8,284.7M601.7,285.5L605.8,276L606.9,275.7L608.4,276.9M593.2,279.4L601.5,274.8L598.7,268.9L592.6,268.6M550.8,331.5L551,325.8L550,325M542.3,331.6L543.9,332.1M542.3,331.6L542.7,326.9M550.9,331.6L558,330L558.6,330.4L558.4,336M551,325.8L556.3,324.1L558,330M543.7,310.7L544.6,317.9M543.7,310.7L543.8,310.6M559.7,302.9L552.9,301.5M559.7,302.9L560,308.9L553.1,311.4M556.3,324.1L556.7,323.4L557.1,319.7L554.1,317.5M524.5,309.8L527.3,311.9L531.9,310.1L532.6,304.6L526.9,301.6L524.2,303.3L524.5,309.8L516.6,310.4L516.2,303.3L519.1,301L524.2,303.3M582.8,280.1L580.3,282.4L582.5,290.1L583.7,290.4L584.1,290.3M557.5,266.7L563.9,269.7L562.1,274.9L556.3,275.5M565.5,281.8L557.3,283.3M565.5,281.8L566.3,280.5L566.3,279.8L562.1,274.9M576,271.6L574.5,272.5L572.2,272.6L566.7,268.5L567.5,262.3L569.8,260.4L573.3,261.1L576,271.6L580.4,271.4M580.3,282.4L575.6,282.4L574.5,272.5M578.5,259L573.3,261.1M575,282.9L566.3,280.5M575,282.9L575.6,282.4M566.3,279.8L572.2,272.6M563.9,269.7L566.7,268.5M556.7,264.6L560.4,260.7L567.5,262.3M513.1,257.8L514.9,265.3L512.8,267.1L503.5,265.1L505,258.7M513.1,257.8L506.5,257.4M519.4,277.3L512.6,271.8L509.1,274.7L508.7,277.9L515.8,281.6L519.4,277.3L521.8,276.6L524,274.3M519.5,265.5L514.9,265.3M512.8,267.1L512.6,271.8M481,269.5L483.2,270.8L487.7,269.3L488.6,268.6L488.9,264.4M503.5,265.1L501.1,266.8L493.3,261M448.4,276.7L449.2,283.8L455.7,284.1L455.8,277.2M550.7,255.6L559.4,254.5L560.6,252.7L558.9,246.9L555.4,245.1L550.4,246.4L550.7,255.6L550.5,255.8M560.4,260.7L559.4,254.5M541.4,254.7L541.2,247L546.7,244.6L550.4,246.4M556.5,235.9L562.4,236.3L564.2,243.4L558.9,246.9M556.5,235.9L555.4,245.1M568.1,253L560.6,252.7M568.1,253L569.8,260.4M566.9,289.9L558,291.4L557.8,291.9L561.5,300.7L567.8,299.6L569,298.4L569.7,292L566.9,289.9L565.5,281.8M555.9,285L558,291.4M573.3,290.4L569.7,292M573.3,290.4L575,282.9M559.7,302.9L561.5,300.7M550.9,295.4L557.8,291.9M539.5,275.3L543.1,284.6L538.2,286.8L532.3,284.9L532.7,276.4M543.1,284.6L546.4,285.3M521.8,276.6L525.6,285L532.3,285L532.3,284.9M199.4,317L198.6,317.6L189.7,315M197.6,326.6L196.8,325.5L198.6,317.6M193,147.7L196.4,137.5M193,147.7L205.3,152L207,150.6L207.2,138.4M221.1,141.3L217.7,151.6L207,150.6M193,147.7L186.3,151.6M231.2,246.5L231.7,247.1L239.1,247.9L240.1,240.3L232.6,239L231.2,246.5L220.8,245.2L220.3,252.4L226.8,256.6L227,262.8L236.9,263.4L237.4,256.1L230.2,254.5L226.8,256.6M234.2,271.5L235.7,271.8L234.6,279.3L233.1,280.5L225.6,274.9L234.2,271.5L225.6,265L227,262.8M219.4,383.6L220.8,385.6L217.2,394.5L208.4,392.8L208.2,384.9L209.4,383.6L219.4,383.6L220.1,378.2L218.5,375L220,368.2L219.4,367.5L209.2,366.3L204.5,369.9L204.4,369.9L208.8,375.2L218.5,375M186.7,411.8L194.7,412.5L195.2,413M184.1,419.4L193.8,422.7M215.3,414.2L212.4,423.9L204.5,421.8M215.3,414.2L205.4,412.5L204.3,413.5M210.7,433.8L212.8,424.6L212.4,423.9M241.2,232.2L241.3,232.4L249,233.3L250.4,223.9M241.2,232.2L241.4,230.5L246.8,222.3L247.3,222.2M258.2,213.6L258.8,213.1M271.7,236.3L272.9,226.3L268.7,224L268.6,224L262.7,233.8L263.9,235.1L271.7,236.3L271.9,236.5L279.9,236.9L281.6,235.6L278.8,226.1L272.9,226.3M255.8,223.4L258.7,233.2L262.7,233.8M258,221.5L268.6,224M270.3,215.2L268.7,224M270.3,215.2L269.3,213.8M240.6,137.3L258.8,125.1L253.3,111.3M240.4,139L253,148.8L257.6,147L260.3,126.2L258.8,125.1M184.7,461.3L193.8,461.7L196.1,455.4L194.1,451.9L187.1,451.9M193.8,461.7L195.2,464.2L191.5,472.1M447.7,260L457,259.3L455.7,251.4L448.3,251.5L447.7,260L447.6,260.2L448.1,267.4M439.3,251.7L447.6,250.7L448.3,251.5M447.6,260.2L439.3,259.3M456.3,250.7L455.7,251.4M447.6,250.7L447.5,242.9L447.7,242.7M438.2,276.1L433.3,276.7L429.1,275.7L429.6,268.2L430,267.8L438.2,268.2L438.6,268.6L438.2,276.1L440.1,278.1L447.5,276M446.9,268.6L438.6,268.6M439,259.6L438.2,268.2M430.5,259.2L430.4,259.3L430,267.8M430.4,259.3L421.8,259.3L421.2,260M421.5,266.9L429.6,268.2M421.2,276.1L427.7,276.8L429.1,275.7M399.7,338.5L393.3,338.6L392.9,338.2L393.4,332.3L393.9,331.8L399.7,332.3L399.7,338.5L400.3,339.1L399.1,345.1L393.2,344.8L393.1,344.7L393.3,338.6M434.7,314.2L434.2,313.7L427.1,313.5L427,320.2L427.4,320.6L434.1,321L434.9,320.3L434.7,314.2L441.5,312.8L441.3,306.1L441.5,306L448.5,306L448.4,313.4L442.3,313.6L441.5,312.8M434.1,321L433.9,327.2L426.8,328.1L427.4,320.6M419.9,327L426.7,328.2L426.8,328.1M419.9,327L420.6,320.7L427,320.2M328.4,369.3L329.9,372.6L329.3,380.1L329.1,380.2L320.3,376.6L321.5,370.6L328.4,369.3L329.6,366.7L337.6,366.8L337.7,366.9L337.5,372.6L329.9,372.6M209.4,383.6L208.8,375.2M198.2,382.8L198.4,383.2L208.2,384.9M200.7,372.9L204.4,369.9M220,358.4L211.4,356.9L209.2,366.3M220,358.4L219.4,367.5M200.2,364L204.5,369.9M211.4,356.9L211.2,356.6M220,358.4L220.7,357.9L221.8,349.5L213,347.6M230,359.4L230,359.3L220.7,357.9M230,359.4L228.3,368.5L220,368.2M223.3,339.9L223.5,340.1L223.3,348.3L221.8,349.5M414.1,155.6L410.1,158.8L406.6,155L394,155L389.8,146.5L405.9,104.4M410.1,158.8L409.9,163.7L393.8,163.6L394,155M423,207L422.4,198.9L422.4,198.8L430.7,198.7L431.1,199L430.4,207.5L423,207L421.7,208.2L413.7,207.3M413.5,207L414.1,198.9L414.2,198.8L422.4,198.9M438.8,198.7L431.1,199M439.1,207.6L438.5,208.2L430.8,207.9L430.4,207.5M404.8,207.6L404.5,207.3L404.9,198.6L414.1,198.9M388.6,206.6L393,203.2L396.9,207L395.5,215.8L388.8,215.2L388.6,206.6L380.9,206.2L380.7,205.9L382,197L381,196L373.4,197.5L378.5,205.5L380.7,205.9M395.5,215.8L395.7,215.9L404.9,215.8M396.9,207L404.5,207.3M409.9,185.8L409.7,185.8L401.6,176.7L411.8,167.1L416.5,169.3L420,176L409.9,185.8L413.7,189.9L422.7,190.1L422.4,177.1L420,176M422.1,164.2L416.5,169.3M409.9,163.7L411.8,167.1M438.2,250.6L439,242.8L439.2,242.6L447.5,242.9M421.1,234.1L421.2,241.5M422.3,232.9L430.6,233.7L430.8,233.9L430.3,241.7L429.7,242.3M430.3,241.7L439,242.8M421.8,259.3L421.8,251.2M413,242.6L412.4,242L412.7,233.4M413,242.6L420.8,241.9M412.7,251.1L413,242.6M412.7,251.1L421.6,251M412.2,259L412.6,251.2L412.7,251.1M413.4,216.1L421.3,216.5L421.7,224.8L421.5,225M421.7,208.2L422.1,215.7L421.3,216.5M430.8,207.9L429.8,216L422.1,215.7M438.5,208.2L439.1,216.6L430.7,217L429.8,216M448,216.1L439.2,216.6L439.1,216.6M421.7,224.8L429.9,224.1L430.7,217M430.6,233.7L431.1,225.4L429.9,224.1M447.6,225.6L439.4,224.8L439.3,224.9L439,233.8L439.2,234L447.5,233.9L447.6,225.6L448.2,225M439.2,216.6L439.4,224.8M456.3,233.9L456.5,233.7L456.4,225.4M447.8,234.1L447.5,233.9M439.2,242.6L439.2,234M431.1,225.4L439.3,224.9M430.8,233.9L439,233.8M414.2,198.8L413.7,189.9M422.4,198.8L422.9,190.3L422.7,190.1M430.7,198.7L430.3,190L422.9,190.3M422.4,177.1L426.7,177.1L430.2,173.9M457,224.8L479.7,225.5M456.5,233.7L479.6,234.3M533.6,256.2L531.6,253.8L522.8,256.1L523.8,261.5M539.2,246.1L541.2,247M539.2,246.1L531.7,248.3L531.6,253.8M511.3,247.5L515.6,254.7L521.1,254.2L522.4,248.6L520.2,245.7L511.3,247.4M513.1,257.8L515.6,254.7M522.8,256.1L521.1,254.2M529.5,246.5L522.4,248.6M529.5,246.5L531.7,248.3M520.3,228.9L520.4,238.8L520.4,238.9L528.7,238L529.6,237.1L527.4,228.3M512.2,238L520.4,238.8M520.2,245.7L520.4,238.9M529.5,246.5L528.7,238M536,236.8L539.2,246.1M536,236.8L529.6,237.1M412.2,277.4L408,283.9L402.3,279.7L403.9,276.3L412.1,277.2M411.9,267.9L403.9,268.1L403,274.4L403.9,276.3M339.2,336.8L332.5,334.8L333,328.2L340,327.4L341,328.7L339.2,336.8L339.2,336.9L348,336.5L348.1,330.3L341,328.7M228.3,368.5L228.7,368.8L229.6,375.9L220.1,378.2M262.5,379.4L261.7,372.3L256.2,370.7L254.8,371.8L253.5,378.8L254.9,380.7L262.5,379.4L264.2,381L265.2,381.7L269.9,380.2L271.7,373.5L279,373.3L280,374.4L279.5,382L276.6,384.1L274.9,384.2L269.9,380.2M357.1,177.5L353.9,186L349.9,189.2L345.5,183.7L347.6,174.4L349.1,172.8L352.4,172.9L357.1,177.5L363.6,177.8L363.4,187.6L363.7,188L371.7,188.2L372.4,180.3L368.2,175.5L367.6,175.5L363.6,177.8M331.7,175.9L347.6,174.4M330.9,177.3L336.8,183.3L345.5,183.7M343.8,164.2L349.1,172.8M343.8,164.2L340.1,163.5M313.5,217.4L315.3,219.2L324.4,219.5L324.9,211.3L324.3,210.4L315.5,209.4L313.2,212L313.5,217.4L308.5,219.2L307.8,228.5L300,226.4L301,218.5L301.3,218.2L308.5,219.2M310.9,186L314.8,184.4L317.7,200.6L315.3,202.7L307,200.2L306.6,199.7L310.9,186L304.4,185.3L297.6,190.7M302.4,199.7L306.6,199.7M319.6,182.2L327.2,193.1L325,200.9L317.7,200.6M317.6,182L314.8,184.4M306.1,209.5L307,200.2M306.1,209.5L302.6,211.1L298.3,207.9M306.1,209.5L313.2,212M315.5,209.4L315.3,202.7M324.3,210.4L326,202.5L325,200.9M233.2,178.8L235.9,188.2L241.5,189.3L243.7,179.1L233.2,178.8L233.1,178.8L234.5,168.3L234.8,168.2L241.1,159.4L246.8,159.3L245.6,170.7L255.5,171.3L257.1,162.2L251.8,155.7L246.8,159.3M260.1,202.7L260.9,193.7L251.6,192.1L249.3,200.7L250.4,202M249.3,200.7L240.2,199.6L241.6,189.4L250.8,190.6L251.6,192.1M234.8,168.2L244.8,171.5L245.6,170.7M232.7,153.1L241.1,159.4M232.7,153.1L235.7,142.6M253,148.8L251.8,155.7M299.9,180.4L293.1,179.6L290.5,176.5L298.7,167.7L301.4,171.6L299.9,180.4L304.4,185.3M289.9,189.2L293.1,179.6M314.8,174.6L301.4,171.6M310.8,152.7L307.7,149.4M298.5,165.9L298.7,167.7M282.2,185.1L274.7,183.1L275.1,174.7L281.5,169.5L285.7,175.1L282.2,185.1L285.7,191M290.5,176.5L285.7,175.1M281.6,164.8L281.5,169.5M276.9,160.2L271.9,159.8L263.4,147.2L276.3,137.7L278.5,138.9L276.9,160.2L280.5,162.3M265.9,173.6L275.1,174.7M265.9,173.6L267,163.3L271.9,159.8M301,142L278.5,138.9M257.6,147L263.4,147.2M267,163.3L257.1,162.2M272.6,128.5L260.3,126.2M272.6,128.5L276.3,137.7M301.2,126.7L298.9,124.9L275.2,124.5L272.6,128.5M380.4,189.5L371.7,188.3L370.9,197.4L373.4,197.5M380.4,189.5L380.5,189.7L381,196M361.4,157.6L356.5,162L347.7,160.8L348.8,152.5L357,153.2L361.4,157.6L364.9,157.8L364.3,169.1L355.3,168.8L356.5,162M343.8,164.2L347.7,160.8M355.3,168.8L352.4,172.9M357.5,144.5L357.1,144L347.6,142.8L343.3,146.5L348.8,152.5M357.5,144.5L357,153.2M329.4,155.5L333,140.5L329.9,136.6L323.8,134.9M340.3,151.7L343,146.5L333,140.5M343,146.5L343.3,146.5M369.7,145.3L357.5,144.5M369.7,145.3L371.5,106.2M357.1,144L364.9,111.8M347.6,142.8L352.7,121M329.9,136.6L350.4,121.8M309.8,555.4L316.7,555.9M309.8,555.4L308.9,556.7L298.6,558.4L298.2,561M293.1,547.6L293,555L298.4,558L301.4,547.5L297.7,544.8L293.1,547.6L285.6,547.3L283.9,548.6L277.7,542.4L280.8,537.4L286.7,536.1L287.2,536.7L285.6,547.3M316.2,447.2L314.6,439.5L307.7,440.8L307.2,447.3L316.2,447.3L316.2,447.2L322.5,448M264.2,469.1L271,470.8L273,466.1L265.9,459.7L263.5,462.3L264.2,469.1L260.3,471.6L256,468.3L256.1,462.8L246.1,460.6L249.3,451.7L257.4,452.5L256.5,462.4L256.1,462.8M266.5,456.4L265.9,459.7M266.5,456.4L274.6,454.9L274.5,465.1L273,466.1M302,510L294.4,510.9L292.8,518.4L301.8,518.5L303,511.3L302,510L302.1,502.9L309.4,502.5L311.1,495.9L310.2,494.5L302.9,494.2L302,502.8L302.1,502.9M309.8,555.4L307.8,549.1L317.3,546L320.4,548L320.5,553.6M301.4,547.5L305.9,547.6L307.8,549.1M298.6,558.4L298.4,558M286.4,475.7L294,475.6L295.4,478.6L295.2,482.9L287.2,485.5L282.6,483.1L286.4,475.7L283.3,471.1L283.5,465.2L288.2,465L293.2,461.7L290.3,456.3L283.8,455.5L282.8,456.4L283.4,465.1L283.5,465.2M395.2,496.6L386.2,496.4L387.3,503.3L395.9,506.5L396.9,505.5L395.2,496.6L396.8,494.9L402.7,494.3L405,491.4L405.1,490.2L404,487.5L394.1,486L393.9,486.2L396.8,494.9M322,465.6L321.2,472.4L329.6,473.4L329.2,464.8M322,465.6L323.7,464.2M330.5,455.6L330.2,456M338.2,456L338.5,456.4L337.8,464.2L337.2,464.6L330.8,463.9M294,475.6L295.2,472.7L297.9,470.3L304,471L305.2,472.2L305.2,478.4L295.4,478.6M339.7,441.9L339.8,448.2L346.9,448.8L347.2,440.1L339.7,441.9L338.3,440.4L331.4,441.4L330.5,447.3M338.7,449.1L339.8,448.2M347.7,439.6L353,440.9L353,448L348.3,450.1L346.9,448.8M347.7,439.6L347.2,440.1M338.5,456.4L348.6,456.7L348.3,450.1M349.2,463.7L350.1,459L348.6,456.7M349.2,463.7L346.2,466.5L337.8,464.2M353,440.9L359.4,438.1L360.3,438.8L358.2,449.3L353,448M367.7,440.4L360.3,438.8M367.7,440.4L367.9,446.5L360,451.6L358.2,449.3M338.3,440.4L338.9,432.8L338.5,432.3L338.2,432.2L330.8,434.6L330.3,439.7L331.4,441.4M347.7,439.6L347,435L338.9,432.8M358.8,436L348.8,432.9L347,435M358.8,436L359.4,438.1M359.2,432.9L358.8,436M359.2,432.9L355.5,427.5L349.5,428.8L348.8,432.9M370.2,457.6L367.9,458.4M370.2,457.6L371.2,449.9L367.9,446.5M360,451.6L360.1,454.5M370.2,457.6L375.8,460M359.2,469.2L361.1,467.5M359.2,469.2L349.2,463.7M350.1,459L357.5,457.1M404.3,516.8L402.2,514.9L405.4,507.6L409.6,513.5L404.3,516.8L405,520L410.6,518.6L413.4,521.9L411.5,525L409.1,526.3L404.5,521.8L405,520M411.5,513.8L413.5,507L418.7,508.2L419,512.5L416.7,515.4L411.7,514.1L411.5,513.8L409.6,513.5M396,461.5L387.1,457.3L383.3,460M396,461.5L396.7,463.3L395.6,467.2L385.5,466.8M385.9,477L394.6,475.1L396.5,469.8L395.6,467.2M385.9,477L383.7,469.7M404,454.5L404.2,461.7L396.7,463.3M404,454.5L400.7,451.9L398.3,451.2L396,461.5M404,454.5L408.4,454.4L408.2,447.9L400.7,451.9M377.9,440.5L368.3,440L368.3,439.8L371.9,429.1L376.7,430.2L379.4,432.6L377.9,440.5L378.9,441.8L386.6,440.6L387,432.8L383.9,431.7L379.4,432.6M367.7,440.4L368.3,440M359.2,432.9L364.1,429.1L368.3,439.8M378.4,396.8L379.8,402.1L385.5,401.1L386,395L378.4,396.8L377.1,396.2L372,398.2L371,397L371.4,391.2L375.9,389.3L377.2,390L377.1,396.2M365.9,395.7L371,397M365.9,395.7L368.2,388.8L371.4,391.2M411.1,434.1L410.7,432.7L412.2,429.4L419.6,431.9L417.7,436L414.7,436.7L411.1,434.1L409,436.5L407.6,442.1L413.6,442L414.7,436.7M405.3,424.5L404.4,431.4L410.7,432.7M412.2,426.6L412.2,429.4M421.8,430.1L419.6,431.9M397.4,416.9L395.6,414.2L395.8,410.8L398.7,407.8L402.8,410.6M394.4,401L399,403.1L399.7,404.1L398.7,407.8M394.4,401L392,403L391.7,408.1L395.8,410.8M386.2,402.5L385.3,407.4L387.3,409.1L391.7,408.1M386.2,402.5L392,403M529.1,446.2L530.1,445.7L531.8,441.2L528.8,437.6L523.3,441.2M529.1,446.2L524.2,445M554.4,445L547,444.2L546,445.3L550.7,454.3M503,449.4L499,447.2L502.2,438.7L511.6,442.4M503,449.4L511.4,443.4L511.7,442.8M456.5,439.8L457.5,449.5L466.3,445.5L465,440L457.2,439.2L456.5,439.8L450.2,441.3L448.6,444.1L449.3,446.6L457.1,450L457.5,449.5M568,362.5L566.7,368.5L572.3,369.3L574,364.1L568,362.5L566.9,360.8L562,361.6L559.5,355.6L555.8,355.8L555.9,361.6L558.2,364.5L559.3,364.7L562,361.6M543.1,432.3L535.7,430.2L534.2,432.4L536.9,439.2L537.3,439.4L542.7,436.7L543.1,432.3L544.8,430.7L543.8,425L538.6,422.3L535.1,424.5L533.6,424L528.4,424.1L527.7,433.1L528.6,433.7L528.8,437.6M531.8,441.2L536.9,439.2M534.2,432.4L528.6,433.7M554.4,445L556.1,437.9L560.5,438.1L564.9,435.2L569,437.5L569.9,442.8M579.8,404.3L578.8,406.7L572.2,405.3L574.5,398.5L574.8,398.4L578.5,399.5L579.8,404.3L588,404.1M546.7,440.1L547,444.2M546.7,440.1L551.6,435.9L554.9,436.4L556.1,437.9M487.8,418.4L488.5,417.4L492.8,415.4L496.1,416.8L493.5,424L489.8,424.4L488,422.5L487.8,418.4L479.6,416.8L480.3,411.2L481.9,409.6L485.4,410.2L488.5,417.4M481,425.7L485.2,432.8L489.5,431.7L489.8,424.4M481,425.7L488,422.5M496.9,425.5L493.5,424M496.9,425.5L500.8,422.5L499.4,416.9L496.1,416.8M497.5,431.9L496.9,425.5M490.3,432.1L489.5,431.7M432,410.8L430.4,411.2M437.2,412.4L437.2,417.7L429.8,417.9M424,422.3L426.7,418.7M417.3,417.2L423.2,415.7M431.8,424.4L429.5,418.2M437.2,417.7L437.5,418.1L436,424M415.9,416.4L416.6,411.6L419.5,408.9L424.9,409.3M445.2,433L439.9,435.3L441.5,443.8L448.6,444.1M445.2,433L450.2,441.3M439.9,435.3L437,434.8L434,444.4L434.2,444.8L440.7,444.8L441.5,443.8M465,440L466,438.5L466,431.1L464.6,427.7L461.3,427.9L456,432.7L457.2,439.2M441,409.9L443.7,411.6L443.5,419.1L437.5,418.1M437.4,425.1L442,425.1L443.9,419.5L443.5,419.1M445.2,433L446.3,431.3L442,425.1M436.7,434.6L437,434.8M456,432.7L448.7,430.1L446.3,431.3M466,431.1L475.7,433.1L475.9,433.6L474,437.9L466,438.5M541.5,353.4L543,353L545.3,345.7L545.1,345.3M541.5,353.4L537.5,348.8L537.6,348.1L544.4,344.9M547.4,353.6L548.1,350.1L552.5,349.1L554.2,350.4L554.2,355L549.4,356.7L547.4,353.6L543,353M545.3,345.7L548.1,350.1M551.6,343.1L552.5,349.1M558.3,347.9L559,344.2M558.3,347.9L554.2,350.4M532.2,345.1L535.9,345.8L537.6,348.1M532.2,345.1L528.5,348.9L529.7,351L534.6,351.7L537.5,348.8M509.7,312.2L507.3,306.1L500.1,304.2L501.1,313.8L509.4,312.5L509.7,312.2L516.3,310.8L516.6,310.4M510.9,301.7L516.2,303.3M510.9,301.7L507.3,306.1M574,364.1L576.1,363.1L576.9,363.4L579.1,369.5L572.7,370.1L572.3,369.3M576.3,374.5L579.8,370.1L579.1,369.5M576.3,374.5L572.8,373.4L572.7,370.1M576.9,363.4L581.7,362.5L582.6,362.9L583.8,367.4M579.8,370.1L582.1,370.5M588.3,335.5L592.1,334.9L591.9,328.3L587.3,328.4M592.1,334.9L594,336.2M593.3,352.1L587.4,352.1L586,348.6L587.6,343.7M583.4,319.6L583.5,318.1L586.8,314.8L592.7,317L592.8,322.2L585.8,322.1M581.1,332.1L578.5,340.6L579.7,341.7L583.7,341.9M660.2,265.7L658.4,267.4L659.4,274.1M660.2,265.7L667.7,266.4M626.2,283L627.3,277.5L631.7,277.6L633.8,279.4L638.3,276.3L641.1,277.3L643.6,274.9L646.8,276.7M626.9,277.2L627.3,277.5M626.9,277.2L617.6,279.2L617.6,279.2L618.3,271L609.1,270.7L608.2,266.9L610.7,263.8L615.2,263.4L617.7,266.1L619.3,270L618.3,271M667.8,266.3L666.8,259.4L662.1,256.9M651.4,268.4L653.2,274.9M651.4,268.4L648.8,268.7L647.5,270.1L648.8,274.7M658.4,267.4L653.5,266.7L651.4,268.4M613.4,237L619.4,232.9M613.4,237L610.3,234.8L608.6,228.2M617.8,221.7L622.9,214.8L630.1,216L631.6,223.1M617.8,221.7L617.6,222.4M627.1,226.1L620.1,224.8M609.3,217.7L608.3,210.3L605.6,209.4L595.3,219.6L597.8,223.5M606.9,275.7L609.1,270.7M626.9,277.2L624.5,269.5L619.3,270M568.1,253L570.3,250.3L578.2,250.5L578.6,250.9M564.2,243.4L568.5,244.5L570.3,250.3M601.2,265.8L607.6,266.6L603,257.1L598.9,258.2L601.2,265.8L598.7,268.9M605.8,276L601.5,274.8M608.2,266.9L607.6,266.6M596.4,257.4L598.9,258.2M556.5,235.9L555.1,234.6L546.7,235.8L546.7,244.6M537.3,235.6L545.7,234.9L545.5,227.2M537.3,235.6L536.7,227.9M536,236.8L537.3,235.6M546.7,235.8L545.7,234.9M561.7,329.7L563,325.3L565.5,324L566.9,325.1L567.5,330.4L564.6,331.6L561.7,329.7L558.6,330.4M556.7,323.4L563,325.3M561.4,338.2L563.6,336.7L564.6,331.6M560,308.9L561.8,310.5L561.7,317.4L557.1,319.7M565.5,324L565.3,319.5L561.7,317.4M535.4,317.6L527.6,319.2L527.7,319.7L535.3,324L538,322.3L535.4,317.6L536.4,312.1L531.9,310.1M527.3,311.9L526.4,317.6L527.6,319.2M543.7,310.7L536.4,312.1M540.5,322.5L538,322.3M534.3,326.2L530.9,327.4L526.9,324.4L527.7,319.7M534.3,326.2L535.3,324M573.3,290.4L577.9,291.7L581.3,290.6L582.5,290.1M515.8,281.6L515.6,282.8L521.8,289.2L525.6,285M532.3,285L529.8,294.7L528.2,295.1L521.5,292.5L521.8,289.2M526.9,301.6L528.2,295.1M519.1,301L519.4,294L521.5,292.5M476.3,270.6L477,277L482.9,276.9L483.2,270.8M476.3,270.6L477.5,269.5M487.7,269.3L487.9,276.7L483.9,277.9L482.9,276.9M492.2,271L501,267.5L501.5,270.5L499.3,277.1L497.4,278.4L493.5,278.1L493.3,277.9L492.2,271L488.6,268.6M501.1,266.8L501,267.5M487.9,276.7L493.3,277.9M506.1,286.8L506.2,280L499.3,277.1M506.1,286.8L499.3,285.8L497.4,278.4M506.2,280L508.7,277.9M509.1,274.7L501.5,270.5M469.5,291L463.8,291.6L463.5,291.3L462.2,284.2L462.4,284.1L470,284.7L469.5,291L470.3,291.6L476.7,290.7L477.1,284.7L470.3,284.4L470,284.7M463.7,305.5L470,305.1L470.2,298.6L462.9,298.4L462.5,298.9L463.7,305.5L463.4,305.8L455.4,306.6L456,313.1L463,313.7L463.9,312.9L463.4,305.8M471.1,297.8L470.3,291.6M471.1,297.8L470.2,298.6M463.8,291.6L462.9,298.4M440,282.3L440.1,278.1M440,282.3L442.3,284.8L448.5,284.5L449.2,283.8M544.6,294.7L538.2,293.5L535.2,296.8L536.5,300.7L542,303.2L544.6,294.7L547.4,293.1M538.2,286.8L538.2,293.5M542.5,303.9L542,303.2M532.6,304.6L536.5,300.7M529.8,294.7L535.2,296.8M196.8,325.5L188.2,324.9M198.3,251.7L190.3,249.6M198.3,251.7L200.8,242.2L197.1,235.6L191.4,239.8M187.8,259.7L196.8,260.8L198.5,252.1L198.3,251.7M208.4,252.7L209.4,244.5L200.8,242.2M208.4,252.7L207.5,253.3L198.5,252.1M192.8,288.6L194.5,279.7L203.8,281.2L203.9,281.2L202.2,289.8L192.8,288.6L192.5,288.8M185.3,277.5L193.7,278.6L194.5,279.7M202.9,291L202.2,289.8M211.3,292.3L212.1,291.7L220.7,293.5L220,301.7M241.6,189.4L241.5,189.3M240.2,199.6L240.2,199.7L228,196.1L227.7,193.4L235.9,188.2M244,178.8L243.7,179.1M244,178.8L244.8,171.5M227.7,193.4L225.1,190.2L227.6,179.8L233.1,178.8M188.1,173.4L204.8,173.6L206.2,176.1L202.8,186.4L191,183M215.3,188.5L215.4,188.4L215.8,178.4L206.2,176.1M215.3,188.5L203,186.8L202.8,186.4M215.4,188.4L225.1,190.2M227.6,179.8L227.1,179.4L217.3,177.2L215.8,178.4M228.9,165.4L225.7,166.9L218.9,167.1L216.2,164.5L219,153.6L229.6,155.5L228.9,165.4L234.5,168.3M227.1,179.4L225.7,166.9M232.7,153.1L229.6,155.5M217.3,177.2L218.9,167.1M217.7,151.6L219,153.6M204,160.6L207.4,164.8L216.2,164.5M204,160.6L205.3,152M207.4,164.8L204.8,173.6M204,160.6L190,163.1M239.3,248.2L238.1,255.6L245.7,256.9L245.9,256.8L246.6,249.1L239.3,248.2L239.1,247.9M237,263.5L236.9,263.4M237,263.5L244.3,264.2L245.7,256.9M238.1,255.6L237.4,256.1M237,263.5L236.1,271.5L235.7,271.8M231.7,247.1L230.2,254.5M246.6,249.1L246.7,249L254.6,250.1L253.6,257.5L253.2,257.9L245.9,256.8M187,400.9L195.8,401.6L196.2,401.4L198.2,393.7L197,391.9L188.4,390.8M194.7,412.5L195.8,401.6M198.4,383.2L197,391.9M205.8,404.7L196.2,401.4M205.8,404.7L205.4,412.5M205.8,404.7L207.2,403.4L207.8,393.3L198.2,393.7M208.4,392.8L207.8,393.3M207.2,403.4L216.4,403.9L218.5,396.7L217.2,394.5M247.8,241.4L255.3,242.2L256.6,234.8L249,233.3L247.6,241.1L247.8,241.4L246.7,249M240.1,240.3L240.5,240L247.6,241.1M240.5,240L241.3,232.4M249,233.3L249,233.3M258.7,233.2L256.6,234.8M278,111.3L275.2,124.5M195.2,464.2L203,466.6L202,473.8L191.9,472.7L192.7,482.4L193,482.8L199.7,483.2L199.3,492.4L208.1,494.1L209.7,486.5L199.7,483.1L199.7,483.2M338.2,432.2L335.3,427.1L328.8,426.8L326.6,428.5L325.9,430.4L330.8,434.6M315.6,438.4L322.6,440.5L323.3,439.8L323.7,431.5L315.8,431.1L315.8,431.2L315.6,438.4L314.6,439.5M322.5,447.9L322.6,440.5M330.3,439.7L323.3,439.8M325.9,430.4L323.7,431.5M440,282.3L434.6,285.1L435.5,291.4L440.4,291.8L441.6,290.8L442.3,284.8M433.3,276.7L433.5,284.6L434.6,285.1M468.6,369.1L470.5,370.3L469.7,379.1L463.8,378.6L463.1,372.3L468.6,369.1L468.2,365.6L471.2,363.3L476.4,364.6L476.2,370.7L470.5,370.3M497.1,335.8L493.6,337.6L491.5,336.7L492,331.6L495,329.5L497.1,330.8L497.1,335.8L501.9,336.4L501.9,341.9L504.5,344.1L507.3,343.9L507.4,337L504,334L501.9,336.4M373.2,351.2L369,351.1L366.9,345L367.9,344.4L372.9,344.8L373.2,351.2L373.2,351.2L373,357.2L372.3,358L365.6,356.5L363.8,354.3L369,351.1M373,357.2L379.4,357.8L379.1,364.2L373.6,364.4L372.1,362.8L372.3,358M401.7,292.7L407.1,293.6L408.1,292.6L408.2,286.8L407.8,286.3L401.7,286.8L401.7,292.7L401.3,293.1L401.4,299.7L400.5,300.5L400.9,305.9L406.8,305.9L407.7,307L413.9,305.9L414.1,305.7L413.6,299.9L407.8,299.4L407.5,299.7L406.8,305.9M416.9,279.7L417.1,280.5L413.8,287L408.2,286.8M408,283.9L407.8,286.3M393.9,325.2L400.5,325.4L400.3,331.8L399.7,332.3M393.9,325.2L393.9,331.8M341,313.6L341,313.5L347.7,314.3L348.3,321.2L341,322.2L340.3,321.1L341,313.6L334.7,312.6L332.6,319.8L332,320.2L326.8,318.8L326,311.9L334.7,312.6L334.7,312.6L334.3,304.6L341.3,304.5L342.4,305.4L341,313.5M348.1,330.3L349.5,329.1L348.9,321.6L348.3,321.2M341,322.2L340,327.4M388,318.1L393.6,318.8L393.9,319.1L393.7,324.9L387.7,325.3L387,318.9L388,318.1L388.1,312.1L393.9,311.8L394.4,312.3L393.6,318.8M400.8,319.7L407.6,318.9L406.9,313L400.6,312.6L400,318.8L400.8,319.7L400.7,325.2L400.5,325.4M393.9,325.2L393.7,324.9M393.9,319.1L400,318.8M400.6,312.6L400.3,312.3L394.4,312.3M329.3,380.1L335.2,381L335.4,380.9L338.9,375.3L337.5,372.6M329.1,380.2L326.5,385.9L326.8,386.6L334.8,389.8L335.6,388.6L335.2,381M332,394.1L332.3,394L334.5,391.6L334.8,389.8M332,394.1L326.9,393.7L326.8,386.6M304.9,424.1L303.4,430.2L304.7,432.7L315.8,431.2M304.9,424.1L309.4,423.7L315.5,428.4L315.8,431.1M307.7,440.8L304.1,436.8L304.7,432.7M426.4,352.5L429.1,354.7L425.8,360.7L422.6,361.5L421.6,360.8L421.9,354.9L426.4,352.5L425.9,348.4L420.8,347.5L418,348.7L419.6,353.6L414.5,356.7L411.3,353.2L415,347.8L418,348.7M426.4,404.2L419.3,400.5L417.3,402.4L419.5,408.9M441.3,327.8L449.1,327.3L448.6,321.2L442.1,320.3L441.1,321.2L441.3,327.8L441.2,327.9L435.2,328.6L433.9,327.2M434.9,320.3L441.1,321.2M442.3,313.6L442.1,320.3M448.7,321.2L448.9,313.8L448.4,313.4M448.7,321.2L448.6,321.2M448.1,340.8L449.6,342.4L448.9,347.3L442.3,349.4L441.8,341.7L441.9,341.6L448.1,340.8L448.9,335.4L448.1,334.3L449.2,327.4L455.6,328.2L456.1,334.8L455.8,335.3L448.9,335.4M456,342L449.6,342.4M456,342L456.1,349.2L451.5,349.6L448.9,347.3M435.2,328.6L434.3,334.7L427,333.5L426.7,328.2M442.3,334L441.2,327.9M442.3,334L441.5,334.9L434.5,334.9L434.3,334.7M419.8,327.1L419.5,334.5L420,335L426,334.6L427,333.5M419.8,327.1L419.9,327M452.4,389.1L453.1,392.7L447.2,392.4L444.9,390.8L447.7,386.6L452.4,389.1L455.6,383.9L448.4,383.6L447.5,385.4L442.4,384.1L439.3,385.8L440.5,390.2L443.6,391.1L444.9,390.8M447.5,385.4L447.7,386.6M443.6,391.1L443.8,396.9L447.1,397.3L447.2,392.4M448.7,398.6L454.2,394L457,394.9L457,395L453.1,404.2L448.9,403.3L448.7,403.1L448.7,398.6L447.1,397.3M453.1,392.7L454.2,394M440.8,403.9L448.7,403.1M440.8,403.9L441.3,398.6L443.8,396.9M454.4,405.4L453.1,404.2M454.4,405.4L454.6,409.3L449.4,412.3L447.6,411.3L448.9,403.3M440.8,403.9L440.6,404M443.7,411.6L447.6,411.3M460.3,387.9L457,394.9M460.3,387.9L456,383.6L455.6,383.9M464.2,386.8L463.8,378.6L456.6,380.3L456,383.6M464.2,386.8L463.9,387.2L460.3,387.9M463.1,372.3L462.1,371.7L459.1,371.3L456.2,379.8L456.6,380.3M463.8,378.6L463.8,378.6M364.9,157.8L367.4,156.9L371.7,150L369.7,145.3M389.8,146.5L381.7,150.3L371.7,150M393.8,189.6L405.7,189.4L404.7,198.3L393.1,197.6L393,197.4L393.8,189.6L392.8,187.4L380.5,189.7M382,197L393,197.4M393,203.2L393.1,197.6M404.9,198.6L404.7,198.3M409.7,185.8L405.7,189.4M378.5,205.5L370.3,205.9L366.3,200.9L370.9,197.4M324.9,211.3L335.4,211.1L333.5,219.8L324.6,219.7L324.4,219.5M426.7,177.1L431.1,182.3M430.3,190L430.5,189.9M412.6,251.2L403.9,250.1L404.2,241.8L412.4,242M388.8,215.2L387.4,216.2L379.6,213.6L380.9,206.2M402.1,279.8L395.6,279.6L395.3,286L401,286.2L402.1,279.8L402.3,279.7M394.1,273.7L403,274.4M394.1,273.7L392.8,276.2L395.6,279.6M401.7,286.8L401,286.2M353.8,352.3L362.7,353.4L362.1,345.5L355.4,344.9L355.2,345.1L353.8,352.3L353.4,352.6L353.5,359.9L354.3,360.7L358.1,361L363.3,354.2L362.7,353.4M366.9,345L362.6,345.1L362.1,345.5M363.3,354.2L363.8,354.3M330.5,336.2L331.1,344.1L330.8,344.3L324,343.6L322.4,341.6L321.6,338.7L324,335L330.5,336.2L332.5,334.8M340.3,321.1L332.6,319.8M333,328.2L331.9,327.2L332,320.2M319.2,311.9L325.5,311.3L326,311.9M319.2,311.9L319.2,311.9L318.3,318.7L324,320.9L326.8,318.8M212.8,424.6L222.3,425.9L224.7,429.2L221.4,434.6L212.4,435.4M289.8,367.9L288,374.9L288.4,375.5L295.7,377.4L296.6,376.6L295.9,368.4L289.8,367.9L288.5,366.1L290.3,360.3L296.2,359.7L297.5,367.2L295.9,368.4M249.2,354.8L241.3,353.3L241.2,353.4L238.9,360.8L240.1,362.9L247.9,362.7L248.3,362.5L249.2,354.8L249.8,354.4L256.5,356.2L256.8,363.1L255.8,364.2L256.2,370.7M230,359.4L238.9,360.8M228.7,368.8L238.9,368.4L240.1,362.9M255.8,364.2L248.3,362.5M254.8,371.8L247.9,371L247.9,362.7M298.9,124.9L288.2,110.7M326,202.5L334.7,203.8L335.5,211L335.4,211.1M336.4,193.1L335.7,193.7L336.2,201.9L344.2,202.4L346.1,193.5L336.4,193.1L336.8,183.3M327.2,193.1L335.7,193.7M349.8,190.9L349.9,189.2M349.8,190.9L346.1,193.5M334.7,203.8L336.2,201.9M324.6,219.7L324.4,229.1L332.1,230.8L335,221.5L333.5,219.8M324.4,229.1L324.4,229.1L314.2,229.4L315.3,219.2M270.8,203.3L272.6,196.5L262.6,192.1L260.9,193.7M270.8,203.3L269.7,204.2M283.5,194.5L274,195.3L272.1,184.9L274.7,183.1M283.5,194.5L284.7,193.5M253.4,182.2L253.4,182.2L256.7,173.1L265.1,174.2L265.2,184L263.5,185.3L253.4,182.2L244,178.8M250.8,190.6L253.4,182.2M255.5,171.3L256.7,173.1M262.6,192.1L263.5,185.3M265.9,173.6L265.1,174.2M272.1,184.9L265.2,184M272.6,196.5L274,195.3M349.8,190.9L353.7,194.7L361.7,195.5L363.7,188M353.9,186L363.4,187.6M371.7,188.3L371.7,188.2M361.7,195.5L366.3,200.9L366.3,200.9L362.2,204.4L353,203.6L353.7,194.7M380.4,189.5L380.9,180.4L372.4,180.3M364.3,169.1L367.6,175.5M265.1,454.7L258.2,452.2L259.9,444.8L261.4,443.3L268.6,444.5L265.1,454.7L266.5,456.4M268.7,444.4L268.6,444.5M268.7,444.4L274.6,445.9L274.9,454.6L274.6,454.9M297.9,470.3L297.5,462.3L297.2,462L293.2,461.7M295.2,472.7L288.2,465M274.9,454.6L282.8,456.4M274.5,465.1L283.4,465.1M285.6,447.6L283.8,455.5M285.6,447.6L291.4,447.4L295.4,451.2L290.3,456.3M274.6,445.9L276.8,444.5L285,446.8L285.6,447.6M263.5,462.3L256.5,462.4M258.2,452.2L257.4,452.5M317.6,497.1L311.1,495.9M317.6,497.1L320,494.8L318.8,488.4L312.3,487.9L310.2,494.5M303.7,527.4L306.3,535.8L297,540.4L295.9,539.1L298,528.9L303.7,527.4L305.5,525L305.7,523.8L301.8,518.5M292.8,518.4L291.4,519.5L285.5,517.9L285.3,508.2L293.2,509.4L294.4,510.9M298,528.9L292.6,526.6L291.4,519.5M285.2,508L277.3,508.6L276.3,516.1L284,518.5L285.5,517.9M285.2,508L285.3,508.2M285.2,508L286,501.5L294.9,502L293.2,509.4M302,502.8L295.3,501.8L294.9,502M190.5,538.3L192.6,541.7L189.4,549.6M220.4,544.4L219.1,543.1L220.7,535.1L221.7,534.2L232.3,535.4L229.6,544.9M220.7,535.1L210.9,532.1L210.6,532.3L210.9,543.2L219.1,543.1M217.6,486.3L219.1,487.7L228.3,487.6L229.2,486.6L227.9,478.7L221.1,477.6L217.6,486.3L211.3,485.5L211.2,476.3L220.4,476.7L221.1,477.6M317.3,546L314.9,538.6L309.5,538.4L305.9,547.6M305.5,525L313.4,528.9L308.3,537.1L306.3,535.8M297.7,544.8L297,540.4M308.3,537.1L309.5,538.4M311.9,487.4L312.6,479.9L312,479.3L305.4,478.7L304.3,485.8L311.9,487.4L312.3,487.9M318.8,488.4L320.1,487.2L320.8,480L320.3,479.4L312.6,479.9M302.8,494.1L303.7,486.2L304.3,485.8M302.8,494.1L302.9,494.2M303.7,486.2L296.5,484.7L295.2,482.9M305.2,478.4L305.4,478.7M305.2,472.2L312.8,471.3L312.9,471.5L312,479.3M320.3,479.4L320.8,472.9L312.9,471.5M367.4,468.4L369.3,475.8L374.6,476.6L376.9,470M385.8,477.1L385.9,477M385.8,477.1L377,480.1L374.6,476.6M386.2,488.9L376.4,483.3L377,480.1M386.2,488.9L388.4,486.8L385.8,477.1M359.2,469.2L357.8,475.9L351.8,476.7L347.7,474.3L346.3,471.7L346.2,466.5M333.7,548.6L342.3,538.4L344.6,541.6L355,540.3L353.6,548.4M399.6,555.2L401,550.7L408.9,550.4L411.1,558.3M418.4,551.2L412.3,547.9L408.9,550.4M320,494.8L326.4,496.4L328,488.4L320.1,487.2M320.4,548L324.1,545.5L323.5,537.1L316.3,537.2L316.4,529.4L317.8,528.3L324.7,528.8L325,529.1L325.4,535.4L323.5,537.1M333.8,528.6L332.5,537.9L325.4,535.4M333.8,528.6L343.1,532.7L341.7,537.2L333,538.5M342.3,538.4L341.7,537.2M347.8,414.8L346.5,408.6L349.7,406.6L354.1,408.9L354.3,412.4L348,414.9L347.8,414.8L342.1,415.4L338.7,413.4L341,407.3L338.8,405.3L332.7,406.5L328.9,403.2L330.8,401.8L336.7,399.7L337.6,399.9L338.8,405.3M349.6,402.1L345.5,401L341.6,407.2L346.5,408.6M349.6,402.1L349.7,406.6M326.4,403.2L328.9,403.2M326.4,403.2L328.5,412.6L332.9,412L332.7,406.5M326.4,403.2L325.4,402.8L326.1,394.5L326.9,393.7M332,394.1L330.8,401.8M332.3,394L336.7,399.7M338.3,399.3L337.6,399.9M338.3,399.3L344.5,399.4L345.5,401M341,407.3L341.6,407.2M334.5,391.6L339.5,394.5L338.3,399.3M328.8,426.8L330.1,420.3L334.9,419.2L336.8,422.2L335.3,427.1M328.5,412.6L327.4,413.6L329,419.5L330.1,420.3M332.9,412L336.5,414.3L334.9,419.2M338.7,413.4L336.5,414.3M348.3,427.2L343.9,425.8L342.5,422.7L342.8,422.1L348.9,419L350.6,420.5L348.3,427.2L349.5,428.8M338.5,432.3L343.9,425.8M348,414.9L348.9,419M342.1,415.4L342.8,422.1M336.8,422.2L342.5,422.7M356.1,420.7L356.6,414.5L361.4,413.3L364.6,416.4L360.1,422.4L357.4,422.4L356.1,420.7L350.6,420.5M354.3,412.4L356.6,414.5M355.5,427.5L357.4,422.4M354.1,408.9L356.9,406.2L362.4,409.8L361.4,413.3M386.2,402.5L385.5,401.1M385.3,407.4L379.7,408.6L378.8,403.5L379.8,402.1M434.2,444.8L433.3,449.5L434.4,450.5L440.8,448.3L440.7,444.8M449.3,446.6L446.9,451.7L442,450.6L440.8,448.3M426.2,480.9L425.3,481.9L419.1,482.1L418,481L420.7,474.6L421.5,474.2L425.3,476.3L426.2,480.9L433,481.8L433.6,481.3L438.7,482.1L440.8,488.9L431.9,487.3L431.9,487.2L433,481.8M411.7,514.1L410.6,518.6M416.7,515.4L417.7,520L413.4,521.9M417.7,520L419.4,521L420.5,524.6L416,527.5L411.5,525M408.3,530.4L409.1,526.3M408.3,530.4L416.5,534.1L416,527.5M408.3,530.4L406.9,531.6L405.5,538.5L412.7,542L419.2,537L416.5,534.1M423.5,540.6L419.8,537L419.2,537M412.7,542L412.3,547.9M413.8,501.1L410.2,499.2L404.8,501.6L404,504.6L405.3,506L412.6,506.1L413.8,501.1L416.1,499.7L420.4,502.4L419.7,507.2L418.7,508.2M413.5,507L412.6,506.1M405.4,507.6L405.3,506M395.9,506.5L394.3,514L402.2,514.9M396.9,505.5L404,504.6M416.1,499.7L416.5,495.9L414.1,493.9L410.5,494.6L410.2,499.2M394.6,475.1L396.5,478.9L401.7,480L404.8,473.2L403.4,471.3L396.5,469.8M398.4,424.9L398.4,430.5L390.6,431L391.4,423.7L395.7,422.3M371.2,449.9L379.2,448.1L378.9,441.8M379,458.9L379.3,448.2L379.2,448.1M387.3,409.1L387.4,415.3L384.1,415.9L379.4,409.1L379.7,408.6M391.4,423.7L389.8,422.9L384.4,424L383.9,431.7M387,432.8L389.9,432L390.6,431M395.6,414.2L387.4,415.3L389.8,422.9M387.4,415.3L387.4,415.3M394.4,401L393.4,396.8L391.1,394.4L386.6,394.2L386,395M376.6,421.7L376.4,417.1L382.1,417.8L382.7,423L379.8,424L376.6,421.7L371.4,425.7L369.3,420.2L362.5,424L364.8,428.3L371.3,428.3L371.4,425.7M374.2,415L376.4,417.1M374.2,415L375.7,410.8L379.4,409.1M384.1,415.9L382.1,417.8M384.4,424L382.7,423M376.7,430.2L379.8,424M374.2,415L369.7,416.6L369.4,416.9L369.3,420.2M369.4,416.9L364.6,416.4M360.1,422.4L362.5,424M364.1,429.1L364.8,428.3M371.9,429.1L371.3,428.3M398.3,451.2L397.9,450.6L405,442.5L406.7,442.8L408.3,447.8L408.2,447.9M424.1,430.8L425.6,436L421.5,439.5L417.7,436M434.7,434.3L429.5,437.6L429.1,442.5L434,444.4M425.6,436L429.5,437.6M419.1,482.1L419.9,488.1L414.8,489.2L412.7,487.5L412.8,482.6L415.9,481L418,481M404.8,482.8L401.7,480M404.8,482.8L408.4,480.9L409,475L404.8,473.2M434.1,549L439.7,550L442.1,557.6L433.4,560.4M442.1,557.6L444.8,560M439.7,550L440.7,549.1L448.9,548.8L449.6,558.1M528.4,453.3L529.1,446.2M528.4,453.3L524.4,454.9L519.9,453.4L519.8,448.7M511.4,443.4L510.2,457.1L516.5,456.3L519.9,453.4M526.7,463.2L523.1,465.7L520.7,464.3L516.5,456.3M526.7,463.2L524.4,454.9M533.4,447.2L540.1,446.6L541.3,447.4L541,450.6L538.8,454.5L534.9,456.7L534.5,456.2L533.4,447.2L530.1,445.7M537.3,439.4L540.1,446.6M528.4,453.3L534.5,456.2M545.6,459.4L538.8,454.5M534.6,459.3L534.9,456.7M549.8,455.4L541,450.6M546,445.3L541.3,447.4M546.7,440.1L542.7,436.7M501,436.7L502.2,438.7M492,440.7L490.8,442.6L491.8,445.4L495.5,448.4L499,447.2M485.2,432.8L483.6,434.9L483.8,440.4L490.8,442.6M483.6,434.9L475.9,433.6M475.5,440.5L474,437.9M475.5,440.5L482.7,441.5L483.8,440.4M495.5,448.4L494.4,454.6L491,457.4L485.9,455.8L484.8,450.4L491.8,445.4M482.7,441.5L481.4,447.7L484.8,450.4M457.2,455.2L458.8,457.3L456.7,461.1L452.9,463.8L447.8,461.3L448.7,455.1L457.2,455.2L457.1,450M446.9,451.7L448.2,454.6L448.7,455.1M507.5,397.3L501.9,391.5L496.7,396.3L498.9,401.1L501.8,401L507.5,397.3L508.8,397.1L509.9,398.4L511.3,407.5L509.8,409.1L506.9,409.3L502.3,412.9L502,414.2L509.6,419.6L509.6,422.8L505.9,425.1L500.8,422.5M502,414.2L499.4,416.9M504.8,430.7L505.9,425.1M520.8,438.5L521.4,433.8L513.7,432.3L512.7,433.3M509.6,422.8L514.7,425.2L513.7,432.3M521.4,433.8L522.3,432.9L527.7,433.1M535.1,424.5L535.7,430.2M509.6,419.6L512.7,415.1L509.8,409.1M568,395L561.6,396.3L560.6,397.9L564.9,403.9L569.8,397.9L568,395L568.4,390.3L567,389.4L561.5,390.1L561.4,390.3L561.6,396.3M574.8,398.4L575.2,389.7L572.9,388.9L568.4,390.3M574.5,398.5L569.8,397.9M564.9,404.4L569.5,407.1L572.2,405.3M564.9,404.4L564.9,403.9M551.6,435.9L548.3,431.1L544.8,430.7M428.2,402.3L427.9,399L422.9,396.5L419.9,397.9L419.3,400.5M435,403L434.5,396.7L430.7,394.8L427.9,399M441.3,398.6L438.1,394.9L434.5,396.7M440.5,390.2L438.9,391.8L438.1,394.9M414.1,403.6L412.5,408.7L408,409.1L406.3,403.8L407.1,402.7L414.1,403.6L416,402.5L417.3,402.4M416.6,411.6L412.5,408.7M407.9,409.3L408,409.1M399.7,404.1L406.3,403.8M460.7,404.1L464.6,408.2L464.6,408.5L458,412.6L454.6,409.3M460.7,404.1L454.4,405.4M450.5,425.2L447.8,419.8L450.7,416.6L456.7,417.6L456.1,423.1L450.5,425.2L448.7,430.1M443.9,419.5L447.8,419.8M461.3,427.9L456.1,423.1M449.4,412.3L450.7,416.6M457.6,416.8L458,412.6M457.6,416.8L456.7,417.6M481,425.7L479.1,425.1L478.4,417.8L479.6,416.8M464.6,427.7L471,425.3L476.1,427L475.7,433.1M464.6,427.7L464.6,427.7L464.2,419L472,417.1L472,417L470.4,410.6L465.6,409.3L463.9,418.6L464.2,419M479.1,425.1L476.1,427M516.3,310.8L519,319.2L519.2,319.2L526.4,317.6M582.6,362.9L586.7,361.4M581.7,362.5L581.4,355.4L585.5,355.2L587.8,359.2M587.4,352.1L585.5,355.2M598.2,334.1L596.1,328.2L593.9,327L591.9,328.3M596.1,328.2L601.7,327M592.8,322.2L594,324L593.9,327M548.7,358.5L549.7,361.4L555.9,361.6M548.7,358.5L549.4,356.7M554.2,355L555.8,355.8M558.3,347.9L561.6,352L561,354.1L559.5,355.6M561,354.1L567.9,357.6L566.9,360.8M566.7,368.5L565,369.8L560.5,367.4L559.3,364.7M574.8,330.1L572.1,332.4L574.5,340L578.5,340.6M563.6,336.7L567.2,336.9L571.8,332.4L567.5,330.4M574.3,324.4L566.9,325.1M572.1,332.4L571.8,332.4M586,348.6L581.9,349L578.9,346.3L579.7,341.7M581.4,355.4L580,354.7L581.9,349M578.9,346.3L575.8,348.9L577.2,354.7L580,354.7M576.1,363.1L575.2,356.4L569.9,355.5L567.9,357.6M575.2,356.4L577.2,354.7M563.8,343.7L570.1,341.3L571.9,341.7L571.7,347.6L568.3,349.9L566.8,349.4L563.8,343.7L561.4,342.4M567.2,336.9L570.1,341.3M561.6,352L566.8,349.4M575.8,348.9L571.7,347.6M569.9,355.5L568.3,349.9M574.5,340L571.9,341.7M646.3,262L641.3,260.4L640.8,255.6L645.7,253L648.3,253.8L649,260.2L646.3,262L646.1,264.9L648.8,268.7M653.5,266.7L651.9,261.6L649,260.2M643.8,247.4L646.8,245L652.4,246.3L651.8,252.1L648.3,253.8M643.8,247.4L645.7,253M660.2,265.7L659.7,259.2M651.9,261.6L656.2,258.7M652.4,246.3L656.8,241.3M647.5,270.1L643.1,271.4L643.6,274.9M656.9,240.9L648.4,237L647.6,232.9L661.5,232.6L654.5,221.5L653.4,221.6L646.8,230.9L647.6,232.9M646.8,245L646.5,238.8L648.4,237M660.8,215.6L654.5,221.5M641.1,230.1L646.8,230.9M641.1,230.1L638.5,240.5L646.5,238.8M611.2,286L609.8,291.5M598.1,224.5L596.6,229L602.5,239.5L610.3,234.8M605.3,246.7L595,251.8M605.3,246.7L601.9,241.5L596.2,242.6L593.7,250.3M622.9,214.8L621.6,208.6L630.5,207.5L631.6,214.1L630.1,216M661.2,207.9L657.1,204.7L656.3,191.8L658.6,189.3M656.3,191.8L645.4,192.8L642,175.1M645.4,192.8L644.4,194L633,191.8L632.5,190.9M617.8,221.7L613,210.6L621.2,208.2L621.6,208.6M608.3,210.3L611,209.9L613,210.6M578.2,208.4L581.7,194.1M578.2,208.4L572.7,205.4L569.9,198.3M572.7,205.4L565.2,209L567.9,216L573.3,216.7L579.3,210.2L578.2,208.4M555.1,234.6L556,226.5L547.3,224.2M562.4,236.3L565.7,233.8L564.4,226.6L556.5,226.1L556,226.5M569.6,309L576.7,308.6L577.5,314.2L572.5,318.3L570,317.3L568.8,309.9L569.6,309L567.8,299.6M561.8,310.5L568.8,309.9M565.3,319.5L570,317.3M574.7,323.6L572.5,318.3M583.5,318.1L577.5,314.2M537.3,332.5L535.4,333.6L534.3,338.6L536.8,340.8L541.1,339.4L540.8,332.6L537.3,332.5L534.3,326.2M530.9,327.4L529.5,332.5L535.4,333.6M542.3,331.6L540.8,332.6M529,340.3L534.3,338.6M529,340.3L528.9,340.2L528.3,333.1L529.5,332.5M543.4,341.4L541.1,339.4M535.9,345.8L536.8,340.8M532.2,345.1L529,340.3M569,298.4L577.4,301.5L578.6,300.1L577.9,291.7M581.3,290.6L581.5,299.3L578.6,300.1M583.7,290.4L586,298.5L581.5,299.3M590,290.6L591.4,291.9L591,297.1L586.5,298.7L586,298.5M506.8,287.5L511.2,287.1L516.3,293.6L509.5,297.2L505.5,294.9L506.8,287.5L506.1,286.8M515.6,282.8L511.2,287.1M519.4,294L516.3,293.6M510.9,301.7L509.5,297.2M499.8,303.9L500.9,297.1L505.5,294.9M499.8,303.9L500.1,304.2M470.1,277.7L470,277.9L463.3,277.9L462.4,284.1M470.1,277.7L469.9,270.4L476.3,270.6M477.1,284.7L477.2,284.6L476.4,277.6L470.1,277.7M470.3,284.4L470,277.9M477,277L476.4,277.6M456.2,284.6L455.7,284.1M456.2,284.6L462.2,284.2M484,284.1L484.1,283.9L490.1,284.5L494,290.8L493.9,290.8L483.9,291.4L484,284.1L477.2,284.6M483.9,277.9L484.1,283.9M493.5,278.1L490.1,284.5M499.3,285.8L494,290.8M494.4,292.5L500.9,297.1M494.4,292.5L493.9,290.8M476.7,290.7L478.3,292.3L483.7,291.7L483.9,291.4M471.1,297.8L477,298.6L477.3,298.4L478.3,292.3M499.8,303.9L493.6,305.6L492.8,311.2L500.6,314.4L501.1,313.8M500.6,314.4L499.2,321.2L495.3,322L489.5,315L492.8,311.2M470.3,313.1L478,313L478.2,312.8L476.5,305.5L471.2,306.2L470.3,313.1L470.1,313.3L471,319.9L463.3,320.9L463.3,327.1L463.3,327.1L456.2,327.7L455.9,320.4L463,320.6L463.3,320.9M470,305.1L471.2,306.2M476.8,305.2L477,298.6M476.8,305.2L476.5,305.5M456,298.7L448.4,298.1L448.1,297.9L448.5,291.8L449.1,291.3L455.5,291.2L455.7,291.5L456.1,298.6L456,298.7L454.9,306L448.6,306L448.4,298.1M463.5,291.3L455.7,291.5M462.5,298.9L456.1,298.6M456.2,284.6L455.5,291.2M448.5,284.5L449.1,291.3M440.4,291.8L441.8,298.5L441.9,298.6L448.1,297.9M441.6,290.8L448.5,291.8M448.5,306L448.6,306M441.5,306L441.9,298.6M448.7,321.2L455.5,320L455.7,313.4L448.9,313.8M492,331.6L488.6,329.1L488.9,325.1L495.1,322.3L495,329.5M488.2,337.7L491.5,336.7M488.2,337.7L485.7,335.4L485.5,331.1L488.6,329.1M197.6,233.5L183.9,228.3M197.6,233.5L197.1,235.6M212.1,291.7L213.3,282.6L222.5,284.2L222.9,284.7L221.5,292.9L220.7,293.5M225.6,274.9L223.7,274.4L222.5,284.2M233.1,280.5L231.6,284.9L222.9,284.7M203.9,281.2L213.1,282.2L213.3,282.6M231.6,284.9L232.8,287.1L231.2,295L221.5,292.9M230,302.9L230.5,302.4L231.4,295.3L231.2,295M215.6,263.7L225.2,265.3L223.5,274.1L214.9,274.1L214,272.9L215.1,264L215.6,263.7L216.4,254.8L220.3,252.4M225.6,265L225.2,265.3M208.4,252.7L216.4,254.8M207.5,253.3L206.4,262.9L215.1,264M223.7,274.4L223.5,274.1M213.1,282.2L214.9,274.1M206.4,262.9L205.1,271.9L204.6,272.3L196.3,270.5L195.6,269.4L197.3,261.7L206.4,262.9L206.4,262.9M214,272.9L205.1,271.9M196.8,260.8L197.3,261.7M186.5,268.5L195.6,269.4M203.8,281.2L204.6,272.3M193.7,278.6L196.3,270.5M312.7,246.1L313.2,236.9L305.6,240.1L311.4,247.1L312.7,246.1L320.6,246.7L321.7,248.1L330,248.1L331.5,240.4L322.8,238.5L321.6,239.3L320.6,246.7M313.2,236.9L313.4,236.4L321.6,239.3M333.4,238.9L331.5,240.4M333.4,238.9L332.5,231.3L332.1,230.8M324.4,229.1L322.8,238.5M313.4,236.4L312.4,230.9L314.2,229.4M292.1,207.7L291.7,216.3L290.4,217.5L281.6,216.9L279.9,214.2L281.2,207.6L282.5,206.6L292.1,207.7L292.3,207.5M283.5,194.5L282.5,206.6M279.6,225.3L290.6,226.8L290.4,217.5M279.6,225.3L281.6,216.9M270.8,203.3L281.2,207.6M270.3,215.2L279.9,214.2M278.8,226.1L279.6,225.3M209.4,244.5L215.6,239.7L202.7,228L202.1,228.1L197.6,233.5M248.7,211.2L238.6,210.6L237.7,209.3L240.2,199.7M255.4,242.3L254.8,249.9L262.3,250.8L263.4,243.2L255.4,242.3L255.3,242.2M254.6,250.1L254.8,249.9M263.5,243.1L263.4,243.2M263.5,243.1L263.9,235.1M262.6,251.1L261.1,258.8L261.5,259.4L269.1,259.7L269.8,252.2L262.6,251.1L262.3,250.8M253.6,257.5L261.1,258.8M264.1,299.3L263.9,299L256.4,297.9L255.2,306.3L255.6,306.8L263.5,306.5L264.1,299.3L272.8,299.9L272.8,299.8L273.1,292.3L265.4,291.1L263.9,299M256.2,314.9L254.9,313.1L255.6,306.8M256.2,314.9L261.6,315.6L264.1,307.2L263.5,306.5M216.7,404.6L226.5,407L224.2,415.5L222.8,416.2L215.6,414.1L216.7,404.6L216.4,403.9M226.2,397.6L218.5,396.7M226.2,397.6L227.1,406.6L226.5,407M215.3,414.2L215.6,414.1M222.3,425.9L222.8,416.2M298.2,227.9L300,226.4M298.2,227.9L291,227.3L290.6,226.8M291.7,216.3L301,218.5M310.2,230.4L307.8,228.5M310.2,230.4L312.4,230.9M302.6,211.1L301.3,218.2M298.2,227.9L298.5,230.3L303.3,235.9L310.2,230.4M305.6,240.1L302.9,239.9L303.3,235.9M194.1,451.9L196.8,444.3L191.6,440.9M203,434L192.4,431.2M200.4,443.3L196.8,444.3M194.1,423.4L191.9,430.4M221.1,466.8L229.7,467.8L231.2,475L227.9,478.7M221.1,466.8L220.7,467.1L220.4,476.7M212.8,466.9L203.3,466.4L204.9,455.8L205.6,455.3L211.8,456.6L212.8,466.9L213,467.1L220.7,467.1M221.1,466.8L221.3,458.2L214.6,455.1L211.8,456.6M196.1,455.4L204.9,455.8M203,466.6L203.3,466.4M205.4,446.3L205.6,455.3M211.8,444.1L216.3,447.2L214.6,455.1M329,419.5L322.3,420.6L322.5,422.6L326.6,428.5M315.5,428.4L315.5,428.4L322.5,422.6M434.2,313.7L434.2,306.2L434.8,305.7L441.3,306.1M427.1,313.5L426.9,313.3L428.1,306.2L434.2,306.2M441.8,298.5L434.2,299.1L434.8,305.7M435.5,291.4L435.3,291.6L433.8,298.6L434.2,299.1M427.5,291.3L435.3,291.6M427.5,291.3L428.1,298.2L433.8,298.6M413.8,287L415.4,290.7L413.6,293.1L408.1,292.6M418.3,306.3L420.3,306.4L421.1,312.7L420.8,312.9L415.5,313L418.3,306.3L414.1,305.7M414.4,313.1L415.5,313M414.4,313.1L413.9,319.4L419.9,319.9L420.8,312.9M419.9,319.9L420.6,320.7M426.9,313.3L421.1,312.7M427.9,283.7L428.4,284.4L427.3,291.1L421.1,291.2L421,291L420.9,284.2L427.9,283.7L427.7,276.8M433.5,284.6L428.4,284.4M417.1,280.5L420.9,284.2M427.5,291.3L427.3,291.1M415.4,290.7L421,291M469.6,385.4L469.9,379.2L470.5,379.2L476.1,386.7L475.7,387.2L472.7,388L469.6,385.4L464.2,386.8M469.7,379.1L469.9,379.2M469.8,393.2L472.7,388M469.8,393.2L472.8,396.6L478.3,394L475.7,387.2M480.3,411.2L472.8,408.8L474.6,402.6L481.1,402.7L481.9,409.6M469.4,393.2L466,391.1L459.3,396.2L461.3,398.3L464,398.3L469.4,393.2L469.8,393.2M463.9,387.2L466,391.1M468.5,401.5L472.7,400.4L472.8,396.6M468.5,401.5L464,398.3M457,395L459.3,396.2M460.7,404.1L461.3,398.3M468.5,401.5L464.6,408.2M488.9,402.7L489.6,407.8L492.7,409.6L497.1,407.3L498.4,401.6L489.4,402.2L488.9,402.7L482.8,401.6L487.3,393.8L482.7,392.4L479.5,394.3L482.1,401.7L482.8,401.6M492.8,415.4L492.7,409.6M485.4,410.2L489.6,407.8M502.3,412.9L497.1,407.3M506.9,409.3L501.8,401M498.9,401.1L498.4,401.6M490.3,394.5L493.8,393.9L495.8,387.1L488.2,386.4L488.3,393.5L490.3,394.5L489.4,402.2M496.7,396.3L493.8,393.9M483.6,349.9L489.3,350.6L492.2,349L492.4,345.7L486.3,342.4L484.3,343.9L483.4,349.6L483.6,349.9L483.1,356L490.7,358L490.9,357.9L489.3,350.6M492.4,345.7L496,342.9L499.9,351.9L497.5,352.8L492.2,349M488.2,337.7L486.3,342.4M493.6,337.6L496,342.9L496,342.9L501.9,341.9M502,354.4L500,351.9L501.8,350.2L510.2,351.9L510.4,352.8L509.5,354.8L502,354.4L503.5,359.7L505.6,360.9L509.4,359.6L509.5,354.8M510.4,351.3L510.2,351.9M510.4,351.3L517.2,348.7L519.1,353.3L515.8,354.4L510.4,352.8M457.1,349.9L457,356.5L463.1,356.6L464.2,348.8L457.1,349.9L456.1,349.2M452.4,356.9L456.1,357.5L457,356.5M452.4,356.9L450.3,353.3L451.5,349.6M456,364.3L456.8,363.4L456.1,357.5M456,364.3L453.6,364.7L448.2,361.5L448,360.5L452.4,356.9M367.9,344.4L368.4,337.7L373.2,337.8L373.6,338.3L374,343.7L372.9,344.8M386.3,338.4L380.8,337.4L380.3,337.9L379.9,344.7L380.1,344.9L386.3,344.4L386.3,338.4L386.6,338.2L392.9,338.2M393.1,344.7L386.6,344.7L386.3,344.4M380.2,331.7L380.8,337.4M380.2,331.7L374.2,331.9L373.2,337.8M373.6,338.3L380.3,337.9M374,343.7L379.9,344.7M379.6,350.9L380.1,344.9M379.6,350.9L373.2,351.2M380.5,331.4L387.2,331.6L387.5,331.3L387.5,325.5L380.8,325.4L380.5,325.7L380.5,331.4L380.2,331.7M386.6,338.2L387.2,331.6M373.1,330.7L373.8,324.8L380.5,325.7M373.1,330.7L374.2,331.9M381.2,318.5L380.8,325.4M381.2,318.5L387,318.9M387.7,325.3L387.5,325.5M393.4,332.3L387.5,331.3M365.6,356.5L365.7,363.3L362.3,364.2L360.2,363.1L358.1,361M372.1,362.8L366.2,363.6L365.7,363.3M360.2,363.1L356.2,369.3L361.7,370.4L362.3,364.2M356.6,390.4L353.1,387.8L356.1,383.1L357.8,382.7L359.3,383.4L360.8,387L356.6,390.4L357.5,394.1L362.1,393.9L364.2,395.9L362.4,401.6L357.8,402.2L356.7,401.1L356.2,395.5L357.5,394.1M337.7,366.9L345.5,367.4L346,360.5L339.1,359.4L338.1,360.4L337.6,366.8M346,360.5L346,360.5L346.2,351.7L339,352.4L338.7,352.2L338.2,343.8L339,343.1L346.2,344.5L346.3,344.6L346.3,351.7L346.2,351.7M322.2,359.9L322.9,351.7L330.3,351.5L331.2,352.5L330.4,359L328.1,361.3L322.2,359.9L320.3,360.8L319.9,368.7L321.5,370.6M329.6,366.7L328.1,361.3M338.1,360.4L330.4,359M330.8,344.3L330.3,351.5M321.9,350.7L324,343.6M321.9,350.7L322.9,351.7M339.1,359.4L339,352.4M331.2,352.5L338.7,352.2M331.1,344.1L338.2,343.8M353.4,352.6L346.3,351.7M346,360.5L353.5,359.9M355.2,345.1L346.3,344.6M348.3,336.9L354.8,338.4L355.4,344.9M348.3,336.9L346.2,344.5M348,336.5L348.3,336.9M339.2,336.9L339,343.1M413.9,312.6L413.9,305.9M413.9,312.6L407.4,312.5L407.7,307M407.4,312.5L406.9,313M400.9,305.9L400.7,306.1L400.3,312.3M401.4,299.7L407.5,299.7M414.4,313.1L413.9,312.6M407.1,293.6L407.8,299.4M414.7,298.7L413.6,293.1M414.7,298.7L413.6,299.9M400.3,331.8L406.7,332.7L406.6,325.7L400.7,325.2M400.3,339.1L409.3,339.2L409.9,335.9L406.7,332.7M420,335L419.8,340.3L412.7,342.9L409.9,341L409.3,339.2M419.5,334.5L411.6,334.6L409.9,335.9M419.8,327.1L414.1,327L411.6,334.6M345.1,375.1L338.9,375.3M345.1,375.1L344.7,381.3L341.5,383.5L335.4,380.9M320.2,404.4L318.6,404.4L313.9,414.2L314.8,415.6L316.6,416.9L319.8,417.6L324.7,413.6L320.2,404.4L325.4,402.8M327.4,413.6L324.7,413.6M322.3,420.6L319.8,417.6M315.5,428.4L316.6,416.9M309.4,423.7L314.8,415.6M288.4,375.5L286.8,383.6L295.7,383.5L295.7,377.4M280,374.4L288,374.9M279.5,382L286.2,384.2L286.8,383.6M303.4,376L312.2,376.5L310.7,384.7L304.4,385L303.4,376L303.2,375.8L304,368.4L303.5,367.6L306.1,360.3L312.3,360.9L313.1,368.9L311.9,370.2L304,368.4M270.6,372.2L262.5,371.8L265,363L270.8,366.2L270.6,372.2L271.7,373.5M279,373.3L280.6,365.7L272.9,364.8L270.8,366.2M321.9,350.7L315.2,349.8L314.7,347.2L322.4,341.6M314.9,359.5L320.3,360.8M314.9,359.5L314.3,351.1L315.2,349.8M297,351.6L305.8,352.3L305.7,345.7L299.2,343.7L297,351.6L296.9,351.7L297.4,358.4L296.2,359.7M280.6,365.7L280.8,365.5L288.5,366.1M291.4,447.4L294.6,440.3L286.7,437.1L285,446.8M276.8,444.5L278,437.2L286.6,437L286.7,437.1M380.4,370.6L380,371L379.4,376L383,378.5L385.7,377.2L385.3,372.1L380.4,370.6L380.6,365.3L379.1,364.2M388.7,384.5L382.1,382.6L381.3,383.2L381.4,389L385.4,391.4L388.7,384.5L389.1,384.3L388.5,378.1L385.7,377.2M383,378.5L382.1,382.6M374.5,384.8L375.9,389.3M374.5,384.8L376.9,382.5L381.3,383.2M377.2,390L381.4,389M386.6,394.2L385.4,391.4M376.9,382.5L375.9,377.7L379.4,376M430.8,366.9L428.5,362L425.8,360.7M430.8,366.9L427.4,368.9L423.2,366.7L422.6,361.5M421.9,354.9L419.6,353.6M421.6,360.8L419.3,361L415,359.4L414.5,356.7M412.7,342.9L415,347.8M419.8,340.3L421.3,341.4L420.8,347.5M419,384.3L421.7,386.7L421.3,389L419.8,390.1L415.3,389.9L414.4,384.7L419,384.3L419.5,380L425.9,379.1L421.6,374L421.5,373.9L418.3,375L417.6,377.7L419.5,380M424.6,392.5L422.9,396.5M424.6,392.5L421.3,389M419.9,397.9L418.4,395.9L419.8,390.1M430.8,366.9L433.2,366.9L434.9,362L433.2,359L428.5,362M429,374.8L434,371.9L433.3,367.1L433.2,366.9M429,374.8L427.3,371.3L427.4,368.9M429.1,354.7L432.9,355.1L433.1,355.3L433.2,359M445.6,359L440.6,362.9L439.1,361.7L439.6,354.7L442,353.4L443.5,354.6L445.6,359L448,360.5M450.3,353.3L443.5,354.6M442.3,349.4L442.1,349.8L442,353.4M434.9,362L439.1,361.7M433.1,355.3L439.6,354.7M434.3,341.5L434,341.1L426.9,340.9L426.6,341.3L426.4,347.8L433.8,347L434,346.7L434.3,341.5L441.8,341.7M441.5,334.9L441.9,341.6M434.5,334.9L434,341.1M442.1,349.8L434,346.7M426,334.6L426.9,340.9M432.9,355.1L433.8,347M425.9,348.4L426.4,347.8M421.3,341.4L426.6,341.3M224.5,330.1L233.9,332.1L236.2,330.4L234.5,322.8M223.5,340.1L232.9,340.1L233.9,332.1M236.9,319.9L244.5,321.4L244.3,327.9L240.6,330.9L236.2,330.4M236.4,313.4L238.8,311.8L246.2,314.8L246.2,319.8L244.5,321.4M381.6,163L377,167.1L377,167.4L385.6,176.5L392.7,176.8L393.4,176.2L393.8,163.8L381.6,163L381.7,150.3M367.4,156.9L377,167.1M393.8,163.6L393.8,163.8M401.6,176.7L393.4,176.2M380.9,180.4L385.6,176.5M368.2,175.5L377,167.4M392.8,187.4L392.7,176.8M342.9,281.2L344.5,275L345.5,274.3L350.9,274.8L351.8,281.9L349.9,283.6L344.4,283.1L342.9,281.2L336.5,281.8L336.3,281.6L335.3,273.6L336.1,272.8L344.5,275M343.9,291.1L342.8,289.9L344.4,283.1M343.9,291.1L350.4,290.9L350.8,290.5L349.9,283.6M350.9,274.8L352,274L353,267.3L352.2,266.1L344.7,267.2L345.5,274.3M352,274L358.6,275.1L359,275.8L357.8,283.1L351.8,281.9M342.8,289.9L336.1,289.5L336.5,281.8M335.5,211L342.7,212L343.8,211.3L345.2,203.6L344.2,202.4M345.2,203.6L352.7,203.9L352.9,213.2L343.8,211.3M353,203.6L352.7,203.9M412.4,233.1L404.4,233.8L404.2,241.8L404.2,241.8L395.6,241.4L394.9,250L403.6,250.3L403.9,250.1M370.7,213.1L370.3,205.9M370.7,213.1L372.3,214.4L379.4,213.8L379.6,213.6M371.5,222.7L378.9,223.9L379.2,223.7L379.4,213.8M371.5,222.7L372.3,214.4M387.4,216.2L386.5,223.9L379.2,223.7M281.6,235.6L287.6,236.5L287.8,236.4L291,227.3M284.5,261.5L283.9,269.3L276.2,268.5L276.9,260.8L284.5,261.5L284.7,261.2L285.6,254L285.5,253.9L286.2,246.2L286.3,246.1L294,247L294.3,247.3L293.4,254.4L285.6,254M276.9,260.8L276.9,260.8L269.4,260L268.4,267.7L275.7,268.8L276.2,268.5M365.4,335.7L365.2,332.1L362.5,329.9L356.9,330.4L355.9,337.4L362.7,338.1L365.4,335.7L368.4,337.7M373.1,330.7L367.3,331L365.2,332.1M362.6,345.1L362.7,338.1M354.8,338.4L355.9,337.4M355.6,329.4L349.5,329.1M355.6,329.4L356.9,330.4M324.8,327.7L323.9,326.6L317,326.7L316.7,331.1L323.8,334.1L324.8,327.7L331.9,327.2M324,320.9L323.9,326.6M324,335L323.8,334.1M229.5,429L233.1,422.6L240.9,424L243,427.4L241.7,431.2L231.5,430.7L229.5,429L224.7,429.2M232.4,417.7L224.2,415.5M232.4,417.7L233.1,422.6M259.9,444.8L250.6,442.5L252.4,436.2L259.3,435L259.9,435.5L261.4,443.3M251.3,425.1L251.3,435L242.5,433.3L241.7,431.2M251.3,425.1L251,424.7L243,427.4M251.3,425.1L259.4,427.7L259.3,435M252.4,436.2L251.3,435M242.3,417.9L246.8,415.8L241.9,407.1L237,406.4L236.3,407.1L235.6,414.6L242.3,417.9L240.9,424M232.4,417.7L235.6,414.6M227.1,406.6L236.3,407.1M228.7,395.7L236.8,398.7L237,406.4M228.7,395.7L226.2,397.6M262.5,371.8L261.7,372.3M294.6,440.3L296.2,439.6L294.1,430L288.1,430L286.6,437M303.4,430.2L295.4,429.2L294.1,430M304.1,436.8L298.2,439.8L296.2,439.6M304.9,424.1L303.5,421.7L308.8,413.2L313.9,414.2M296,420.3L295.4,429.2M296,420.3L297.7,419.1L303.5,421.7M276.6,384.1L279.8,391.3L283.4,392.8L286.6,391.9L286.2,384.2M220.8,385.6L228.6,387L230.1,376.5L229.6,375.9M228.7,395.7L229,387.4L228.6,387M239.2,369L246.3,372L245.5,378L237.6,378.1L237,377.3L239.2,369L238.9,368.4M247.9,371L246.3,372M230.1,376.5L237,377.3M229,387.4L236.3,386.9L237.4,384.7L237.6,378.1M246.2,378.8L245.9,383.5L237.4,384.7M246.2,378.8L245.5,378M253.5,378.8L246.2,378.8M293,555L286.8,556.8L287.5,562.1M216.3,447.2L221.1,446L224.4,456.1L221.3,458.2M221.4,434.6L223.3,440.1L221.2,445.9L221.1,446M250.6,442.5L249.3,443.7L240.9,439.4L242.5,433.3M249.3,451.7L248.4,450.1L249.3,443.7M231.5,430.7L233.3,440.9L238.8,440.8L240.9,439.4M223.3,440.1L233,441.1L233.3,440.9M248.4,450.1L240.6,449L238.8,440.8M295.4,451.2L296.4,451.4L300.6,447.5L298.2,439.8M307.2,447.3L306.9,447.8L300.6,447.5M297.2,462L298.9,455.4L296.4,451.4M315.5,457L314.1,463.2L312.7,464.2L306.8,462.8L306.7,462.8L306.4,455.3L307.7,453.8L313.7,455L315.5,457L321.6,455.8M322,465.6L314.1,463.2M316.2,447.3L313.7,455M306.9,447.8L307.7,453.8M298.9,455.4L306.4,455.3M297.5,462.3L306.7,462.8M320.8,472.9L321.2,472.4M312.8,471.3L312.7,464.2M304,471L306.8,462.8M233.4,486.5L236.9,484.2L242.9,485.8L243.6,487.5L240.7,493.8L239.4,494.5L233.4,486.5L229.2,486.6M231.2,475L237.1,476.7L236.9,484.2M236.5,498.8L228.8,495.1L228.3,487.6M236.5,498.8L239.4,494.5M236.5,498.8L237,502.3L245.2,503.6L249.6,496.9L240.7,493.8M245.4,480.6L238.5,476.2L243.8,467.7L248.8,471.7L250.5,478.3L245.4,480.6L242.9,485.8M237.1,476.7L238.5,476.2M242.5,463.4L243.8,467.7M242.5,463.4L246.1,460.6M256,468.3L248.8,471.7M202,473.8L202.6,475.1L211.2,476.3L213,467.1M211.2,476.3L211.2,476.3M275.3,499.2L274.1,500.6L265.9,496.6L266.1,490.4L270,488.4L274.8,491L275.3,499.2L284.8,499.1L286,501.5M277.3,508.6L273.2,504.5L274.1,500.6M317.6,497.1L318,503.1L310.8,503.9L309.4,502.5M303,511.3L310.9,511.5L310.8,503.9M326.4,496.4L327.5,497.8L326,504.3L325.6,504.6L319.4,504.4L318,503.1M334.3,513.4L335.6,506.8L326,504.3M334.3,513.4L326,511.7L325.8,511.5L325.6,504.6M254.7,513.5L263,518.6L262.1,522.2L256.3,524.8L252,516L254.7,513.5L256.8,507.7L265.8,509.3L267.2,507.5L263.2,498.9L256.3,499L256.1,506.6L256.8,507.7M292.6,526.6L286.7,531.3L280.8,527L284,518.5M286.8,556.8L282.3,552.6L280.9,553.2L276.2,563.7M285.7,495.3L289,491.7L294.8,491.9L295.7,493.1L294.8,497L285.5,497.1L285.7,495.3L279.2,488.9L282.4,483.1L282.6,483.1M287.2,485.5L289,491.7M279.2,488.9L274.8,491M284.8,499.1L285.5,497.1M295.3,501.8L294.8,497M296.5,484.7L294.8,491.9M302.8,494.1L295.7,493.1M264.7,479.2L270,484.1L275.5,479.1L274.6,474.9L271.5,472.4L264.7,479.2L260.2,478.9L262.9,489.5L266.1,490.4M282.4,483.1L275.5,479.1M270,488.4L270,484.1M283.3,471.1L274.6,474.9M271,470.8L271.5,472.4M260.3,471.6L259.7,478.7L254,480.4L250.5,478.3M259.7,478.7L260.2,478.9M201.4,542.1L199.5,552.5L209.5,552.1M201.4,542.1L210.1,543.7M199.1,553L199.5,552.5M199.1,553L190.1,550.7M192.6,541.7L201.3,541.9L201.4,542.1M201.3,541.9L201.9,532.3L210.6,532.3M199.5,559.4L199.1,553M232.3,535.4L232.5,535.2L234.7,535.5L242.8,541.9L239.4,546.9M237,502.3L235,506.1L237.1,511.2L245.1,513L247.1,506.6L245.2,503.6M220.7,524.6L221.7,525.8L231.8,526.4L234.8,522L233.7,519.3L224.2,515.3L220.7,524.6L213,524.1L210.9,532.1M221.7,534.2L221.7,525.8M232.5,535.2L231.8,526.4M212.3,523.2L205.1,521.6L204.9,512.9L206.6,511.6L213.9,514.3L212.3,523.2L213,524.1M201.8,532.2L201.9,532.3M201.8,532.2L203.2,522.7L205.1,521.6M216,513.1L223.8,514.5L224.2,515.3M216,513.1L213.9,514.3M195.5,520.5L197.2,512.2L204.9,512.9M195.5,520.5L203.2,522.7M207.4,504.4L206.6,511.6M207.4,504.4L215.5,505L216,513.1M224.6,498L218.6,497L218.1,497.3L216.5,504.2L226.2,507.7L226.6,507.3L224.6,498L228.8,495.1M219.1,487.7L218.6,497M235,506.1L226.6,507.3M223.8,514.5L226.2,507.7M237.1,511.2L233.7,519.3M215.5,505L216.5,504.2M207.4,504.4L205.8,502.1L208.5,495.4L218.1,497.3M197.2,512.2L195.6,509.9L196.9,503.6L198.9,502.2L205.8,502.1M201.8,532.2L192.5,530.4L193.2,521.9L195.5,520.5M195.6,509.9L188,510.8M193.2,521.9L186.1,518.7M314.9,538.6L316.3,537.2M313.4,528.9L316.4,529.4M333.6,528.1L325,529.1M333.6,528.1L333.8,528.6M351.8,476.7L348.9,486.2L344.4,485.4L341.9,480.8L347.7,474.3M328.8,480.8L330.2,473.9L335.7,473.3L337,474.4L338.2,479.6L335.7,481.9L329.5,481.7L328.8,480.8L320.8,480M329.6,473.4L330.2,473.9M328,488.4L328.6,487.9L329.5,481.7M337.2,464.6L335.7,473.3M341.9,480.8L338.2,479.6M346.3,471.7L337,474.4M394.3,514L394,514.3L385.7,513L383.8,507.8L387.3,503.3M386.2,496.4L384.9,495.1L376.8,496.6L374.8,504L376.7,506.1L383.8,507.8M327.5,497.8L334.4,497L335.3,490.2L328.6,487.9M344.4,485.4L340.1,489.2L336.9,489.1L335.7,481.9M336.9,489.1L335.3,490.2M334.5,513.8L345.1,516.7L345.7,519.4L343.6,522.3L334.7,523.7L332.2,520L334.5,513.8L334.3,513.4M326,520.3L326,511.7M326,520.3L332.2,520M333.6,528.1L334.7,523.7M326,520.3L325.5,520.7L324.7,528.8M344.2,531.7L343.6,522.3M344.2,531.7L343.1,532.7M335.6,506.8L335.7,506.7L346.3,507.4L347.3,510.9L345.1,516.7M334.4,497L336.5,498.8L335.7,506.7M342.4,493.6L340.1,489.2M342.4,493.6L337.2,498.7L336.5,498.8M366.8,408.1L365.7,407.4L365.4,404.1L371.8,400.4L372.9,402L372.9,407.8L366.8,408.1L369.7,416.6M362.4,409.8L365.7,407.4M375.7,410.8L372.9,407.8M378.8,403.5L372.9,402M372,398.2L371.8,400.4M350.5,401.4L356.7,401.1M350.5,401.4L349.6,402.1M356.9,406.2L357.8,402.2M365.4,404.1L362.4,401.6M365.9,395.7L364.2,395.9M363.3,388.6L367.3,387.3L368.2,388.8M363.3,388.6L362.1,393.9M363.3,388.6L360.8,387M435.5,456.1L436.4,454.7L439.5,454.4L442,457.3L441.8,460.3L439,462.3L436.3,462L435.5,456.1L429.9,456.4L428.5,462.6L428.5,462.6L424.3,460.9L423.5,455.3L427.9,453.2L429.9,456.4M434.4,450.5L436.4,454.7M442,450.6L439.5,454.4M448.2,454.6L442,457.3M446.5,462L441.8,460.3M446.5,462L447.8,461.3M425.3,476.3L429.9,474.5L428.3,468.6L427.4,467.8L423,469.6L421.5,474.2M433.6,481.3L433.3,476.1L429.9,474.5M427.4,467.8L428.5,462.6L435.1,462.9L435.4,469.3L428.3,468.6M435.1,462.9L436.3,462M419.5,462.3L424.3,460.9M419.5,462.3L420.8,467.5L423,469.6M417.4,456.9L416.8,461L419.5,462.3M417.4,456.9L420.9,454.4L423.5,455.3M433.3,449.5L428.4,450.9L427.9,453.2M423.6,527.4L423.2,532.1L432.3,532.6L428.5,526.4L425.5,526.3L423.6,527.4L420.5,524.6M419.8,537L423.2,532.1M432.7,532.8L432.3,532.6M432.7,532.8L433.5,532.6L435.6,526L432.5,523.9L428.5,526.4M429.5,541L432.7,532.8M404.8,482.8L404,487.5M396.5,478.9L394.1,486M412.7,487.5L405.1,490.2M412.8,482.6L408.4,480.9M410.5,494.6L405,491.4M414.1,493.9L414.8,489.2M404.8,501.6L402.7,494.3M386.2,488.9L384.9,495.1M388.4,486.8L393.9,486.2M425.6,486.7L427.4,487.8L426,492.8L423,494.5L421.8,493.9L420.2,488.3L425.6,486.7L425.3,481.9M431.9,487.2L427.4,487.8M419.9,488.1L420.2,488.3M416.5,495.9L421.8,493.9M420.4,502.4L424.7,499.8L423,494.5M451.8,486.1L446.8,487.4L446.7,487.4L446,483.1L451.4,479.9L451.8,486.1L454.1,486.9L452.7,492.9L448.8,492.8L446.8,487.4M438.7,482.1L441.1,480.5L443.7,480.6L446,483.1M440.8,488.9L440.9,489L446.7,487.4M440.9,489L440.1,492.4L442.1,495L447.2,495.3L448.8,492.8M452.9,463.8L452.1,468.1L456,471L459.9,468.7L456.7,461.1M417.4,456.9L413.5,453L409.7,455.1L410.2,460.2L415.3,461.6L416.8,461M408.4,454.4L409.7,455.1M404.2,461.7L406.4,462.6L410.2,460.2M403.4,471.3L407.4,466.5L406.4,462.6M414.8,469L415.7,472.7L412.8,474.9L409.2,474.9L410.9,468.1L413.5,467.7L414.8,469L420.8,467.5M420.7,474.6L415.7,472.7M415.3,461.6L413.5,467.7M407.4,466.5L410.9,468.1M409,475L409.2,474.9M415.9,481L412.8,474.9M394.2,442.2L389.2,442.6L386.2,449.5L388.4,452.4L397.5,450.4L394.2,442.2L395.1,440.8L395.4,438.7L389.9,432M386.6,440.6L389.2,442.6M397.9,450.6L397.5,450.4M405,442.5L404.2,441.7L395.1,440.8M379.3,448.2L386.2,449.5M387.1,457.3L388.4,452.4M395.9,389.5L393.6,390.9L389.3,384.3L395.1,383.1L396.3,384.6L395.9,389.5L401.5,391.9L402.5,391L402.1,385.1L401.7,384.7L396.3,384.6M389.1,384.3L389.3,384.3M391.1,394.4L393.6,390.9M393.4,396.8L401,394.5L401.5,391.9M399,403.1L401.6,396L407.6,398.8L407.1,402.7M401.6,396L401,394.5M388.5,378.1L392.9,375.7L396,378.3L395.1,383.1M386.7,371.2L392.8,374.2L392.9,375.7M386.7,371.2L385.3,372.1M413.6,442L413.7,442.1L413.2,448.7L408.3,447.8M407.6,442.1L406.7,442.8M413.5,453L414.2,449.7L413.2,448.7M413.3,394.3L411.4,397L408.3,398.2L406.5,390.9L408.8,389.6L412.9,392.4L413.3,394.3L418.4,395.9M416,402.5L411.4,397M415.3,389.9L412.9,392.4M409.2,387.3L408.8,389.6M409.2,387.3L413.6,384.3L414.4,384.7M407.6,398.8L408.3,398.2M402.5,391L406.5,390.9M406.6,384.3L402.1,385.1M406.6,384.3L409.2,387.3M442.9,532.4L445.7,534.3L445.8,539.7L442.6,541.8L437.8,539.4L437.6,534.5L442.9,532.4L442.4,528.3L437,525.6L435.6,526M449.2,532.9L445.7,534.3M449.2,532.9L454,534.5L456.5,539.6L450.8,542.8L445.8,539.7M432.3,543.3L437.8,539.4M433.5,532.6L437.6,534.5M440.7,549.1L442.6,541.8M450.8,542.8L450.3,547.6L448.9,548.8M464.7,567.6L462.2,578.2M464.7,567.6L471.5,567.2L472.9,569.7M456.3,574.7L455.4,569L460.8,565.2L464.7,567.6M454,568.3L455.4,569M569,437.5L571.6,435.6L578,436.3M586.7,412.1L584.4,413L584.5,419.9L589.1,422.1M578.8,406.7L579.4,411.6L571,412.9L569.5,407.1M584.4,413L579.9,412L579.4,411.6M564.9,435.2L563.9,430.6L566.6,427.5L573.1,428L571.6,435.6M514.3,480.4L513.1,475.4L514.6,473.4L522.7,471.9L523.1,465.7M520.7,464.3L512.4,466.6L514.6,473.4M490.4,474.8L489.4,482.1L488,482.7L480.8,480.9L480.6,474.6L488.1,471.7L490.4,474.8L498.5,475.9L498.1,480.6L493.6,483.6L489.4,482.1M466.3,445.5L469.2,448.4L468.5,454.7L464.6,458.1L458.8,457.3M475.5,440.5L473.4,446.9L469.2,448.4M481.4,447.7L478,448.7L473.4,446.9M578.5,399.5L581.9,397.1M575.2,389.7L580.3,388.2M576.3,374.5L577.8,377.1M501.5,386.1L501.9,391.5M501.5,386.1L501.2,385.8L496.2,386.8L495.8,387.1M495.5,372.1L492.4,373.3L494.5,379L501,378.8L501.7,377.3L501.3,373.8L495.5,372.1L496.2,365.4L497.3,364.7L501.5,366.9L504.9,364.6L505.6,360.9M486.7,384.8L488.2,386.4M486.7,384.8L488.6,381.1L493.3,381L496.2,386.8M501,378.8L501.2,385.8M493.3,381L494.5,379M514.7,425.2L518.4,424.1L520.9,424.3L522.3,432.9M512.7,415.1L516.1,415.3L518.4,424.1M528.4,424.1L524.7,422.1L520.9,424.3M564.9,404.4L562.8,406.1L557.5,405.6L553.9,398.3L560.6,397.9M561.4,390.3L555.3,391.5L553.8,398.2L553.9,398.3M427.4,392.2L430.4,393.6L432.5,390.4L432.4,386.7L431.4,386.1L427.4,385.6L427.4,392.2L424.6,392.5M430.7,394.8L430.4,393.6M425.9,384.6L421.7,386.7M425.9,384.6L427.4,385.6M438.9,391.8L432.5,390.4M437.4,384.5L439.3,385.8M437.4,384.5L432.4,386.7M428.9,377.6L431.6,378.6L431.4,386.1M428.9,377.6L426.2,379.3L425.9,384.6M472.8,408.8L470.4,410.6M478.4,417.8L472,417M464.6,408.5L465.6,409.3M472.7,400.4L474.6,402.6M457.6,416.8L463.9,418.6M471,425.3L472,417.1M560.5,367.4L557.5,371.9L552.9,369.4L555.1,365.9L558.2,364.5M549.7,361.4L549.5,363.3L555.1,365.9M541.5,353.4L540.3,357.5L542.8,359.6L548.7,358.5M594,324L598.3,321.8L601.1,322.1M595.4,315.5L592.7,317M595.4,315.5L596.7,315.5L598.3,321.8M586.8,314.8L586.9,313.1L591.6,309.2L593.2,309.1L595.4,315.5M640,267.9L641,270.1L638.1,273.6L633.4,272.4L632.8,269.3L637.2,265.5L640,267.9L646.1,264.9M643.1,271.4L641,270.1M637.2,265.2L641.3,260.4M637.2,265.2L637.2,265.5M638.3,276.3L638.1,273.6M631.7,277.6L633.4,272.4M626,268L624.5,269.5M626,268L632.8,269.3M643.8,247.4L636.7,244.3L635.8,242.8L638.5,240.5M641.1,230.1L638.8,228.4M629.3,238.3L634.1,242.3L635.8,242.8M640.8,255.6L636.6,253.9L636.7,244.3M613.4,237L615.3,243.7L620,244.9L627.9,238.6M591.4,291.9L596.6,290.9L597.8,295.4L591.9,297.5L591,297.1M593.7,281.7L599.2,286.4L596.6,290.9M601.7,285.5L600.7,286.4L599.2,286.4M593.2,309.1L596.2,306.8L596.6,303.6L595.1,302.7L588.4,304.2L591.6,309.2M591.9,297.5L595.1,302.7M597.8,295.4L597.9,295.4L598.6,302.5L596.6,303.6M596.6,229L595,230.6L591.8,239.2L596.2,242.6M601.9,241.5L602.5,239.5M588.5,249.2L586.6,240.8L591.8,239.2M642.4,204.9L639.8,213.3L642,218.6L651,220.2L646.9,205.4L643.5,204.3L642.4,204.9L633.4,203L630.5,207.5M631.6,214.1L639.8,213.3M633.4,203L631.5,200.4L633,191.8M644.4,194L643.5,204.3M657.1,204.7L646.9,205.4M653.4,221.6L651,220.2M637.2,224.4L642,218.6M564.4,226.6L565,226L565.1,218.1L557.6,216.9L556.5,226.1M567.9,216L565.1,218.1M583,224.3L575.2,224.7L574.8,225.2L574.7,236.3L575.1,236.8L579.5,238.6L581,238.2L584.5,232.1L583,224.3L590.7,217.1L588.3,212.7L579.3,210.2M573.3,216.7L575.2,224.7M595.3,219.6L590.7,217.1M595,230.6L584.5,232.1M586.6,240.8L581,238.2M565,226L574.8,225.2M565.7,233.8L574.7,236.3M578.2,250.5L579.5,238.6M568.5,244.5L575.1,236.8M588.3,212.7L590.3,207.9L588.5,198.2M526.5,341.2L523.8,340.9L520.5,345.1L524.5,348.9L526.6,348.2L526.5,341.2L528.9,340.2M521.4,337.9L523.8,340.9M521.4,337.9L526.8,332.6L528.3,333.1M528.5,348.9L526.6,348.2M519.7,353.6L522.9,351.6L524.5,348.9M519.7,353.6L519.1,353.3M517.4,345.7L520.5,345.1M517.4,345.7L517.2,348.7M522.9,351.6L528.1,355.1L529.7,351M577.6,307.5L584.3,309.1L587.4,303.8L587.2,303.4L577.9,304.6L577.6,307.5L576.7,308.6M586.9,313.1L584.3,309.1M577.4,301.5L577.9,304.6M586.5,298.7L587.2,303.4M588.4,304.2L587.4,303.8M493.6,305.5L484.7,305.3L484.5,299.4L485.4,298.3L490.4,297.6L493.6,305.5L493.6,305.6M484.7,305.3L484.7,305.3L484.2,312.4L487,315L489.5,315M494.4,292.5L490.4,297.6M483.7,291.7L485.4,298.3M476.8,305.2L484.7,305.3M477.3,298.4L484.5,299.4M484.2,312.4L478.2,312.8M463.3,327.1L470.8,327.5L471.6,320.5L471,319.9M478,313L477.4,320.1L471.6,320.5M454.9,306L455.4,306.6M455.7,313.4L456,313.1M455.5,320L455.9,320.4M463,320.6L463,313.7M470.1,313.3L463.9,312.9M232.6,239L232.5,238.8L233.6,231.7L241.2,232.2M203,186.8L201.3,197.2L200.8,197.5L190.2,195.6M228,196.1L225.3,201.2L233.2,208.6L237.7,209.3M241.4,230.5L236.3,222.4L237.3,219.5L246.8,222.3M238.6,210.6L237.1,219.3L237.3,219.5M233.6,231.7L231.5,228.8L236.3,222.4M200.8,197.5L198.3,208.5L188,207.4M270.9,243.8L269.9,252.1L277.5,252.7L278.8,245.2L278.7,245.1L270.9,243.8L270.9,243.8L263.5,243.1M269.8,252.2L269.9,252.1M271.9,236.5L270.9,243.8M279.9,236.9L278.7,245.1M276.9,260.8L277.7,252.9L277.5,252.7M269.4,260L269.1,259.7M421.2,305.5L427.2,305.3L427.6,298.7L420.4,298.3L420.3,298.5L421.2,305.5L420.3,306.4M428.1,306.2L427.2,305.3M414.7,298.7L420.3,298.5M428.1,298.2L427.6,298.7M421.1,291.2L420.4,298.3M478.3,394L479.5,394.3M481.1,402.7L482.1,401.7M477.1,386L482.3,386.9L482.7,392.4M477.1,386L476.1,386.7M482.3,386.9L485.2,384.9L486.7,384.8M488.3,393.5L487.3,393.8M478.6,349.4L475.7,343.5L482.3,342.8L484.3,343.9M478.6,349.4L483.4,349.6M485.7,335.4L478.9,335.9L482.3,342.8M456,342L456.9,341.2L463.6,341.9L466.7,345.1L467.3,346.2L464.2,348.8M497.5,352.8L494.9,357.1L490.9,357.9M499.9,351.9L500,351.9M503.5,359.7L497.9,361.4L494.9,357.1M497.9,361.4L497.3,364.7M501.3,373.8L502.1,372.8L501.5,366.9M470.5,379.2L476,377.8L476.4,370.9L476.2,370.7M477.1,386L478,379.4L480.9,379.1L485.2,384.9M488.6,381.1L486.6,373.6L480.9,379.1M476,377.8L478,379.4M468.1,357.3L470.3,350L474.2,352L475.8,357.1L471.8,359L468.1,357.3L464.8,358.4L463.1,356.6M467.3,346.2L467.5,346.3L470.3,350M476.4,357.4L477.1,363.8L476.4,364.6M476.4,357.4L475.8,357.1M471.2,363.3L471.8,359M483.1,356L482.4,356.8L476.4,357.4M478.6,349.4L474.2,352M467.5,346.3L474.4,342.8L475.7,343.5M466.2,363.9L464.8,359.1L457.9,363.5L461.6,365.4L466.2,363.9L468.2,365.6M464.8,358.4L464.8,359.1M462.1,371.7L461.6,365.4M456.8,363.4L457.9,363.5M457.5,370.7L456,364.3M457.5,370.7L459.1,371.3M442.3,334L448.1,334.3M449.1,327.3L449.2,327.4M456.2,327.7L455.6,328.2M463.3,327.1L463.4,333.9L456.1,334.8M456.9,341.2L455.8,335.3M463.4,333.9L464,334.6L463.6,341.9M409.9,341L406.5,345.1L399.7,345.7L399.1,345.1M408,353.5L406.2,351.8L406.5,345.1M408,353.5L411.3,353.2M407.3,358.7L407,356.1L402.8,357.3L401.1,361.4L405.5,361.4L407.3,358.7L412.3,361.9L415,359.4M408,353.5L407,356.1M353.7,381.3L352.8,376.6L357.4,376L358.3,376.4L357.8,382.7M353.7,381.3L356.1,383.1M356.2,369.3L355.2,369.5L357.4,376M361.7,370.4L363.2,372.3L362.3,374.8L358.3,376.4M395,293L388,292.5L388,292.4L388.5,286.7L389.7,285.7L395,286.2L395,293L395.3,293.3L401.3,293.1M395.3,286L395,286.2M413.4,326.2L407,325.5L407.6,318.9L413.7,319.5L413.4,326.2L414.1,327M406.6,325.7L407,325.5M413.9,319.4L413.7,319.5M407.6,318.9L407.6,318.9M357.8,283.1L358.1,283.4L357.9,290.5L350.8,290.5M357.9,290.5L357.9,290.5L357.2,298.6L350.5,299L350.4,290.9M392.8,276.2L391.2,276.7L389,279.4L389.7,285.7M382.3,285.1L383.2,280L382.3,278.9L376,278.4L375.9,284.7L382.3,285.1L382.4,285.3L388.5,286.7M389,279.4L383.2,280M387.4,311.5L388,305.6L381.2,304.9L380.8,305.4L381.5,311.4L381.9,311.7L387.4,311.5L388.1,312.1M381.2,318.5L381.2,318.4L381.9,311.7M394.1,305.8L393.8,306L388.4,305.3L388.4,299.3L394.6,299L394.8,299.3L394.1,305.8L400.7,306.1M393.9,311.8L393.8,306M400.5,300.5L394.8,299.3M388,305.6L388.4,305.3M387.8,298.8L388.4,299.3M387.8,298.8L382.2,299.3L381.2,304.9M395.3,293.3L394.6,299M387.8,298.8L388,292.5M335.6,388.6L340,388.8L342.1,385.9L341.5,383.5M339.5,394.5L342.2,392.9L340,388.8M351.5,388.2L351.2,394.7L350.3,395.2L345.7,394.6L344.6,393.2L346.6,388.4L348.9,387.2L351.5,388.2L353.1,387.8M356.2,395.5L351.2,394.7M349.8,382L353.7,381.3M349.8,382L348.4,383.5L348.9,387.2M344.7,381.3L348.4,383.5M342.1,385.9L346.6,388.4M342.2,392.9L344.6,393.2M350.5,401.4L350.3,395.2M344.5,399.4L345.7,394.6M311.6,385.5L311.4,394.7L315,396.7L319,392.9L319.1,386.6L318.3,385.8L311.6,385.5L310.7,384.7M319.7,377L312.4,376.4L312.2,376.5M319.7,377L318.3,385.8M326.5,385.9L319.1,386.6M326.1,394.5L319,392.9M320.3,376.6L319.7,377M318.6,404.4L316.4,402.2L315,396.7M265,363L264.7,362.5L256.8,363.1M306.1,360.3L306.1,360.3L297.4,358.4M303.2,375.8L296.6,376.6M297.5,367.2L303.5,367.6M312.4,376.4L311.9,370.2M319.9,368.7L313.1,368.9M314.9,359.5L312.3,360.9M305.9,352.3L314.3,351.1M305.9,352.3L306.1,360.3M305.9,352.3L305.8,352.3M314.7,347.2L313.2,345.1L307.4,344.4L305.7,345.7M321.6,338.7L314.6,338.2L313.2,345.1M315.8,331.9L314.5,338L314.6,338.2M315.8,331.9L316.7,331.1M288.3,357.4L282.2,357.4L281.7,350.2L290.6,350.8L290.7,350.9L288.3,357.4L290.3,360.3M280.5,359.1L280.8,365.5M280.5,359.1L282.2,357.4M296.9,351.7L290.7,350.9M280.8,349.1L281.7,350.2M280.8,349.1L283,343.2L289.6,343.7L290.6,350.8M412.3,361.9L411.6,365.1L407,365.3L405.5,361.4M419.3,361L416.1,367.3L411.9,365.6L411.6,365.1M423.2,366.7L421.3,368.2L417,368.4L416.1,367.3M392.7,367.5L398.5,365.5L398,370.7L394.1,371.3L392.7,367.5L392.3,367.2L388.3,366.8L386.7,371.2M399.4,362.2L399.6,364.1L404.2,368L407,365.3M399.4,362.2L401.1,361.4M223.3,348.3L231.2,350.4L233.4,340.9L232.9,340.1M241.2,353.4L233.2,350.7L231.3,350.5L230,359.3M231.2,350.4L231.3,350.5M244,337.7L242,342.7L242.2,343.2L243,344.4L250.2,346.1L253.2,340.1L251,336.2L244,337.7L240.6,330.9M233.4,340.9L242,342.7M241.3,353.3L243,344.4M233.2,350.7L242.2,343.2M244.3,327.9L252,330L252.8,331.1L251,336.2M246.2,319.8L253,321.7L252,330M246.2,314.8L247.6,313.4L254.9,313.1M256.2,314.9L253.5,321.5L253,321.7M261.6,315.6L262.4,316.5L260.7,324L253.5,321.5M350.6,241.8L341.5,239.7L340.5,240.5L341.1,249.4L350.1,249.9L350.6,241.8L351.4,241L350.7,232L352.2,230.9L359.7,232.7L360.2,240.7L351.4,241M333.4,238.9L340.5,240.5M330.7,249.1L340.5,250L341.1,249.4M330.7,249.1L330,248.1M370.7,213.1L362.3,214.9L360.2,213.1L362.2,204.4M352.9,213.2L353.1,213.5L360.2,213.1M335,221.5L342.5,222.6L343.2,222L342.7,212M353.1,213.5L351.4,221.2L343.2,222M332.5,231.3L342.8,230L342.5,222.6M341.5,239.7L344.2,231.8L342.8,230M382.3,266.5L384.6,266.4L385.2,267L384.9,272.4L383,274L375.7,272.3L375.7,269.8L382.3,266.5L375.6,260.1L374.9,260.5L374.2,268.2L375.7,269.8M394,267.5L385.2,267M394,267.5L394.1,273.7M391.2,276.7L384.9,272.4M382.3,278.9L383,274M374,275.9L376,278.4M374,275.9L375.7,272.3M359.4,259.4L359.9,258.8L367.6,260.2L366.8,267.4L366,268.2L360.7,267.9L360.6,267.8L359.4,259.4L352.5,260.5L352.2,266.1M353,267.3L360.6,267.8M374.2,268.2L366.8,267.4M374.9,260.5L368.5,259.6L367.6,260.2M358.6,275.1L360.7,267.9M367.5,276.8L359,275.8M367.5,276.8L366,268.2M374,275.9L367.8,277.2L367.5,276.8M359.8,250.2L360.1,250.6L368.6,251.8L369.8,250.9L370,243L368,241.2L361.1,241.6L359.8,250.2L350.8,250.5L350,258.2L352.5,260.5M359.9,258.8L360.1,250.6M368.5,259.6L368.6,251.8M380.9,253.4L375.6,260.1M380.9,253.4L379.8,252.6L369.8,250.9M379.8,252.6L376.4,242.6L370,243M378.3,240.3L377.2,233.4L370.7,232.5L368,241.2M378.3,240.3L376.4,242.6M380.9,253.4L381.7,253.4L385.4,258.3L384.6,266.4M386.2,241.5L378.3,240.3M386.2,241.5L385.8,249.7L381.7,253.4M394.4,267.1L394.3,259.2L394.9,258.5L403.1,258.7L403.6,259.2L402.9,267L394.4,267.1L394,267.5M385.4,258.3L394.3,259.2M403.9,268.1L402.9,267M411.9,259.3L403.6,259.2M394.8,250.1L394.9,258.5M394.8,250.1L385.8,249.7M403.6,250.3L403.1,258.7M394.9,250L394.8,250.1M386.2,241.5L387.2,240.4L386.7,232.5L378,232.7L377.2,233.4M395.6,241.4L395.3,241.1L387.2,240.4M298.5,230.3L295.1,238.8L302.5,240.2L302.9,239.9M287.8,236.4L294.7,239L295.1,238.8M311.4,247.1L311.2,247.4L306.6,247.8L302,247.2L302.5,240.2M306.6,247.8L306.1,255.8L301.7,255.2L301.8,247.5L302,247.2M277.7,252.9L285.5,253.9M278.8,245.2L286.2,246.2M287.6,236.5L286.3,246.1M294.7,239L294,247M301.7,255.2L301.2,255.6L293.6,254.7L293.4,254.4M301.8,247.5L294.3,247.3M264.1,307.2L270.1,308.7L271.8,307.6L272.8,299.9M343.9,291.1L343.2,296.8L341.9,297.8L334.6,296L335.4,290.1L336.1,289.5M307.4,344.4L307,336.5L307.7,335.9L314.5,338M315.8,331.9L307.9,329.9L307.7,335.9M316.8,319.6L316.5,326.1L309.1,326.4L310.6,318.5L316.8,319.6L318.3,318.7M317,326.7L316.5,326.1M310.1,311.4L319.2,311.9L317.8,303.1L325.7,303.2L327.1,304.8L325.5,311.3M310.1,311.4L309.8,317.4L310.6,318.5M270.4,428L267,434.6L269.1,437.6L277.2,435.9L276.4,429.8L275.1,428.4L270.4,428L269.7,427.3L260.3,426.9L261.4,418.2L268.3,420.3L269.7,427.3M278,437.2L277.2,435.9M287.4,429L288.1,430M287.4,429L276.4,429.8M268.7,444.4L269.1,437.6M259.9,435.5L267,434.6M254.9,380.7L254.1,387.6L248.5,388.4L245.9,383.5M264.2,381L254.4,387.9L254.1,387.6M259.4,427.7L260.3,426.9M308.8,413.2L307.8,412.2L297.9,412.6L297.7,419.1M274.9,384.2L270.1,391.5L264.4,389.6L265.2,381.7M279.8,391.3L272.1,395L270.1,391.5M271.8,416.9L269.7,410.4L279.8,410.6L276.7,418.1L271.8,416.9L268.3,420.3M275.1,428.4L278.5,420.8L276.7,418.1M287.4,429L286.5,420.7L278.5,420.8M296,420.3L286.9,420.2L286.5,420.7M297.6,412.3L298.1,404.6L290.1,402.2L289.2,402.9L286.8,411.4L287,411.7L297.6,412.3L297.9,412.6M286.9,420.2L287,411.7M279.8,410.6L280.3,410.2L286.8,411.4M279.4,401.1L277.8,401.9L280.3,410.2M279.4,401.1L289.2,402.9M286.6,391.9L290.3,393.9L290.1,402.2M283.4,392.8L279.4,401.1M227.9,455.9L230.3,448.8L231.5,448.1L237.6,451.4L236.9,461.6L235.4,461.9L227.9,455.9L224.4,456.1M221.2,445.9L230.3,448.8M229.7,467.8L235.4,461.9M242.5,463.4L236.9,461.6M240.6,449L237.6,451.4M233,441.1L231.5,448.1M255.5,498L250.1,496.8L249.3,488.9L253.5,485.8L258.1,491.1L255.5,498L256.3,499M243.6,487.5L249.3,488.9M249.6,496.9L250.1,496.8M262.9,489.5L258.1,491.1M254,480.4L253.5,485.8M273.2,504.5L267.2,507.5M265.9,496.6L263.2,498.9M247.1,506.6L256.1,506.6M266.7,514.4L263,518.6M266.7,514.4L265.8,509.3M276.3,516.1L273.4,517.7L266.7,514.4M245.1,513L247,516.1L252,516M197.6,494L199.3,492.4M197.6,494L198.9,502.2M208.5,495.4L208.1,494.1M202.6,475.1L199.7,483.1M211.3,485.5L209.7,486.5M192.7,482.4L182.6,480.5M316.6,512L311.4,511.9L310.1,520.4L317,521.2L319.3,519L318.5,513.7L316.6,512L319.4,504.4M310.9,511.5L311.4,511.9M325.8,511.5L318.5,513.7M325.5,520.7L319.3,519M305.7,523.8L310.1,520.4M317.8,528.3L317,521.2M273.4,517.7L272.9,524.6L268.8,527.7L262.1,522.2M280.8,527L280.2,527.1L272.9,524.6M282.3,552.6L283.9,548.6M295.9,539.1L287.2,536.7M286.7,531.3L286.7,536.1M280.2,527.1L276.4,534.1L280.8,537.4M268.8,527.7L268.3,530.8L271.1,534.9L276.4,534.1M256.3,524.8L256,525.2L259.6,534.2L268.3,530.8M234.7,535.5L241.9,530.8L238.6,522.8L234.8,522M247,516.1L244.5,520.8L249.6,527.5L256,525.2M244.5,520.8L238.6,522.8M346.5,495.2L347.9,494L357,496.6L356.8,500.8L347.4,504.1L346,501.4L346.5,495.2L342.4,493.6M348.9,486.2L349.2,486.7L347.9,494M337.2,498.7L346,501.4M346.3,507.4L347.4,504.1M376.4,483.3L375.4,484.5L375.1,494.9L376.8,496.6M349.2,486.7L355.8,488.1L357.2,496.3L357,496.6M356.8,500.8L358.4,502.6L365.9,502.9L367,493.5L366.3,493L357.2,496.3M347.3,510.9L358.5,512L358.4,502.6M374.8,504L369.2,505.5L365.9,502.9M375.1,494.9L367,493.5M385.7,513L384.6,514.3L375.8,517L375.6,516.6L376.7,506.1M369.2,505.5L366.7,511.8L375.6,516.6M358.8,512.5L358.5,512M358.8,512.5L365.2,512.7L366.7,511.8M394,514.3L394,522.9L385.1,523.4L384.6,514.3M404.5,521.8L395.9,525.5L394,522.9M401,550.7L399.8,548.6L401.9,540L405.5,538.5M435.4,469.3L435.7,469.8L435.5,473.9L433.3,476.1M441.1,480.5L440.1,474.9L435.5,473.9M419.4,521L424.8,518.1L426.9,520.5L425.5,526.3M431.9,521.5L431.4,520.9L426.9,520.5M431.9,521.5L432.5,523.9M419.7,507.2L426.4,508.2L424.7,514.3L419,512.5M424.7,499.8L426.3,500.4L428.2,507.2L426.4,508.2M424.8,518.1L425.4,515.6L424.7,514.3M431.4,520.9L431.9,514.5L425.4,515.6M435.8,499.2L436,494L432.7,492.5L430.9,493.9L429.9,499L432.9,500.2L435.8,499.2L439.5,501.2L440.9,500.6L442.1,495M440.1,492.4L436,494M426.3,500.4L429.9,499M426,492.8L430.9,493.9M431.9,487.3L432.7,492.5M452.3,478.1L452.2,477.7L455.9,474.3L460.1,476.3L458.6,482.3L457.9,482.6L452.3,478.1L451.4,479.9M454.1,486.9L456.1,486.5L457.9,482.6M449.4,469.3L447.8,475.1L447.4,475.2L442.7,473L442.1,468.3L442.2,468L445.1,467L449.4,469.3L452.1,468.1M456,471L455.9,474.3M452.2,477.7L447.8,475.1M446.5,462L445.1,467M435.7,469.8L442.1,468.3M440.1,474.9L442.7,473M443.7,480.6L447.4,475.2M439,462.3L442.2,468M404.7,436.2L403.4,438.4L398.6,435.6L399.7,432.2L403.7,431.8L404.7,436.2L409,436.5M404.2,441.7L403.4,438.4M404.4,431.4L403.7,431.8M395.4,438.7L398.6,435.6M398.4,430.5L399.7,432.2M402,379L399.1,377.6L400.6,371.9L404.1,370.5L406.3,372.5L405.1,378.1L402,379L401.7,384.7M396,378.3L399.1,377.6M407.7,380.1L405.1,378.1M407.7,380.1L406.6,384.3M394.1,371.3L392.8,374.2M398,370.7L400.6,371.9M398.5,365.5L399.6,364.1M404.2,368L404.1,370.5M411.9,365.6L410.2,372.4L406.3,372.5M427.1,449.2L420.1,449L419.5,448.4L420,443.8L421.6,442.2L427.2,443.8L427.1,449.2L428.4,450.9M420.9,454.4L420.1,449M429.1,442.5L427.2,443.8M421.5,439.5L421.6,442.2M414.2,449.7L419.5,448.4M413.7,442.1L420,443.8M439.5,501.2L438,506.1L433.2,507.3L432.9,500.2M428.2,507.2L432,508.3L433.1,513.4L431.9,514.5M433.2,507.3L432,508.3M451.6,558.4L457.6,556.7L460.5,559.5L460.8,565.2M472.8,562.4L466.9,557.8L460.5,559.5M472.8,562.4L471.5,567.2M450.3,547.6L458.3,551.3L457.6,556.7M457.9,540L456.5,539.6M457.9,540L460.6,548.9L458.3,551.3M581.7,422L576.9,421.6L575.4,422.3L574.6,427.1L579,430.1M581.7,422L583.7,427.5M584.5,419.9L581.7,422M579.9,412L576.9,421.6M573.1,428L574.6,427.1M570.3,418.3L575.4,422.3M570.3,418.3L565.5,422.4L566.6,427.5M570.3,418.3L569.8,414.9L571,412.9M569.8,414.9L561.3,413.7L564.2,422L565.5,422.4M562.8,406.1L561.2,413.7L561.3,413.7M550.6,422.7L551.4,428.1L557.1,429.7L558.4,428.8L558.1,422.8L557.4,422L550.6,422.7L549.3,421.8L543.8,425M548.3,431.1L551.4,428.1M554.9,436.4L557.1,429.7M564.2,422L558.1,422.8M557.6,414.8L561.2,413.7M557.6,414.8L557.4,422M563.9,430.6L558.4,428.8M510.2,457.1L510.1,457.2L508.8,463.6L512.4,466.6M503,449.4L505.3,455L500.1,456.9L494.4,454.6M505.3,455L510.1,457.2M511.7,483.9L505.6,484.9L506.1,475.1L513.1,475.4M456.1,486.5L458.7,489.2L464.3,488.9L464.4,483.4L458.6,482.3M483.5,464.7L478.6,466.3L475.9,463.5L476.8,457.8L477.2,457.5L483.4,457.3L483.5,464.7L489.2,467.9L488.1,471.7M480.6,474.6L478.6,473.1L478.6,466.3M492.5,465L491,457.4M492.5,465L489.2,467.9M485.9,455.8L483.4,457.3M478,448.7L477.2,457.5M468.5,454.7L476.8,457.8M464.4,483.4L465.7,482.1L471.6,482.2L471.8,482.3L471.9,486.9L465.1,489.9L464.3,488.9M464.6,458.1L467.1,465.1L470.2,465.8L475.9,463.5M478.6,473.1L473.9,473.4L470.2,465.8M480.8,480.9L479.8,482L471.8,482.3M471.6,482.2L471.8,474.9L473.9,473.4M479.8,482L479.8,488.1L473.1,488.6L471.9,486.9M565.9,383L565.9,383L571.5,381.2L571.6,380.9L570.1,376L565.3,374.5L562.6,376.9L565.9,383L567,389.4M561.5,390.1L559.8,385.2L565.9,383M572.9,388.9L571.5,381.2M576.6,380.4L571.6,380.9M572.8,373.4L570.1,376M565,369.8L565.3,374.5M550.9,382.3L550.6,377.6L552.8,376.3L557.6,375.7L559.8,377.2L557.7,383.7L554.8,384.5L550.9,382.3L547.7,384.4L544.8,383.2L539.5,385.6L542.1,391.1L547,389.9L547.7,384.4M555.3,391.5L554,389.3L554.8,384.5M559.8,385.2L557.7,383.7M562.6,376.9L559.8,377.2M557.5,371.9L557.6,375.7M552.4,369.6L552.9,369.4M552.4,369.6L552.8,376.3M510.8,393.4L512.6,392.3L513.8,385.9L505.6,386.3L510.8,393.4L508.8,397.1M505.4,386.2L501.5,386.1M505.4,386.2L505.6,386.3M557.5,405.6L554,409.3L555.1,413.5L557.6,414.8M549.3,421.8L548.4,416.5L555.1,413.5M554,389.3L547.1,390L550.5,397.1L552,398.6L553.8,398.2M554,409.3L549.2,406.1L548.8,402.4L552,398.6M519.7,353.6L521,357.1L526.5,358.6L528.2,357.9L528.1,355.1M502.1,372.8L507.2,371.3L509,369.8L509.2,369.1L504.9,364.6M501.7,377.3L509.6,378.9L507.2,371.3M505.4,386.2L510.5,379.4L509.6,378.9M509.4,359.6L512.2,361.2L511.9,366.9L509.2,369.1M515.8,354.4L513.6,360.8L512.2,361.2M521,357.1L518.3,361.6L513.6,360.8M549.5,363.3L548.2,365.6L542.4,363.3L542.8,359.6M552.4,369.6L548.1,368.8L545.1,372L546.8,375.4L550.6,377.6M548.1,368.8L548.2,365.6M542.4,363.3L539.5,366.5L542,371.3L545.1,372M517.4,345.7L513.7,342.5L509.5,344.4L510.4,351.3M637.2,265.2L632.2,259.9L632.3,256.2L636.6,253.9M626,268L626.2,264.1L632.2,259.9M617.7,266.1L622.9,260.2L626.2,264.1M616,256L611.5,246.7L607.3,248L606.3,255.3L609.3,257.4L616,256L618.3,256.8L615.2,263.4M610.7,263.8L609.3,257.4M603,257.1L606.3,255.3M605.3,246.7L607.3,248M615.3,243.7L611.5,246.7M600.3,295.3L606,293.1L600.7,286.4M600.3,295.3L603,301.7L607.4,298.6M597.9,295.4L600.3,295.3M602.5,302.3L598.6,302.5M602.5,302.3L603,301.7M604.9,307.8L599.2,309.8L599.2,314.5L601.2,315.3L606.8,313.1M602.5,302.3L604.9,307.8M596.2,306.8L599.2,309.8M602.6,320.7L601.2,315.3M596.7,315.5L599.2,314.5M625.4,189.9L623.2,199.9L620.5,201.2L619.3,200.6L615.5,190.4M631.5,200.4L623.2,199.9M621.2,208.2L620.5,201.2M611,209.9L614.1,201.6L619.3,200.6M597.4,194L599.7,202.9L603.8,204.8L608.6,199.2L608.1,194.4M590.3,207.9L599.7,202.9M605.6,209.4L603.8,204.8M614.1,201.6L608.6,199.2M477.6,320.3L478.7,326.4L482.3,326.6L485.5,323.7L484.3,319.8L477.6,320.3L477.4,320.1M487,315L484.3,319.8M495.1,322.3L495.3,322M488.9,325.1L485.5,323.7M485.5,331.1L484.2,330.3L482.3,326.6M232.8,287.1L241.4,288.1L240.7,295.8L231.4,295.3M210.6,211.4L210.1,210.9L210.8,199.9L212.5,198.8L223.4,202.4L220.7,211L210.6,211.4L210.2,222.8L202.7,228M202.1,228.1L197.2,220.9L199.8,210.5L210.1,210.9M201.3,197.2L210.8,199.9M198.3,208.5L199.8,210.5M215.3,188.5L212.5,198.8M225.3,201.2L223.4,202.4M233.2,208.6L226.8,214.2L229.9,218.2L237.1,219.3M220.7,211L222,213L226.8,214.2M210.2,222.8L219.4,224.3L222,213M229.1,228.5L224.6,225.4L220.1,225L218,239.7L218.3,239.9L224.1,237.8L229.1,228.5L231.5,228.8M229.9,218.2L224.6,225.4M232.5,238.8L224.1,237.8M220.8,245.2L218.3,239.9M219.4,224.3L220.1,225M215.6,239.7L218,239.7M197.2,220.9L186.5,218.9M244.3,264.2L245.1,265.2L252.5,265.6L253.2,257.9M236.1,271.5L243.3,272.5L243.8,272.2L245.1,265.2M234.6,279.3L242.5,280.6L243,280.2L243.3,272.5M241.4,288.1L241.4,288.1L242.5,280.6M243.8,272.2L251.3,273.7L250.1,281.1L243,280.2M265.4,291.1L265.4,291.1L257.5,290.1L256.4,297.9L256.4,297.9L250.4,297.1L249.4,290.4L249.5,289.1L241.4,288.1M274.2,284.1L274.6,284.6L281.9,284.9L283.2,277.6L282.8,277.1L275.2,276.2L274.7,276.6L274.2,284.1L266.2,283.6L266.1,283.6L265.4,291.1M273.1,292.3L273.4,292L274.6,284.6M267.4,275.6L274.7,276.6M267.4,275.6L267,275.9L266.2,283.6M267.4,275.6L268.2,267.7L268.4,267.7M275.7,268.8L275.2,276.2M283.9,269.3L284.2,269.6L282.8,277.1M477.3,335.1L475.3,337.8L469.8,337.3L468.3,334.5L472.9,329.9L475.1,330.5L476.9,333.6L477.3,335.1L478.9,335.9M474.4,342.8L475.3,337.8M484.2,330.3L476.9,333.6M466.7,345.1L469.8,337.3M478.7,326.4L475.1,330.5M470.8,327.5L472.9,329.9M464,334.6L468.3,334.5M482.5,370.7L486.6,373.4L488.1,372.7L489.9,364.6L489.5,363.8L483.2,363.1L482.7,363.6L482.5,370.7L476.4,370.9M486.6,373.6L486.6,373.4M477.1,363.8L482.7,363.6M492.4,373.3L488.1,372.7M496.2,365.4L489.9,364.6M490.7,358L489.5,363.8M482.4,356.8L483.2,363.1M386.1,351.8L385.8,357.7L379.6,357.7L379.6,350.9L386.1,351.8L386.5,351.5L386.6,344.7M379.6,350.9L379.6,350.9M379.4,357.8L379.6,357.7M380.6,365.3L385.9,364L387.4,359.8L385.8,357.7M385.9,364L388.3,366.8M392.9,351.5L392.7,351.8L393.4,358.8L394.2,359.3L395.9,359.5L399.7,354.8L400.1,351.5L399.8,351.2L392.9,351.5L393.2,344.8M386.5,351.5L392.7,351.8M399.7,345.7L399.8,351.2M387.4,359.8L393.4,358.8M406.2,351.8L400.1,351.5M402.8,357.3L399.7,354.8M399.4,362.2L395.9,359.5M392.3,367.2L394.2,359.3M345.7,367.6L352.8,367.9L353.7,369.1L351,375.4L349.1,375.8L345.2,375.1L345.7,367.6L345.5,367.4M354.3,360.7L352.8,367.9M345.1,375.1L345.2,375.1M349.8,382L349.1,375.8M355.2,369.5L353.7,369.1M352.8,376.6L351,375.4M359.3,383.4L364.9,380.5L364.8,379.1L362.3,374.8M367.3,387.3L368.7,383.8L364.9,380.5M374.5,384.8L369.2,383.6L368.7,383.8M368,370.9L367.5,371.3L368.8,376.5L372.1,377.8L373.7,376.8L372.7,371.1L372,370.5L368,370.9L366.2,363.6M363.2,372.3L367.5,371.3M373.6,364.4L372,370.5M364.8,379.1L368.8,376.5M380,371L372.7,371.1M375.9,377.7L373.7,376.8M369.2,383.6L372.1,377.8M373.8,324.8L372,322.3L373.4,317.8L381.2,318.4M367.3,331L369.6,323L372,322.3M342.4,305.4L348.8,305.4L349.1,313L347.7,314.3M388,292.4L382.3,292.2L381.7,298.7L382.2,299.3M382.4,285.3L381.4,291.5L382.3,292.2M304.4,385L302.4,386.6L309,395L311.4,394.7M295.7,383.5L298.7,387.8L297.1,391.4L290.3,393.9M298.7,387.8L302.4,386.6M250.2,346.1L251.2,347.6L249.8,354.4M272.9,364.8L273.1,357.1L265.9,358.3L264.7,362.5M280.5,359.1L273.6,356.6L273.1,357.1M268.3,325L261.3,325.1L259.1,331.1L259.6,331.6L268.3,332.5L268.4,332.4L268.3,325L268.5,324.9L269.2,317.5L262.4,316.5M252.8,331.1L259.1,331.1M260.7,324L261.3,325.1M410.2,372.4L411.2,373.2L415.9,372.4L417,368.4M407.7,380.1L412.1,379.6L411.2,373.2M413.6,384.3L412.3,379.8L412.1,379.6M426.2,379.3L425.9,379.1M412.3,379.8L417.6,377.7M415.9,372.4L418.3,375M421.3,368.2L421.5,373.9M429,374.8L428.9,377.6M427.3,371.3L421.6,374M345.4,259.5L339.9,256.8L337.6,258.5L337,266.1L337.2,266.3L343.9,266.5L345.4,259.5L350,258.2M350.8,250.5L350.1,249.9M340.5,250L339.9,256.8M344.7,267.2L343.9,266.5M336.1,272.8L337.2,266.3M330,256.8L337.6,258.5M330,256.8L330.7,249.1M370.4,223.5L370.2,231.9L361.3,231.3L361.5,223.3L362.7,222.1L370.4,223.5L371.5,222.7M378,232.7L378.9,223.9M370.7,232.5L370.2,231.9M362.3,214.9L362.7,222.1M351.4,221.2L352.6,222.7L361.5,223.3M361.1,241.6L360.2,240.7M361.3,231.3L359.7,232.7M352.6,222.7L352.2,230.9M344.2,231.8L350.7,232M386.5,223.9L387,224.5L387,232.2L386.7,232.5M395.7,215.9L396.1,224.1L387,224.5M300.1,263.2L292.8,262.2L292.4,262.5L291.6,270.1L291.9,270.5L299.6,270.8L300.1,263.2L300.3,263.1L301.2,255.6M293.6,254.7L292.8,262.2M284.7,261.2L292.4,262.5M284.2,269.6L291.6,270.1M301.3,312.2L293.6,310.2L295.9,302.6L295.9,302.6L302.3,311.3L301.3,312.2L300.9,319.2L309.8,317.4M310.1,311.4L307.8,308L302.3,311.3M268.4,332.4L275.7,332.8L275.6,325.9L268.5,324.9M270.1,308.7L269.9,317L269.2,317.5M334.3,304.6L333.7,304.1L334.2,296.5L334.6,296M341.9,297.8L341.3,304.5M333.7,304.1L327.1,304.8M300,328.1L307.6,329.2L309.1,326.4L300.9,319.3L300.6,319.5L300,328.1L299.3,328.6L298.5,335.9L300.1,337.6L307,336.5M300.9,319.2L300.9,319.3M309.1,326.4L309.1,326.4M307.9,329.9L307.6,329.2M246.8,390.4L247.3,396.4L245.9,397.6L237.2,398.3L238.9,390.4L246.8,390.4L248.5,388.4M236.3,386.9L238.9,390.4M236.8,398.7L237.2,398.3M245.5,405.3L241.9,407.1M245.5,405.3L245.9,397.6M298.2,404.5L306.4,404.8L306.6,404.5L306,397.1L300.3,396.2L298.2,404.5L298.1,404.6M307.8,412.2L306.4,404.8M297.1,391.4L300.3,396.2M309,395L306,397.1M316.4,402.2L306.6,404.5M269.7,410.4L268.9,409.6L274.1,401L277.8,401.9M272.1,395L272.2,398.4L274.1,401M196.9,503.6L188.8,500M197.6,494L190.8,492.8M193,482.8L189.7,490.8M254.2,535.7L248,530.8L246.2,532L245.1,541.3L248.9,542.9L250.2,542.7L254.2,535.7L259.5,534.4L259.6,534.2M249.6,527.5L248,530.8M256.9,545.9L250.2,542.7M256.9,545.9L261.9,543L259.5,534.4M242.8,541.9L245.1,541.3M248,549.8L248.9,542.9M241.9,530.8L246.2,532M264.9,553.3L264.5,543.7L270.4,542.6L270.7,542.9L273.2,551.4L280.9,553.2M277.7,542.4L270.7,542.9M261.9,543L264.5,543.7M271.1,534.9L270.4,542.6M256.9,545.9L256.4,551.6M367.9,485.2L365.5,488L358.9,485.5L358.8,477L365.9,478L367.9,485.2L375.4,484.5M366.3,493L365.5,488M369.3,475.8L365.9,478M355.8,488.1L358.9,485.5M357.8,475.9L358.8,477M344.2,531.7L353.5,532.2L357,538.2L355,540.3M345.7,519.4L356.1,523.2L353.5,532.2M358.8,512.5L356.3,523.1L356.1,523.2M399.8,548.6L391.1,546L391.4,538L389.5,535.5L389.6,534.2L395.9,526.9L397.9,528.8L399.9,538.6L391.4,538M493.6,483.6L495.5,491.6L492.4,492.9L486.7,490.4L488,482.7M466.9,557.8L469,549.1L468.7,548.5L460.6,548.9M483.3,569.5L485.1,568L491.9,569.6M448.7,499.9L452.7,501.3L451.9,507L451.2,507.8L445.2,507.4L444.9,502.1L448.7,499.9L447.2,495.3M440.9,500.6L444.9,502.1M431.9,521.5L437.8,518.6L436.1,514.5L433.1,513.4M437,525.6L439.6,520.1L437.8,518.6M506.2,465.2L499.9,463.2L494.5,465.5L500.5,473.7L503.4,473.2L506.2,465.2L508.8,463.6M500.1,456.9L499.9,463.2M506.1,475.1L503.4,473.2M498.5,475.9L500.5,473.7M498.1,480.6L504.4,485.9L505.6,484.9M492.5,465L494.5,465.5M452.7,492.9L456,495.6L455.4,499.8L452.7,501.3M458.7,489.2L457.3,494.5L456,495.6M466.5,474L465.7,467.1L460,468.8L462.7,475.6L464.4,475.9L466.5,474L471.8,474.9M467.1,465.1L465.7,467.1M465.7,482.1L464.4,475.9M459.9,468.7L460,468.8M460.1,476.3L462.7,475.6M486.7,490.4L482.4,491.7L481.5,491.1L479.8,488.1M472.5,493.3L474.4,494.2L481.5,491.1M472.5,493.3L473.1,488.6M477.6,507L472.4,504.5L472.2,502L475.9,498.4L479.2,499L477.6,507L477.8,507.2L485.6,504.5L481.1,498.4L479.2,499M524.7,422.1L524.9,419.9L518.9,413.8L516.1,415.3M533.6,424L531.5,414.6L528.4,414.4L524.9,419.9M514.1,407L520.7,409.6L522.3,408.6L520.5,401.9L518.6,400.5L518.2,400.3L517.9,400.4L514.1,407L511.3,407.5M518.9,413.8L520.7,409.6M509.9,398.4L517.9,400.4M523.8,396.3L526.6,399.5L520.5,401.9M523.8,396.3L518.6,400.5M525.3,408.8L522.3,408.6M525.3,408.8L528.4,414.4M519,392.8L521.1,391.6L522.1,391.9L523.8,396.3M519,392.8L518.2,400.3M519,392.8L512.6,392.3M532.6,390.3L537.1,392.5L535.6,397.5L535.1,397.9L530.4,394.3L530.2,392.5L532.6,390.3L533.5,385.3L527.2,383.7L526.3,391.2L522.1,391.9M526.3,391.2L530.2,392.5M527.3,399.6L526.6,399.5M527.3,399.6L530.4,394.3M541.7,391.8L537.1,392.5M541.7,391.8L542,395.5L541.6,396.8L535.6,397.5M527.3,399.6L529.2,402.6L534.8,401.3L535.1,397.9M525.3,408.8L528.3,406L529.2,402.6M549.2,406.1L547.1,408.6L545.9,415L548.4,416.5M511.9,366.9L516.2,368.4L519.8,364.4L518.3,361.6M526.5,358.6L524.5,365.1L523.1,365.7L519.8,364.4M513.8,385.9L514.2,385.3L512.5,379.3L510.5,379.4M521.1,391.6L520.3,386.1L514.2,385.3M524.5,365.1L528.5,366.3L530.5,372.1L526.5,374L523,371.7L523.1,365.7M517.2,328.2L516.3,335.9L516.9,335.9L524.1,330.2L523.3,327.4L521.6,326.8L517.2,328.2L510.9,323.4L509.6,330.8L504.1,333.5L502,330.2L502.5,323.1L509.9,322.4L510.7,323L510.9,323.4M526.9,324.4L523.3,327.4M519.2,319.2L521.6,326.8M521.4,337.9L516.9,335.9M515.4,336.4L516.3,335.9M515.4,336.4L515.2,336.6L513.7,342.5M526.8,332.6L524.1,330.2M515.4,336.4L509.6,330.8M497.1,330.8L502,330.2M499.2,321.2L502.5,323.1M509.4,312.5L509.9,322.4M519,319.2L510.7,323M501.8,350.2L504.5,344.1M509.5,344.4L507.3,343.9M515.2,336.6L507.4,337M504.1,333.5L504,334M628.9,249.9L629.6,254.6L621.2,256.3L621,256.2L621.1,247.4L628.9,249.9L634.1,242.3M632.3,256.2L629.6,254.6M620,244.9L621.1,247.4M622.9,260.2L621.2,256.3M618.3,256.8L621,256.2M240.9,296L242.2,296L248.9,298.2L247.5,304.9L247.3,305.1L240.6,304.8L240.5,304.6L240.9,296L240.7,295.8M249.4,290.4L242.2,296M230.5,302.4L240.5,304.6M250.4,297.1L248.9,298.2M255.2,306.3L247.5,304.9M247.6,313.4L247.3,305.1M238.8,311.8L240.6,304.8M252.8,265.9L251.8,273.3L259.3,274.9L259.7,274.6L260.6,266.9L260.4,266.6L252.8,265.9L252.5,265.6M251.3,273.7L251.8,273.3M261.5,259.4L260.4,266.6M268.2,267.7L260.6,266.9M267,275.9L259.7,274.6M250.3,281.4L249.8,288.9L257.3,289.8L258.6,282.4L258,281.8L250.3,281.4L250.1,281.1M249.5,289.1L249.8,288.9M259.3,274.9L258,281.8M257.5,290.1L257.3,289.8M266.1,283.6L258.6,282.4M288.4,293.5L281.8,292.6L281.4,293L280.7,300.7L281.3,301.4L285.1,302.8L287.1,301.5L288.4,293.5L289.2,293.1L296.1,295.7L295.6,302.1L287.1,301.5M273.4,292L281.4,293M281.9,284.9L282.2,285.2L281.8,292.6M272.8,299.8L280.7,300.7M277,309L271.8,307.6M277,309L281.3,301.4M277,309L277.9,310.2L286.3,309.4L285.1,302.8M295.6,302.1L295.9,302.6L304.3,303.2L307.9,307.4L312.5,303.6L310.6,296L305.6,295.3L305.5,295.4L304.3,303.2M292.3,311.2L293.6,310.2M292.3,311.2L286.9,310.2L286.3,309.4M437.4,384.5L436.5,379.4L441,377.8L443.9,379L442.4,384.1M431.6,378.6L435.5,378.6L436,373.8L434,371.9M435.5,378.6L436.5,379.4M441.6,366.9L439.7,368L439,372.3L441,374.1L446.6,371.7L445.3,368.2L445,367.8L441.6,366.9L440.6,362.9M433.3,367.1L439.7,368M448.2,361.5L445,367.8M436,373.8L439,372.3M441,377.8L441,374.1M453.6,364.7L452.3,366.4L445.3,368.2M448,379.8L454.4,378.4L452.7,373L451.7,372.5L447.4,372.5L446.2,378.3L448,379.8L448.4,383.6M456.2,379.8L454.4,378.4M443.9,379L446.2,378.3M446.6,371.7L447.4,372.5M452.3,366.4L451.7,372.5M457.5,370.7L452.7,373M363.4,322.6L363.7,322.3L363.9,315.5L356.7,314L356.6,314L355.5,320.5L356.6,321.8L363.4,322.6L362.5,329.9M369.6,323L363.7,322.3M355.6,329.4L356.6,321.8M348.9,321.6L355.5,320.5M349.1,313L356.6,314M381.5,311.4L373.9,312.1L372.5,315.7L373.4,317.8M380.8,305.4L374.9,305L372.7,306.6L373.9,312.1M363.9,315.5L365.6,314.3L372.5,315.7M348.8,305.4L348.9,305.4L357.8,307.1L356.7,314M343.2,296.8L350.3,299.2L348.9,305.4M350.3,299.2L350.5,299M365.6,314.3L365.4,306.9L368.8,305.5L372.7,306.6M381.7,298.7L375.6,297.6L375.6,291.8L381.4,291.5M374.9,305L375.1,298L375.6,297.6M280.8,349.1L274.2,349.5L273.7,349.8L273.6,356.6M253.2,340.1L258.9,340.8L258.6,348.3L251.2,347.6M268.3,332.5L267.2,340.3L266.7,340.8L260.7,339.6L259.6,331.6M258.9,340.8L260.7,339.6M258.4,354.7L259.2,349L266.6,348.4L265.1,357.1L258.4,354.7L256.5,356.2M258.6,348.3L259.2,349M265.9,358.3L265.1,357.1M273.7,349.8L267.4,347.8L266.6,348.4M267.4,347.8L266.7,340.8M275.8,332.9L283.1,333.8L281.9,341.4L275.4,341.2L274.3,340L275.8,332.9L275.7,332.8M267.2,340.3L274.3,340M283,343.2L281.9,341.4M274.2,349.5L275.4,341.2M336.3,281.6L328.9,281.9L328,287.9L335.4,290.1M335.3,273.6L330.1,273.7L328.9,281.8L328.9,281.9M330.1,273.7L328.5,272.7L322.9,273.7L322.5,279.8L328.9,281.8M298,286.9L298.7,279.3L291.2,278L290.7,278.5L290.1,286L290.3,286.2L298,286.9L297.3,294.7L296.1,295.7M289.2,293.1L290.3,286.2M298,286.9L298,286.9L305.9,287.7L306.2,287.5L306.8,280.1L306.3,279.6L299.1,279.1L298.7,279.3M282.2,285.2L290.1,286M283.2,277.6L290.7,278.5M291.9,270.5L291.2,278M299.6,270.8L299.6,270.9L299.1,279.1M404.2,224.5L396.4,224.5L395.6,232.4L396.2,233.2L403.9,233.3L404.2,224.5L404.6,224.2M396.1,224.1L396.4,224.5M404.4,233.8L403.9,233.3M387,232.2L395.6,232.4M395.3,241.1L396.2,233.2M275.6,325.9L277.4,324.1L277,317.8L269.9,317M277.9,310.2L278,317L283.6,317.2L286.9,310.2M278,317L277,317.8M299.2,343.7L299.1,343.6L300.1,337.6M289.6,343.7L290.5,342.7L299.1,343.6M251,424.7L251.4,417.6L260.3,416.4L261.4,418.2M245.5,405.3L252.5,406.1L250.2,416.4L246.8,415.8M251.4,417.6L250.2,416.4M264.4,389.6L261.7,391L264,400L272.2,398.4M254.4,387.9L257.6,390.9L254.4,399.6L247.3,396.4M257.6,390.9L261.7,391M380.9,539.7L389.5,535.5M401.9,540L399.9,538.6M406.9,531.6L397.9,528.8M385.1,523.4L380.6,526.6L389.6,534.2M395.9,525.5L395.9,526.9M492.4,492.9L490.3,498.9L482.4,495.5L482.4,491.7M475.9,498.4L474.4,494.2M481.1,498.4L482.4,495.5M457.9,540L465.4,536.3L470.2,541.3L468.7,548.5M504.4,485.9L503.4,489.9M495.5,491.6L498.6,492.3M442.4,528.3L445.9,524L445.7,522.9L442.9,519.8L439.6,520.1M449.2,532.9L450.5,526.4L445.9,524M456,531.3L454,534.5M456,531.3L454.8,526.1L453.6,525.4L450.5,526.4M457.5,519.3L453.8,521.6L450.8,518.5L450.6,514.7L451.4,514L457.8,514.6L457.5,519.3L460.5,521.8L459.6,525.3L454.8,526.1M445.7,522.9L450.8,518.5M453.6,525.4L453.8,521.6M464.7,508.1L463.7,513.7L462.8,514.4L458.4,514.2L458,508.6L460.5,506.1L464.7,508.1L467.1,507L469.2,507.1L472.4,504.5M451.9,507L458,508.6M459.7,501.9L455.4,499.8M459.7,501.9L460.5,506.1M451.2,507.8L451.4,514M457.8,514.6L458.4,514.2M440,512.5L444.3,515.6L446.3,514.5L444.7,507.8L440.9,508.6L440,512.5L436.1,514.5M442.9,519.8L444.3,515.6M438,506.1L440.9,508.6M445.2,507.4L444.7,507.8M450.6,514.7L446.3,514.5M470.3,500.4L464.9,501L463.4,500L464.5,494.9L465.9,493.5L468.9,494.5L470.3,500.4L472.2,502M467.1,507L464.9,501M472.5,493.3L468.9,494.5M465.1,489.9L465.9,493.5M459.7,501.9L463.4,500M457.3,494.5L464.5,494.9M526,377.8L519,379L520.9,385.1L526.6,383.2L526.6,379L526,377.8L526.5,374M520.3,386.1L520.9,385.1M527.2,383.7L526.6,383.2M546.8,375.4L543.5,379.4L544.8,383.2M547.1,390L547,389.9M541.7,391.8L542.1,391.1M550.5,397.1L542,395.5M541.6,396.8L542.5,401.4L535.9,402.2L534.8,401.3M548.8,402.4L542.6,401.5L542.5,401.4M547.1,408.6L541.1,407.4L542.6,401.5M517,371.2L520.6,372.4L518.7,378.7L513.5,378.4L513.7,374.6L517,371.2L516.2,368.4M523,371.7L520.6,372.4M509,369.8L513.7,374.6M519,379L518.7,378.7M512.5,379.3L513.5,378.4M540.1,379.4L539,385.3L533.9,385.1L534.1,378.9L534.6,378L538.3,377.5L540.1,379.4L543.5,379.4M539.5,385.6L539,385.3M542,371.3L540.8,372.3L538.3,377.5M531.9,372.3L540.8,372.3M531.9,372.3L534.6,378M533.5,385.3L533.9,385.1M526.6,379L534.1,378.9M531.9,372.3L531.8,372.2L530.5,372.1M536.6,365.6L536.2,365.6L532.1,363.3L530.9,358.9L534.7,356.9L537.8,358L536.6,365.6L539.5,366.5M531.8,372.2L536.2,365.6M540.3,357.5L537.8,358M528.5,366.3L532.1,363.3M528.2,357.9L530.9,358.9M534.6,351.7L534.7,356.9M357.3,298.7L357.9,307L364.2,306.5L362.5,299L357.3,298.7L357.2,298.6M357.8,307.1L357.9,307M365.4,306.9L364.2,306.5M375.9,284.7L375.5,285.1L375.4,291.5L375.6,291.8M322.4,264.9L328.7,266.1L330.1,264.9L329.5,257.3L324.1,257.8L322.4,264.9L322.4,265L322.5,273.3L315.5,272.5L315.9,264.8L316.1,264.7L322.4,265M330,256.8L329.5,257.3M337,266.1L330.1,264.9M321.7,248.1L320.1,254.9L324.1,257.8M328.5,272.7L328.7,266.1M306.1,255.8L308.8,256.7L308,263.9L300.3,263.1M299.6,270.9L307.2,271.5L308.3,264.3L308,263.9M311.2,247.4L311.9,254.9L316.3,256.4L320.1,254.9M311.9,254.9L308.8,256.7M322.9,273.7L322.5,273.3M316.3,256.4L316.1,264.7M308.3,264.3L315.9,264.8M307.2,271.5L307.5,271.9L314.9,273L315.5,272.5M322.5,279.8L320.7,281.2L314.5,279.3L314.9,273M307.5,271.9L306.3,279.6M283.1,333.8L283.3,333.7L285.1,326.7L277.4,324.1M290.5,342.7L290.9,336.4L283.3,333.7M299.3,328.6L292.5,327.3L291.7,335.9L298.5,335.9M290.9,336.4L291.7,335.9M264.6,409.4L262.8,401.4L254.8,400.6L253,405.7L262.2,411.2L264.6,409.4L268.9,409.6M264,400L262.8,401.4M260.3,416.4L262.2,411.2M252.5,406.1L253,405.7M254.4,399.6L254.8,400.6M357,538.2L361.8,538.7L366.5,525L356.3,523.1M375.8,517L374.5,525.3L367,524.8L365.2,512.7M367,524.8L366.5,525M539.4,408.9L536.4,407.2L533.7,408.4L532.8,414.1L540.1,415.7L540.3,415.5L539.4,408.9L541.1,407.4M535.9,402.2L536.4,407.2M545.9,415L540.3,415.5M531.5,414.6L532.8,414.1M528.3,406L533.7,408.4M538.6,422.3L540.1,415.7M367.8,277.2L367,282.2L370.6,284.6L375.5,285.1M358.1,283.4L366.4,282.7L367,282.2M357.9,290.5L364.7,291.3L366.4,282.7M291.5,326.2L285.3,326.6L285.1,318.9L293.2,318.1L293.9,319L291.5,326.2L292.5,327.3M285.1,326.7L285.3,326.6M300.6,319.5L293.9,319M283.6,317.2L285.1,318.9M292.3,311.2L293.2,318.1M369.7,538.4L374.5,525.3L377.7,526.8L379.4,539.4M369.7,538.4L375,541.7M362.1,538.9L369.7,538.4M374.5,525.3L374.5,525.3M380.6,526.6L377.7,526.8M462.8,514.4L464.2,520.4L460.5,521.8M477.8,507.2L477.9,511.4L475.7,512.9L470.7,512.2L469.2,507.1M463.7,513.7L468.9,514.5L470.7,512.2M456,531.3L464.3,530.8L465.6,533.1L465.4,536.3M459.6,525.3L464.2,530.1L465.1,528.1L464.9,520.7L464.2,520.4M464.3,530.8L464.2,530.1M480.4,546.7L486.2,548.5M480.4,546.7L475.2,551.7L478.2,558.4L482.2,559.1L486.2,556M469,549.1L475.2,551.7M470.2,541.3L477.6,539.4L480.4,546.7M472.8,562.4L478.2,558.4M485.1,568L482.2,559.1M370.7,291.5L370,291.2L365.3,291.9L365.6,296.9L368.5,298.9L370.8,298.1L370.7,291.5L375.4,291.5M370.6,284.6L370,291.2M375.1,298L370.8,298.1M364.7,291.3L365.3,291.9M362.5,299L365.6,296.9M368.8,305.5L368.5,298.9M314.5,279.3L313.2,280.3L306.8,280.1M479,520.6L478.2,523.7L473.9,525.9L471.1,523.4L470.1,520.3L470.4,519.7L474.6,518L479,520.6L481.2,519.2L481.4,513.6L477.9,511.4M475.7,512.9L474.6,518M473.7,529.8L473.9,525.9M473.7,529.8L465.6,533.1M465.1,528.1L471.1,523.4M468.9,514.5L470.4,519.7M464.9,520.7L470.1,520.3M481.2,519.2L484.8,520.6M478.2,523.7L481.7,527.1M473.7,529.8L480,534.9M477.6,539.4L480.4,535.8M307.8,308L307.9,307.4M297.3,294.7L305.5,295.4M305.9,287.7L305.6,295.3M312.5,303.6L317.7,303.1L317.8,303.1M310.6,296L312.7,294.7L318.3,296.2L317.7,303.1M306.2,287.5L313.1,288L312.7,294.7M313.2,280.3L313.8,287.6L313.1,288M481.4,513.6L485.5,512.4L486.2,504.7L485.6,504.5M320.4,287.1L319.2,288L319.5,295.2L326,296L326.1,295.9L327,288.6L320.4,287.1L320.7,281.2M313.8,287.6L319.2,288M328,287.9L327,288.6M318.3,296.2L319.5,295.2M334.2,296.5L326.1,295.9M325.7,303.2L326,296M490.3,498.9L490.5,501.4M486.2,504.7L488.6,503.9" fill="none" stroke="#000" stroke-width="0.6" stroke-opacity="0.9"/></g>
<path d="M86.4,631.2L90.9,608.1L95.3,585.1L99.8,562.1L104.3,539.3L108.7,516.6L113.1,493.9L117.5,471.2L121.9,448.7L126.3,426.1L130.7,403.7L135.1,381.2L139.4,358.8L143.8,336.4L148.2,314.1L152.5,291.7L156.9,269.3L161.2,247.0L165.6,224.6L170.0,202.2L174.3,179.8L178.7,157.3L183.1,134.8L187.5,112.3L191.9,89.7L196.3,67.1L200.7,44.3 M191.8,648.6L194.9,625.3L198.1,602.1L201.3,579.0L204.4,555.9L207.6,532.9L210.7,510.0L213.8,487.2L216.9,464.4L220.0,441.7L223.1,419.0L226.2,396.3L229.3,373.7L232.4,351.1L235.5,328.5L238.6,305.9L241.7,283.4L244.8,260.8L247.8,238.2L250.9,215.6L254.0,193.0L257.1,170.3L260.2,147.6L263.3,124.9L266.4,102.1L269.6,79.2L272.7,56.3 M298.0,660.1L299.8,636.6L301.7,613.3L303.5,590.0L305.4,566.8L307.2,543.7L309.0,520.6L310.9,497.7L312.7,474.7L314.5,451.9L316.3,429.0L318.1,406.2L319.9,383.5L321.7,360.7L323.5,338.0L325.3,315.3L327.1,292.6L328.9,269.9L330.7,247.2L332.5,224.4L334.3,201.7L336.2,178.9L338.0,156.0L339.8,133.1L341.6,110.2L343.4,87.2L345.3,64.1 M404.7,665.5L405.2,642.0L405.7,618.6L406.3,595.2L406.8,572.0L407.3,548.8L407.8,525.7L408.3,502.6L408.9,479.6L409.4,456.7L409.9,433.8L410.4,410.9L410.9,388.1L411.4,365.3L411.9,342.5L412.5,319.7L413.0,297.0L413.5,274.2L414.0,251.4L414.5,228.6L415.0,205.8L415.5,182.9L416.1,160.0L416.6,137.0L417.1,114.0L417.6,91.0L418.1,67.8 M511.5,664.9L510.7,641.4L509.9,617.9L509.1,594.6L508.3,571.4L507.5,548.2L506.7,525.1L506.0,502.1L505.2,479.1L504.4,456.1L503.6,433.2L502.8,410.4L502.0,387.6L501.3,364.8L500.5,342.0L499.7,319.2L498.9,296.5L498.1,273.7L497.4,250.9L496.6,228.1L495.8,205.3L495.0,182.4L494.2,159.5L493.5,136.6L492.7,113.6L491.9,90.5L491.1,67.4 M618.2,658.2L616.0,634.8L613.9,611.4L611.8,588.2L609.7,565.0L607.6,541.9L605.5,518.9L603.4,496.0L601.3,473.1L599.2,450.2L597.1,427.4L595.1,404.6L593.0,381.9L590.9,359.2L588.8,336.5L586.8,313.8L584.7,291.1L582.6,268.4L580.6,245.7L578.5,223.0L576.4,200.2L574.4,177.5L572.3,154.6L570.2,131.8L568.1,108.9L566.0,85.9L563.9,62.8 M724.2,645.5L720.8,622.2L717.3,599.0L713.9,576.0L710.5,552.9L707.1,530.0L703.7,507.1L700.3,484.3L696.9,461.6L693.5,438.9L690.2,416.2L686.8,393.6L683.5,371.0L680.1,348.5L676.8,325.9L673.4,303.4L670.1,280.9L666.7,258.3L663.4,235.8L660.0,213.2L656.6,190.6L653.3,168.0L649.9,145.3L646.5,122.6L643.2,99.9L639.8,77.0L636.4,54.1 M829.4,626.8L824.7,603.8L819.9,580.8L815.2,558.0L810.5,535.2L805.8,512.5L801.1,489.8L796.4,467.3L791.7,444.7L787.1,422.3L782.4,399.9L777.8,377.5L773.2,355.1L768.5,332.8L763.9,310.4L759.3,288.1L754.7,265.8L750.1,243.5L745.4,221.2L740.8,198.9L736.2,176.5L731.5,154.1L726.9,131.7L722.2,109.2L717.6,86.6L712.9,64.0L708.2,41.4 M-17.9,607.8L2.8,612.9L23.6,617.8L44.5,622.5L65.4,626.9L86.4,631.2L107.4,635.1L128.4,638.9L149.5,642.3L170.6,645.6L191.8,648.6L212.9,651.4L234.2,653.9L255.4,656.2L276.7,658.3L298.0,660.1L319.3,661.6L340.6,663.0L362.0,664.1L383.3,664.9L404.7,665.5L426.1,665.9L447.4,666.0L468.8,665.9L490.2,665.5L511.5,664.9L532.9,664.0L554.2,662.9L575.6,661.6L596.9,660.0L618.2,658.2L639.4,656.1L660.7,653.8L681.9,651.3L703.1,648.5L724.2,645.5L745.4,642.2L766.4,638.7L787.5,635.0L808.5,631.0L829.4,626.8L850.3,622.4L871.2,617.7L892.0,612.7L912.7,607.6L933.4,602.2 M10.9,494.6L30.4,499.4L49.9,504.1L69.4,508.4L89.0,512.6L108.7,516.6L128.4,520.3L148.1,523.8L167.9,527.1L187.7,530.1L207.6,532.9L227.4,535.5L247.4,537.9L267.3,540.1L287.2,542.0L307.2,543.7L327.2,545.2L347.2,546.4L367.2,547.4L387.3,548.2L407.3,548.8L427.4,549.1L447.4,549.2L467.5,549.1L487.5,548.8L507.5,548.2L527.6,547.4L547.6,546.4L567.6,545.1L587.6,543.6L607.6,541.9L627.5,540.0L647.5,537.8L667.4,535.5L687.2,532.8L707.1,530.0L726.9,527.0L746.7,523.7L766.4,520.2L786.1,516.4L805.8,512.5L825.4,508.3L844.9,503.9L864.4,499.3L883.9,494.4L903.3,489.4 M39.3,383.1L57.4,387.7L75.7,392.0L94.0,396.1L112.3,400.0L130.7,403.7L149.1,407.2L167.6,410.4L186.1,413.5L204.6,416.3L223.1,419.0L241.7,421.4L260.3,423.6L279.0,425.6L297.6,427.4L316.3,429.0L335.0,430.4L353.7,431.6L372.4,432.5L391.2,433.3L409.9,433.8L428.6,434.1L447.4,434.2L466.1,434.1L484.9,433.8L503.6,433.2L522.3,432.5L541.1,431.5L559.8,430.4L578.5,429.0L597.1,427.4L615.8,425.6L634.4,423.6L653.0,421.3L671.6,418.9L690.2,416.2L708.7,413.4L727.2,410.3L745.6,407.0L764.1,403.6L782.4,399.9L800.8,395.9L819.1,391.8L837.3,387.5L855.5,383.0L873.6,378.3 M67.4,272.6L84.3,276.8L101.3,280.8L118.3,284.6L135.4,288.3L152.5,291.7L169.7,294.9L186.8,298.0L204.1,300.8L221.3,303.5L238.6,305.9L255.9,308.2L273.2,310.3L290.6,312.1L307.9,313.8L325.3,315.3L342.7,316.6L360.2,317.7L377.6,318.6L395.0,319.2L412.5,319.7L429.9,320.0L447.4,320.1L464.8,320.0L482.3,319.7L499.7,319.2L517.1,318.5L534.6,317.6L552.0,316.5L569.4,315.3L586.8,313.8L604.1,312.1L621.5,310.2L638.8,308.1L656.1,305.9L673.4,303.4L690.7,300.7L707.9,297.9L725.0,294.8L742.2,291.6L759.3,288.1L776.4,284.5L793.4,280.7L810.4,276.6L827.3,272.4L844.2,268.0 M95.5,162.1L111.2,166.0L126.9,169.7L142.7,173.2L158.5,176.6L174.3,179.8L190.2,182.8L206.1,185.6L222.1,188.2L238.0,190.7L254.0,193.0L270.0,195.1L286.1,197.0L302.2,198.7L318.2,200.3L334.3,201.7L350.5,202.8L366.6,203.8L382.7,204.7L398.9,205.3L415.0,205.8L431.2,206.0L447.3,206.1L463.5,206.0L479.7,205.7L495.8,205.3L512.0,204.6L528.1,203.8L544.2,202.8L560.3,201.6L576.4,200.2L592.5,198.7L608.6,196.9L624.6,195.0L640.6,192.9L656.6,190.6L672.6,188.2L688.6,185.5L704.5,182.7L720.3,179.7L736.2,176.5L752.0,173.1L767.8,169.6L783.5,165.9L799.2,162.0L814.8,157.9 M123.8,50.8L138.2,54.4L152.7,57.8L167.2,61.1L181.7,64.1L196.3,67.1L210.9,69.8L225.5,72.4L240.2,74.9L254.9,77.1L269.6,79.2L284.3,81.1L299.1,82.9L313.8,84.5L328.6,85.9L343.4,87.2L358.2,88.3L373.1,89.2L387.9,89.9L402.8,90.5L417.6,91.0L432.5,91.2L447.3,91.3L462.2,91.2L477.0,90.9L491.9,90.5L506.7,89.9L521.6,89.2L536.4,88.2L551.2,87.1L566.0,85.9L580.8,84.4L595.6,82.8L610.3,81.1L625.1,79.1L639.8,77.0L654.5,74.8L669.1,72.3L683.7,69.7L698.3,67.0L712.9,64.0L727.4,61.0L741.9,57.7L756.4,54.3L770.8,50.7L785.2,46.9" fill="none" stroke="#888" stroke-opacity="0.3" stroke-width="0.5"/>
<path d="M170.6,157.1L232.2,168.2 M232.2,168.2L232.9,164.5L233.0,159.9L232.2,152.8L232.3,146.3L232.3,138.9L233.4,132.1L232.4,123.8L232.1,115.6L232.8,106.4 M232.2,168.2L230.9,171.1L226.8,174.7L228.6,179.6L231.7,182.8L229.1,200.9L225.6,223.5 M225.6,223.5L311.5,234.1 M225.6,223.5L223.2,224.9L223.1,228.9L224.2,232.0L222.6,235.7L220.2,239.9L221.3,243.1L221.7,245.9 M157.4,223.0L190.2,229.2L193.2,231.5L198.4,235.7L204.4,235.1L210.2,235.8L214.7,239.3L218.5,242.7L221.7,245.9 M221.7,245.9L223.0,248.4L222.8,253.0L223.6,256.8L225.6,259.2L225.3,264.9L227.3,271.0L226.7,275.3L226.9,281.3L226.8,286.3L227.2,290.9 M227.2,290.9L257.5,295.2L296.6,298.8L298.3,301.0L301.3,304.5 M227.2,290.9L228.0,296.4L231.0,299.8L233.2,305.2L236.5,308.6L239.0,311.8L239.7,313.0L235.5,315.6L237.6,319.6L239.2,324.0L242.7,327.0 M144.0,290.0L233.2,305.2 M242.7,327.0L236.2,374.6L234.7,386.0 M130.5,357.0L236.2,374.6 M234.7,386.0L234.9,411.5L228.7,451.2 M172.7,436.8L181.9,439.5L189.4,440.7L196.7,443.6L204.5,442.7L214.0,443.6L219.4,446.2L223.9,448.7L228.7,451.2 M228.7,451.2L232.9,453.1L236.8,454.3L235.3,466.4 M235.3,466.4L232.3,489.6L234.3,493.3L235.5,499.3L238.7,509.0L239.5,513.7L235.1,522.5L233.3,528.6L233.7,534.0L229.7,537.0L229.8,543.1 M235.3,466.4L290.2,472.7 M234.7,386.0L316.3,394.7L317.5,397.5L316.0,400.3L313.8,402.9L311.1,405.7L323.3,406.6 M305.8,159.8L302.9,160.6L301.5,160.5L300.1,173.7L297.3,175.7L292.8,177.5L289.6,183.1L291.5,187.9L292.7,189.0L290.2,195.2L289.5,199.7L288.7,203.0L292.3,207.6L296.0,210.7L300.0,212.3L302.7,217.2L305.7,220.9L311.0,226.0L311.3,230.6L311.5,234.1 M311.5,234.1L311.4,238.6L311.7,244.4L312.4,251.3L315.1,253.2L318.8,257.4 M318.8,257.4L322.4,262.5L326.2,267.4L326.2,271.9L325.2,274.2L323.0,276.3L320.5,279.5L317.8,280.4L310.0,281.5L308.7,286.4L311.0,289.6L307.9,295.1L302.2,300.7L301.3,304.5 M301.3,304.5L299.7,308.5L300.5,314.7L301.0,320.0L305.1,326.1L311.1,331.3L311.3,335.9L312.7,339.9L315.5,338.3L320.1,340.3L321.0,342.4L319.7,346.2L316.0,353.4L315.5,355.7L318.2,359.3L321.0,361.1L324.8,363.3L329.7,369.4L329.1,377.3L330.7,381.3L335.7,385.1 M335.7,385.1L334.0,391.4L331.1,392.8L329.6,395.7L327.4,394.1L327.4,398.9L325.9,401.3L323.3,406.6 M323.3,406.6L324.9,409.5L319.3,414.4L316.1,419.8L315.1,426.0L310.7,428.7 M310.7,428.7L305.1,435.0L304.4,440.7L296.7,448.1L293.6,451.2L290.8,456.7L293.2,463.9L290.2,472.7 M290.2,472.7L290.7,482.1L293.9,488.1L290.6,493.6L282.7,505.4L280.3,510.0L276.9,517.8 M276.9,517.8L314.4,521.1 M314.4,521.1L312.0,526.0L311.8,529.0L314.4,533.8L315.3,537.8L316.9,540.3 M350.0,431.5L351.7,434.0L340.5,502.1L339.6,536.7 M310.7,428.7L350.0,431.5L398.6,433.8L422.6,434.3L445.3,434.2 M398.6,433.8L405.3,482.5L408.6,493.4L408.7,495.7L407.1,504.9L405.6,511.8L406.2,518.7L407.1,523.3L407.8,525.7 M407.8,525.7L356.4,523.8L355.7,527.2L360.0,532.0L358.8,535.4L359.1,537.8L357.2,540.5 M407.8,525.7L410.5,532.4 M410.5,532.4L463.1,536.0L463.2,539.9L466.4,540.8L466.9,535.2L467.2,530.8L473.2,531.7L478.2,532.5 M488.8,501.9L484.4,500.3L483.4,495.8L478.4,489.0L476.3,479.8L467.5,469.6L462.7,465.1L455.9,458.2L452.1,452.5L449.3,446.1L445.5,445.0L440.8,441.1L441.4,439.2L445.3,434.2 M445.3,434.2L451.5,432.4L459.5,429.8L484.0,430.4L484.1,432.9L486.1,431.5L489.0,435.3L489.1,437.8L510.0,437.6L532.3,458.4 M422.6,434.3L423.3,429.5L428.7,425.0L430.6,422.7L438.1,421.2L442.7,418.2L448.3,413.2L454.8,411.3L458.5,409.0L464.9,408.5L467.6,404.4L471.6,397.7 M329.6,395.7L354.7,397.4L354.6,393.2L383.3,395.2L410.7,396.8L435.0,397.6L471.6,397.7 M471.6,397.7L502.4,398.0L578.0,393.5 M435.0,397.6L445.5,391.9L449.7,390.8L452.5,387.4L459.2,382.3L466.0,376.1 M466.0,376.1L460.0,372.9L457.8,369.1L454.5,362.3L454.7,356.1 M466.0,376.1L471.4,383.8L479.5,382.7L485.5,381.2L496.2,375.7L496.1,371.8L501.3,364.8L504.6,358.5L507.1,351.6L513.4,354.7L520.7,346.6L526.1,340.9L529.2,331.8L538.7,337.3L540.4,332.8 M490.2,304.9L487.8,306.4L488.7,311.1L487.1,318.0L485.5,323.1L484.7,327.6L479.1,333.5L474.6,333.3L472.8,336.5L469.5,340.5L469.2,344.3L464.5,343.3L461.9,347.4L461.6,352.0L459.9,355.4L454.7,356.1 M454.7,356.1L450.0,352.7L447.4,349.1L442.0,352.0L435.8,351.3L432.3,349.2L426.1,347.3L424.3,342.7L420.8,340.4L415.2,340.2 M415.2,340.2L414.0,344.8L408.2,349.3L404.3,348.5L403.7,352.6L400.0,358.2L397.6,358.8L395.3,364.9L392.5,365.7L388.2,361.2L384.4,366.3L379.1,364.7L373.5,369.0L368.3,365.1L364.7,364.7L359.2,366.0L356.8,367.7 M356.8,367.7L354.4,371.0L355.7,374.5L348.7,376.4L347.3,383.8L340.2,380.4L336.4,383.6L335.7,385.1 M356.8,367.7L355.8,363.1L358.7,358.7L362.6,353.2L367.0,347.7L365.0,341.9L366.5,336.3L367.6,332.9L370.4,279.2 M415.2,340.2L416.7,281.2 M376.0,278.3L416.7,279.7 M416.6,281.2L439.7,280.7 M490.2,304.9L489.4,274.4 M490.2,304.9L490.8,325.8 M490.8,325.8L573.6,321.3 M573.6,321.3L574.6,319.4L576.7,318.3L580.0,318.9 M499.0,268.2L499.2,273.7L576.7,268.9 M576.7,268.9L581.9,273.7L584.0,279.7L589.2,282.5L586.1,287.5L582.5,291.7L581.9,298.2L584.4,301.4L586.8,304.6L590.7,308.8L589.2,311.3L585.1,315.1L580.0,318.9L578.0,323.7L578.3,327.1 M589.2,282.5L603.5,289.3 M509.1,325.2L509.4,337.1L512.6,334.7L516.5,330.6L521.7,326.3L527.3,328.3L529.8,326.3L531.8,324.9L537.7,326.6L539.8,332.2L540.4,332.8 M540.4,332.8L544.5,336.4L545.5,338.2L549.2,340.3L553.1,342.7L553.1,346.2L549.8,349.8L549.1,353.3L554.6,355.2L556.5,356.2L562.1,359.2L567.7,362.2 M573.6,321.3L577.7,349.8L589.1,349.0 M574.0,361.8L579.8,360.1L586.6,358.9 M607.6,288.8L606.2,286.7L610.2,283.7L608.8,281.8L608.0,264.7 M608.0,264.7L610.0,248.6 M610.0,248.6L608.2,230.3L605.6,229.0L604.3,220.4L605.0,208.8L603.1,197.3 M608.0,264.7L619.6,263.8L636.5,262.0 M636.7,262.3L637.8,271.5L637.5,278.0 M636.5,262.2L643.5,261.2L644.7,263.7L647.5,268.0L649.5,272.3 M610.0,248.6L623.4,247.4L642.8,245.6L643.5,244.6L647.3,241.3L650.2,240.7 M623.4,247.4L621.2,241.4L622.9,234.3L623.2,227.4L624.9,223.3L626.4,215.5L626.0,209.8L632.8,205.5L632.6,193.8 M651.6,235.9L649.2,233.2L646.3,230.2L644.7,220.0L641.7,204.3L638.4,186.3 M581.3,199.8L632.6,193.8L633.6,188.6L638.4,186.3L642.6,183.4L647.6,173.5L648.9,165.2L651.2,159.1L651.1,152.4L660.2,133.1L663.0,133.3L666.3,138.6L674.3,133.1L683.8,138.3L688.4,163.7L694.9,170.5L697.5,180.5L699.2,179.2L704.9,184.9 M556.9,220.2L564.5,212.7L571.9,204.1L581.3,199.8 M512.9,244.4L514.0,248.6L515.5,252.5 M445.2,273.9L445.7,267.7L449.0,266.6 M455.7,260.9L457.0,251.7 M433.0,183.2L429.9,177.4L426.0,171.6L422.1,172.3 M266.4,102.1L271.6,109.3L283.2,114.7L292.4,114.2L302.5,120.4L309.8,123.5L318.5,129.7L327.9,127.5L340.0,130.8L347.4,133.7 M374.1,281.4L369.3,276.0L368.2,271.3L366.2,264.2L366.7,259.2L366.0,248.8L366.7,240.7L369.9,232.6L371.1,224.9L373.4,223.0L374.0,216.6L375.3,213.5L377.7,207.9L383.0,199.0L383.8,197.8L380.5,200.7L376.2,206.6L371.1,211.0L366.0,214.6L366.7,210.7L368.9,205.6L373.2,201.9L373.4,197.3L378.5,191.9L382.7,187.5L383.7,184.1L387.6,186.1L390.6,190.8L390.0,184.8L395.6,183.4L401.2,182.5L408.4,180.9L415.5,182.9L419.8,186.0L419.7,188.0L414.6,190.9L414.0,195.4L416.3,197.1L411.0,198.3L408.7,201.0L407.7,206.7L405.2,210.8L405.4,202.1L402.6,205.0L398.0,207.6L394.8,213.6L392.9,222.2L389.6,226.4L390.6,230.1L388.9,235.8L391.9,245.5L393.2,249.4L393.6,256.0L392.2,264.4L388.5,270.9L383.7,278.0L381.0,279.5L374.1,281.4 M419.7,188.0L423.8,191.1L434.2,196.5L439.6,198.1L440.4,204.7L442.5,209.5L442.6,214.1L442.0,219.4L440.0,223.2L435.9,228.0L432.2,232.3L432.2,236.9L435.0,237.6L439.9,235.1L442.9,230.3L448.5,227.4L453.1,232.4L455.2,245.6L457.0,251.7L461.5,250.1L468.1,244.8L468.4,234.5L469.6,224.7L473.9,217.3L474.9,208.1L470.7,202.5L468.7,200.2L474.8,205.8L475.6,207.0L477.4,211.5L481.0,215.3L486.4,214.7L492.6,216.8L496.2,216.0L497.9,210.9L498.3,207.5L494.7,197.3L488.9,191.8L484.8,188.0L480.8,184.4L471.2,183.7L464.8,180.8L457.6,179.1L448.0,179.1L438.6,177.5L434.7,176.3L432.3,180.9L433.0,183.4L425.9,183.5L419.8,186.0L419.7,188.0 M433.8,177.2L441.2,178.3L449.4,180.1L457.7,180.5L465.9,181.6L470.0,182.9L471.2,187.9L468.4,192.0L467.2,195.8L463.4,193.2L454.4,189.5L447.8,187.6L441.2,184.9L435.4,182.1L433.8,177.2 M304.7,158.7L306.1,160.0L315.7,159.1L324.6,156.0L325.7,161.9L323.4,164.0L330.9,165.3L340.7,160.8L348.4,159.8L354.3,157.2L359.4,152.3L367.3,147.5L371.6,147.5L374.4,148.8L369.4,153.6L364.5,157.9L361.8,163.2L365.1,160.2L369.9,158.9L373.3,162.3L378.0,168.9L386.6,171.6L389.7,172.4L400.5,166.9L408.0,167.1L416.7,165.3L415.4,168.5L415.8,171.9L422.5,173.9L426.0,171.6L422.1,170.9L423.8,167.0L423.1,161.7L421.6,154.8L420.1,150.9L416.4,146.2L418.1,138.2L408.8,138.0L402.8,134.4L398.5,125.0L396.0,119.8L385.1,118.0L371.6,114.5L363.6,121.0L358.6,127.6L352.7,124.9L350.7,131.6L347.4,133.7L339.4,137.7L328.2,141.4L316.6,149.5L309.8,154.6L304.7,158.7 M351.8,137.5L363.0,131.3L363.8,130.7L354.9,137.0L351.8,137.5 M439.7,280.7L445.7,283.7L452.5,287.1L461.0,287.5L469.5,285.8L477.1,280.0L488.0,275.6L496.4,270.8L502.0,267.4L512.7,257.6L516.4,253.6L513.3,253.0L505.8,253.6L494.2,256.0L490.2,260.9L482.6,259.3L475.9,259.5L466.7,268.0L457.5,273.4L455.8,276.8L449.0,275.0L445.2,273.9L443.1,275.7L439.7,280.7 M449.0,266.6L452.4,259.7L455.7,260.9L457.0,266.5L452.4,267.7L449.0,266.6 M500.5,243.9L506.8,236.9L514.8,230.3L529.5,227.8L537.7,227.3L546.0,229.0L549.1,226.5L553.8,222.7L556.9,220.2L559.0,225.8L559.7,234.9L554.9,237.1L546.9,242.0L537.0,243.5L521.9,241.4L512.9,244.4L508.0,245.9L500.5,243.9 M602.8,197.6L604.3,206.6L603.7,214.7L604.0,219.3L605.2,219.2L605.5,213.4L606.1,206.4L605.4,197.3L602.8,197.6 M631.8,151.4L637.2,144.9L643.8,135.8L648.9,128.1L650.8,119.7 M631.9,152.5L641.9,144.2L648.4,135.1L654.7,124.9L661.0,115.7 M581.3,199.8L584.3,197.2L585.6,194.8L580.0,186.1L562.8,192.2L549.7,188.7L542.9,183.4L529.7,176.2L515.3,174.2L506.9,162.5L501.8,152.4L501.2,146.6L499.9,113.3 M150.0,590.0L180.0,566.0L192.0,559.1L198.4,554.5L203.6,550.2L205.1,546.0L204.7,541.8L206.8,538.6L210.0,539.6L213.2,538.0L213.6,541.8L210.6,543.9L211.1,547.1L215.3,544.9L221.6,543.5L229.1,542.2 M229.1,542.2L229.7,543.0L235.4,542.2L240.7,541.8L244.9,543.5L249.2,544.9L252.4,547.1L255.5,548.1L259.8,549.8L262.9,548.5L265.1,546.0L268.2,545.2L270.8,546.4L269.3,548.5L272.1,549.4L273.5,547.3L275.0,549.8L277.8,551.9L279.3,554.9L280.9,557.9L283.5,559.1L286.2,560.0L287.7,562.1L291.1,560.8L293.7,562.1L294.9,559.6L297.5,558.7L299.2,561.7L302.1,562.9L304.2,560.0L306.4,557.0L308.9,556.6L310.6,559.1L313.1,560.8L316.9,562.1L319.9,560.8L322.5,562.9L325.0,564.2L324.1,566.8L320.3,568.0L318.2,565.5L319.1,563.4L315.7,562.5L312.7,560.0L311.9,557.0L313.8,553.4L316.9,552.4L319.5,549.4L322.5,547.3L323.7,543.9L321.2,543.0L318.2,544.7L314.8,546.4L312.3,545.2L313.8,542.2L319.1,540.9L324.4,539.6 M295.8,537.1L297.9,535.0L302.1,534.1L306.4,535.0L308.9,538.0L307.4,540.9L303.2,542.2L298.9,541.3L296.2,539.6L295.8,537.1 M324.4,539.6L331.8,537.5L340.2,538.4L345.5,540.1L348.3,540.9L347.4,535.4L348.3,530.8L350.0,531.2L350.8,536.5L351.3,539.6L355.1,540.9L357.2,540.5 M357.2,540.5L360.0,539.7L361.8,535.6L364.8,535.3L364.0,538.9L363.6,539.6L377.6,539.1L383.6,540.0L393.4,545.4L399.2,551.4L400.1,556.2L407.1,557.6L414.1,552.9L420.3,550.2L423.4,547.4L427.4,547.3L429.5,549.1L432.3,549.6L434.4,551.5L435.3,554.0L438.3,554.9L439.3,557.3L439.3,560.8L440.8,563.1L443.4,564.4L444.1,567.4L446.4,568.9L448.1,571.2L451.1,572.2L452.5,574.7L454.6,584.0 M575.2,381.1L580.2,371.5L584.0,362.8L588.5,352.5L589.1,349.0L588.1,341.6L585.4,337.9L581.4,332.5L578.3,327.1 M578.0,323.7L579.1,325.9L584.8,331.1L590.3,332.4L589.9,338.0L598.3,327.3L603.0,317.9L603.4,309.9L603.1,301.4L598.7,301.6L599.3,298.4L601.8,297.4L603.0,292.7L603.5,289.3L602.0,282.5L602.7,289.3L602.7,295.1L604.9,293.7L607.6,288.8L615.1,284.6L619.9,281.3L629.2,279.9L633.4,278.5L637.5,278.0L643.8,276.0L644.7,272.9L644.2,266.1L646.3,271.6L648.2,273.1L649.5,272.3L653.0,270.6L656.6,265.5L657.0,270.8L667.8,265.8L668.2,262.7L665.7,257.3L663.1,257.2L665.4,260.8L666.6,263.4L659.0,264.5L656.0,261.0L654.3,255.5L648.9,252.8L650.9,249.1L654.6,245.1L650.8,242.2L650.2,240.7L651.6,235.9L653.3,230.3L656.0,225.3L658.2,223.4L657.1,221.7L659.3,220.9L659.9,218.1L662.3,217.5L664.8,217.9L666.2,215.0L668.6,215.4L671.4,214.4L671.5,210.7L674.4,209.8L676.7,208.2L674.9,205.3L677.8,203.8L677.2,201.3L677.6,198.9L678.6,201.9L681.6,202.9L684.0,204.0L686.6,203.2L689.2,201.6L690.9,199.0L693.6,199.2L694.1,195.8L697.0,196.3L698.3,194.2L701.2,193.6L700.9,189.8L704.4,189.7L705.3,187.2L706.0,186.6L706.1,183.9L703.1,183.0L702.5,180.7L705.2,181.3L706.8,178.3L709.7,179.3L711.8,177.8L718.5,174.2L726.5,169.1 M602.6,298.8L612.9,295.8L622.4,292.3L631.8,288.3L639.7,283.8L638.4,282.3L634.0,283.4L635.9,284.9L629.9,285.3L622.4,288.3L612.9,291.7L606.4,294.0L603.2,296.2L602.6,298.8 M654.8,275.0L661.3,274.1L659.2,271.6L654.8,275.0 M664.8,274.7L669.7,275.2L667.9,272.4L664.8,274.7 M571.3,324.7L568.3,328.3L564.7,332.9L563.1,337.1L561.7,342.0L563.9,347.0L566.4,351.1L569.0,354.4L567.7,358.5L569.7,363.4L570.3,368.4L571.3,373.3L572.9,378.3L574.9,382.4L575.9,386.0L577.2,390.0 M572.3,324.7L573.3,329.7L571.3,334.6L572.9,339.5L575.6,344.5L573.6,349.4L575.3,355.2L579.5,356.8L580.5,361.0L577.9,365.9L575.7,372.5L574.6,380.2 M562.6,355.7L559.8,353.0L556.5,349.8L554.2,346.5L551.5,343.2L552.5,339.9L549.9,337.2L546.6,335.3L543.6,332.9 M561.7,354.4L558.5,352.4L555.8,348.8L552.9,347.1L550.9,341.2L548.2,338.2L544.9,333.9 M570.6,372.8L566.4,368.5L562.2,364.3L558.1,360.1L554.0,356.0L550.2,352.1 M569.7,373.5L565.0,369.2L561.1,365.2L557.1,361.3 M571.6,377.8L567.2,374.1L563.1,370.8L559.1,367.5L555.8,365.2 M575.6,386.7L570.6,385.7L566.4,383.4L561.4,380.7L557.3,378.4L553.8,377.4L550.2,374.5 M572.9,387.3L568.3,384.7L564.1,382.4L559.8,380.1 M564.7,349.4L562.4,345.5L560.4,341.2L559.4,337.2 M572.9,339.5L576.9,338.9L579.2,336.6 M575.4,349.4L578.9,347.1L581.2,344.5 M577.6,365.6L580.5,363.3 M577.2,390.0L579.5,397.2L582.8,405.4L586.1,411.2L588.1,415.7L587.8,420.3L584.5,424.4L579.5,427.7L572.9,431.8L566.4,435.9L561.1,438.7 M578.9,398.2L574.9,399.5L570.6,398.5L566.4,399.5L562.7,398.8L560.1,400.8L559.4,396.9 M580.5,406.1L575.9,405.4L571.3,403.8L566.4,404.8L562.4,403.5L560.1,400.8 M574.6,405.4L573.9,410.0L575.3,413.7 M581.2,407.4L578.9,412.4L575.3,414.0L571.3,415.7L567.7,414.3L564.4,415.7L560.4,416.3L556.5,415.3L560.8,418.0L566.0,419.3L570.6,421.3L568.0,423.9L564.4,425.2L560.8,426.5L556.1,428.2L562.4,430.1L567.3,432.1L564.7,435.1L559.8,437.7 M570.6,417.3L566.4,417.0L561.7,417.3 M569.0,425.2L564.7,426.9L560.1,428.8 M494.4,583.4L489.0,571.9L487.9,567.3L483.7,557.0L482.1,551.2L479.8,542.0L478.6,532.8L479.9,530.5L477.5,528.0L479.1,525.8L480.5,523.7L479.5,520.8L481.3,518.9L483.0,516.2L483.1,513.0L485.5,510.6L485.6,507.2L488.4,505.2L489.4,501.8L491.6,500.1L492.7,497.4L495.5,497.1L497.0,494.7L497.8,491.3L500.8,491.1L502.4,487.9L505.5,487.8L507.7,484.7L510.6,484.2L512.0,481.6L515.3,480.9L517.7,478.6L520.2,476.9L520.8,473.9L523.8,465.7L526.0,462.4L532.3,458.4L542.5,456.7L543.3,458.0L544.2,453.2L550.3,444.8L558.4,438.5L566.8,436.8L569.2,438.9 M229.1,542.2L228.0,539.6L229.3,537.1L231.4,538.0L231.0,541.3L229.7,543.0 M292.8,535.8L294.9,535.0L295.8,537.1L294.5,538.8L292.8,537.5L292.8,535.8 M329.2,544.9L330.7,548.1L330.1,551.9L328.6,553.4 M239.0,541.8L238.6,538.4L240.3,536.3L242.0,538.0L241.1,541.8 M250.4,541.8L253.0,539.6L256.8,540.5L258.5,543.5L255.5,545.2L252.1,544.3L250.4,541.8 M264.0,549.4L266.5,547.7L269.5,548.1L270.8,550.2 M670.7,137.2L672.0,130.7L673.3,120.4L676.0,117.5L679.0,116.3L682.5,116.6L684.7,118.1L687.0,120.0L690.2,117.9L692.0,116.5L694.0,116.0" fill="none" stroke="#000" stroke-width="1.5" stroke-linejoin="round" stroke-linecap="round"/>
</g>
<rect x="192.4" y="116.9" width="510.1" height="452.5" fill="none" stroke="#000" stroke-width="1"/>
<line x1="180.9" x2="192.4" y1="159.3" y2="159.3" stroke="#111" stroke-width="1"/>
<line x1="180.9" x2="192.4" y1="206.3" y2="206.3" stroke="#111" stroke-width="1"/>
<line x1="180.9" x2="192.4" y1="252.7" y2="252.7" stroke="#111" stroke-width="1"/>
<line x1="180.9" x2="192.4" y1="299.3" y2="299.3" stroke="#111" stroke-width="1"/>
<line x1="180.9" x2="192.4" y1="345.3" y2="345.3" stroke="#111" stroke-width="1"/>
<line x1="180.9" x2="192.4" y1="391.3" y2="391.3" stroke="#111" stroke-width="1"/>
<line x1="180.9" x2="192.4" y1="437.7" y2="437.7" stroke="#111" stroke-width="1"/>
<line x1="180.9" x2="192.4" y1="484.0" y2="484.0" stroke="#111" stroke-width="1"/>
<line x1="180.9" x2="192.4" y1="531.0" y2="531.0" stroke="#111" stroke-width="1"/>
<line x1="202.4" x2="202.4" y1="569.4" y2="580.9" stroke="#111" stroke-width="1"/>
<line x1="305.2" x2="305.2" y1="569.4" y2="580.9" stroke="#111" stroke-width="1"/>
<line x1="406.8" x2="406.8" y1="569.4" y2="580.9" stroke="#111" stroke-width="1"/>
<line x1="508.5" x2="508.5" y1="569.4" y2="580.9" stroke="#111" stroke-width="1"/>
<line x1="610.0" x2="610.0" y1="569.4" y2="580.9" stroke="#111" stroke-width="1"/>
<rect x="228.70" y="632.9" width="20.19" height="17.899999999999977" fill="#af0926"/>
<rect x="248.59" y="632.9" width="20.19" height="17.899999999999977" fill="#c62027"/>
<rect x="268.48" y="632.9" width="20.19" height="17.899999999999977" fill="#db382b"/>
<rect x="288.37" y="632.9" width="20.19" height="17.899999999999977" fill="#e75337"/>
<rect x="308.26" y="632.9" width="20.19" height="17.899999999999977" fill="#f47044"/>
<rect x="328.15" y="632.9" width="20.19" height="17.899999999999977" fill="#f98e52"/>
<rect x="348.05" y="632.9" width="20.19" height="17.899999999999977" fill="#fcaa5f"/>
<rect x="367.94" y="632.9" width="20.19" height="17.899999999999977" fill="#fdc374"/>
<rect x="387.83" y="632.9" width="20.19" height="17.899999999999977" fill="#fed889"/>
<rect x="407.72" y="632.9" width="20.19" height="17.899999999999977" fill="#feea9f"/>
<rect x="427.61" y="632.9" width="20.19" height="17.899999999999977" fill="#fff8b5"/>
<rect x="447.50" y="632.9" width="20.19" height="17.899999999999977" fill="#f8fccb"/>
<rect x="467.39" y="632.9" width="20.19" height="17.899999999999977" fill="#eaf7e6"/>
<rect x="487.28" y="632.9" width="20.19" height="17.899999999999977" fill="#d8eff6"/>
<rect x="507.17" y="632.9" width="20.19" height="17.899999999999977" fill="#c1e4ef"/>
<rect x="527.06" y="632.9" width="20.19" height="17.899999999999977" fill="#a8d6e8"/>
<rect x="546.95" y="632.9" width="20.19" height="17.899999999999977" fill="#8ec2dc"/>
<rect x="566.85" y="632.9" width="20.19" height="17.899999999999977" fill="#76afd2"/>
<rect x="586.74" y="632.9" width="20.19" height="17.899999999999977" fill="#6095c4"/>
<rect x="606.63" y="632.9" width="20.19" height="17.899999999999977" fill="#4b7db8"/>
<rect x="626.52" y="632.9" width="20.19" height="17.899999999999977" fill="#3e60aa"/>
<rect x="646.41" y="632.9" width="20.19" height="17.899999999999977" fill="#35429b"/>
<path d="M248.59,632.9V650.8 M268.48,632.9V650.8 M288.37,632.9V650.8 M308.26,632.9V650.8 M328.15,632.9V650.8 M348.05,632.9V650.8 M367.94,632.9V650.8 M387.83,632.9V650.8 M407.72,632.9V650.8 M427.61,632.9V650.8 M447.50,632.9V650.8 M467.39,632.9V650.8 M487.28,632.9V650.8 M507.17,632.9V650.8 M527.06,632.9V650.8 M546.95,632.9V650.8 M566.85,632.9V650.8 M586.74,632.9V650.8 M606.63,632.9V650.8 M626.52,632.9V650.8 M646.41,632.9V650.8" stroke="#000" stroke-width="0.6" fill="none"/>
<rect x="228.7" y="632.9" width="437.59999999999997" height="17.899999999999977" fill="none" stroke="#000" stroke-opacity="0.3" stroke-width="0.5"/>
</svg>
</body></html>
